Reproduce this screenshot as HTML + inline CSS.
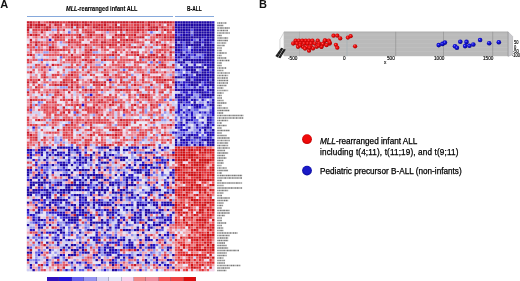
<!DOCTYPE html>
<html><head><meta charset="utf-8"><style>
*{margin:0;padding:0;box-sizing:border-box}
html,body{width:520px;height:281px;background:#fff;overflow:hidden}
body{position:relative;font-family:"Liberation Sans",sans-serif;color:#111;-webkit-font-smoothing:antialiased}
.a{position:absolute;white-space:nowrap;line-height:1;filter:grayscale(1)}
.lg{color:#000;-webkit-text-stroke:0.25px #000}
.gl{position:absolute;filter:grayscale(1);left:217px;font-size:8px;line-height:1;color:#5a5a5a;white-space:nowrap;transform:scale(0.31);transform-origin:0 0}
.ax{position:absolute;filter:grayscale(1);font-size:5.6px;line-height:1;color:#000;-webkit-text-stroke:0.15px #000;white-space:nowrap;transform:scaleX(0.84);transform-origin:0 0}
</style></head><body>
<div class="a" style="left:0.3px;top:-1.1px;font-size:11px;font-weight:bold">A</div>
<div class="a" style="left:65.8px;top:6.1px;font-size:6.5px;font-weight:bold;-webkit-text-stroke:0.12px #000;color:#000;transform:scaleX(0.86);transform-origin:0 0"><i>MLL</i>-rearranged infant ALL</div>
<div class="a" style="left:187.1px;top:6.1px;font-size:6.5px;font-weight:bold;-webkit-text-stroke:0.12px #000;color:#000;transform:scaleX(0.75);transform-origin:0 0">B-ALL</div>
<div style="position:absolute;left:27px;top:15.8px;width:145.7px;height:0.75px;background:#86a9dc"></div>
<div style="position:absolute;left:175px;top:15.8px;width:39.4px;height:0.75px;background:#86a9dc"></div>
<svg style="position:absolute;left:0;top:0;filter:blur(0.6px)" width="520" height="281" viewBox="0 0 520 281"><rect x="26.60" y="21.00" width="187.90" height="250.30" fill="#ebe8f3"/><path fill="#c81a28" d="M26.90 21.30h2.48v2.26h-2.48zM29.64 21.30h2.48v2.26h-2.48zM37.86 21.30h2.48v2.26h-2.48zM48.83 21.30h2.48v2.26h-2.48zM51.57 21.30h2.48v2.26h-2.48zM54.31 21.30h2.48v2.26h-2.48zM57.05 21.30h2.48v2.26h-2.48zM68.01 21.30h2.48v2.26h-2.48zM70.75 21.30h2.48v2.26h-2.48zM73.49 21.30h2.48v2.26h-2.48zM76.23 21.30h2.48v2.26h-2.48zM81.71 21.30h2.48v2.26h-2.48zM84.46 21.30h2.48v2.26h-2.48zM89.94 21.30h2.48v2.26h-2.48zM100.90 21.30h2.48v2.26h-2.48zM103.64 21.30h2.48v2.26h-2.48zM106.38 21.30h2.48v2.26h-2.48zM109.12 21.30h2.48v2.26h-2.48zM111.86 21.30h2.48v2.26h-2.48zM114.60 21.30h2.48v2.26h-2.48zM117.34 21.30h2.48v2.26h-2.48zM120.09 21.30h2.48v2.26h-2.48zM122.83 21.30h2.48v2.26h-2.48zM125.57 21.30h2.48v2.26h-2.48zM131.05 21.30h2.48v2.26h-2.48zM133.79 21.30h2.48v2.26h-2.48zM136.53 21.30h2.48v2.26h-2.48zM139.27 21.30h2.48v2.26h-2.48zM142.01 21.30h2.48v2.26h-2.48zM147.49 21.30h2.48v2.26h-2.48zM150.23 21.30h2.48v2.26h-2.48zM152.97 21.30h2.48v2.26h-2.48zM158.46 21.30h2.48v2.26h-2.48zM161.20 21.30h2.48v2.26h-2.48zM163.94 21.30h2.48v2.26h-2.48zM166.68 21.30h2.48v2.26h-2.48zM169.42 21.30h2.48v2.26h-2.48zM29.64 23.80h2.48v2.26h-2.48zM35.12 23.80h2.48v2.26h-2.48zM37.86 23.80h2.48v2.26h-2.48zM40.60 23.80h2.48v2.26h-2.48zM43.34 23.80h2.48v2.26h-2.48zM54.31 23.80h2.48v2.26h-2.48zM70.75 23.80h2.48v2.26h-2.48zM76.23 23.80h2.48v2.26h-2.48zM84.46 23.80h2.48v2.26h-2.48zM87.20 23.80h2.48v2.26h-2.48zM98.16 23.80h2.48v2.26h-2.48zM103.64 23.80h2.48v2.26h-2.48zM114.60 23.80h2.48v2.26h-2.48zM147.49 23.80h2.48v2.26h-2.48zM26.90 26.30h2.48v2.26h-2.48zM29.64 26.30h2.48v2.26h-2.48zM35.12 26.30h2.48v2.26h-2.48zM37.86 26.30h2.48v2.26h-2.48zM46.09 26.30h2.48v2.26h-2.48zM48.83 26.30h2.48v2.26h-2.48zM70.75 26.30h2.48v2.26h-2.48zM76.23 26.30h2.48v2.26h-2.48zM81.71 26.30h2.48v2.26h-2.48zM92.68 26.30h2.48v2.26h-2.48zM95.42 26.30h2.48v2.26h-2.48zM100.90 26.30h2.48v2.26h-2.48zM109.12 26.30h2.48v2.26h-2.48zM114.60 26.30h2.48v2.26h-2.48zM117.34 26.30h2.48v2.26h-2.48zM120.09 26.30h2.48v2.26h-2.48zM136.53 26.30h2.48v2.26h-2.48zM142.01 26.30h2.48v2.26h-2.48zM150.23 26.30h2.48v2.26h-2.48zM152.97 26.30h2.48v2.26h-2.48zM155.71 26.30h2.48v2.26h-2.48zM161.20 26.30h2.48v2.26h-2.48zM26.90 28.81h2.48v2.26h-2.48zM46.09 28.81h2.48v2.26h-2.48zM106.38 28.81h2.48v2.26h-2.48zM120.09 28.81h2.48v2.26h-2.48zM125.57 28.81h2.48v2.26h-2.48zM136.53 28.81h2.48v2.26h-2.48zM147.49 28.81h2.48v2.26h-2.48zM150.23 28.81h2.48v2.26h-2.48zM155.71 28.81h2.48v2.26h-2.48zM163.94 28.81h2.48v2.26h-2.48zM40.60 31.31h2.48v2.26h-2.48zM87.20 31.31h2.48v2.26h-2.48zM29.64 33.81h2.48v2.26h-2.48zM35.12 33.81h2.48v2.26h-2.48zM54.31 33.81h2.48v2.26h-2.48zM59.79 33.81h2.48v2.26h-2.48zM78.97 33.81h2.48v2.26h-2.48zM89.94 33.81h2.48v2.26h-2.48zM100.90 33.81h2.48v2.26h-2.48zM114.60 33.81h2.48v2.26h-2.48zM120.09 33.81h2.48v2.26h-2.48zM122.83 33.81h2.48v2.26h-2.48zM133.79 33.81h2.48v2.26h-2.48zM155.71 33.81h2.48v2.26h-2.48zM158.46 33.81h2.48v2.26h-2.48zM57.05 36.31h2.48v2.26h-2.48zM78.97 36.31h2.48v2.26h-2.48zM111.86 36.31h2.48v2.26h-2.48zM139.27 36.31h2.48v2.26h-2.48zM142.01 36.31h2.48v2.26h-2.48zM163.94 36.31h2.48v2.26h-2.48zM169.42 36.31h2.48v2.26h-2.48zM172.16 36.31h2.48v2.26h-2.48zM29.64 38.81h2.48v2.26h-2.48zM125.57 38.81h2.48v2.26h-2.48zM131.05 38.81h2.48v2.26h-2.48zM35.12 41.32h2.48v2.26h-2.48zM68.01 41.32h2.48v2.26h-2.48zM100.90 41.32h2.48v2.26h-2.48zM103.64 41.32h2.48v2.26h-2.48zM117.34 41.32h2.48v2.26h-2.48zM150.23 41.32h2.48v2.26h-2.48zM155.71 41.32h2.48v2.26h-2.48zM35.12 43.82h2.48v2.26h-2.48zM84.46 43.82h2.48v2.26h-2.48zM109.12 43.82h2.48v2.26h-2.48zM122.83 43.82h2.48v2.26h-2.48zM163.94 43.82h2.48v2.26h-2.48zM48.83 46.32h2.48v2.26h-2.48zM51.57 46.32h2.48v2.26h-2.48zM100.90 46.32h2.48v2.26h-2.48zM133.79 46.32h2.48v2.26h-2.48zM139.27 46.32h2.48v2.26h-2.48zM169.42 46.32h2.48v2.26h-2.48zM48.83 48.82h2.48v2.26h-2.48zM89.94 48.82h2.48v2.26h-2.48zM87.20 51.32h2.48v2.26h-2.48zM114.60 51.32h2.48v2.26h-2.48zM131.05 51.32h2.48v2.26h-2.48zM169.42 51.32h2.48v2.26h-2.48zM29.64 53.83h2.48v2.26h-2.48zM70.75 53.83h2.48v2.26h-2.48zM81.71 53.83h2.48v2.26h-2.48zM111.86 53.83h2.48v2.26h-2.48zM136.53 53.83h2.48v2.26h-2.48zM150.23 53.83h2.48v2.26h-2.48zM152.97 53.83h2.48v2.26h-2.48zM161.20 53.83h2.48v2.26h-2.48zM139.27 56.33h2.48v2.26h-2.48zM142.01 56.33h2.48v2.26h-2.48zM147.49 56.33h2.48v2.26h-2.48zM155.71 56.33h2.48v2.26h-2.48zM161.20 56.33h2.48v2.26h-2.48zM163.94 56.33h2.48v2.26h-2.48zM84.46 58.83h2.48v2.26h-2.48zM103.64 58.83h2.48v2.26h-2.48zM152.97 58.83h2.48v2.26h-2.48zM89.94 61.33h2.48v2.26h-2.48zM51.57 63.83h2.48v2.26h-2.48zM161.20 63.83h2.48v2.26h-2.48zM172.16 63.83h2.48v2.26h-2.48zM43.34 66.34h2.48v2.26h-2.48zM155.71 66.34h2.48v2.26h-2.48zM163.94 66.34h2.48v2.26h-2.48zM29.64 71.34h2.48v2.26h-2.48zM87.20 71.34h2.48v2.26h-2.48zM70.75 73.84h2.48v2.26h-2.48zM103.64 73.84h2.48v2.26h-2.48zM142.01 73.84h2.48v2.26h-2.48zM43.34 76.34h2.48v2.26h-2.48zM158.46 76.34h2.48v2.26h-2.48zM172.16 76.34h2.48v2.26h-2.48zM37.86 78.85h2.48v2.26h-2.48zM76.23 78.85h2.48v2.26h-2.48zM163.94 78.85h2.48v2.26h-2.48zM26.90 81.35h2.48v2.26h-2.48zM32.38 81.35h2.48v2.26h-2.48zM62.53 81.35h2.48v2.26h-2.48zM70.75 81.35h2.48v2.26h-2.48zM92.68 81.35h2.48v2.26h-2.48zM95.42 81.35h2.48v2.26h-2.48zM103.64 81.35h2.48v2.26h-2.48zM109.12 81.35h2.48v2.26h-2.48zM120.09 81.35h2.48v2.26h-2.48zM161.20 81.35h2.48v2.26h-2.48zM172.16 81.35h2.48v2.26h-2.48zM54.31 83.85h2.48v2.26h-2.48zM59.79 83.85h2.48v2.26h-2.48zM65.27 83.85h2.48v2.26h-2.48zM100.90 83.85h2.48v2.26h-2.48zM133.79 83.85h2.48v2.26h-2.48zM150.23 83.85h2.48v2.26h-2.48zM35.12 86.35h2.48v2.26h-2.48zM70.75 86.35h2.48v2.26h-2.48zM76.23 86.35h2.48v2.26h-2.48zM109.12 86.35h2.48v2.26h-2.48zM166.68 86.35h2.48v2.26h-2.48zM169.42 86.35h2.48v2.26h-2.48zM84.46 88.85h2.48v2.26h-2.48zM89.94 88.85h2.48v2.26h-2.48zM120.09 88.85h2.48v2.26h-2.48zM136.53 88.85h2.48v2.26h-2.48zM26.90 91.36h2.48v2.26h-2.48zM57.05 91.36h2.48v2.26h-2.48zM68.01 91.36h2.48v2.26h-2.48zM161.20 91.36h2.48v2.26h-2.48zM142.01 93.86h2.48v2.26h-2.48zM51.57 96.36h2.48v2.26h-2.48zM144.75 96.36h2.48v2.26h-2.48zM29.64 98.86h2.48v2.26h-2.48zM70.75 98.86h2.48v2.26h-2.48zM98.16 101.36h2.48v2.26h-2.48zM111.86 101.36h2.48v2.26h-2.48zM76.23 103.87h2.48v2.26h-2.48zM109.12 103.87h2.48v2.26h-2.48zM133.79 103.87h2.48v2.26h-2.48zM150.23 103.87h2.48v2.26h-2.48zM29.64 106.37h2.48v2.26h-2.48zM62.53 106.37h2.48v2.26h-2.48zM92.68 106.37h2.48v2.26h-2.48zM122.83 108.87h2.48v2.26h-2.48zM169.42 108.87h2.48v2.26h-2.48zM62.53 111.37h2.48v2.26h-2.48zM68.01 111.37h2.48v2.26h-2.48zM76.23 111.37h2.48v2.26h-2.48zM95.42 111.37h2.48v2.26h-2.48zM37.86 118.88h2.48v2.26h-2.48zM62.53 118.88h2.48v2.26h-2.48zM120.09 118.88h2.48v2.26h-2.48zM152.97 118.88h2.48v2.26h-2.48zM70.75 121.38h2.48v2.26h-2.48zM84.46 121.38h2.48v2.26h-2.48zM65.27 123.88h2.48v2.26h-2.48zM125.57 123.88h2.48v2.26h-2.48zM169.42 123.88h2.48v2.26h-2.48zM51.57 126.38h2.48v2.26h-2.48zM89.94 126.38h2.48v2.26h-2.48zM57.05 128.89h2.48v2.26h-2.48zM111.86 128.89h2.48v2.26h-2.48zM114.60 128.89h2.48v2.26h-2.48zM117.34 128.89h2.48v2.26h-2.48zM26.90 131.39h2.48v2.26h-2.48zM29.64 133.89h2.48v2.26h-2.48zM89.94 133.89h2.48v2.26h-2.48zM106.38 133.89h2.48v2.26h-2.48zM114.60 133.89h2.48v2.26h-2.48zM161.20 133.89h2.48v2.26h-2.48zM35.12 136.39h2.48v2.26h-2.48zM43.34 136.39h2.48v2.26h-2.48zM133.79 138.89h2.48v2.26h-2.48zM117.34 141.40h2.48v2.26h-2.48zM84.46 143.90h2.48v2.26h-2.48zM103.64 143.90h2.48v2.26h-2.48zM109.12 143.90h2.48v2.26h-2.48zM147.49 143.90h2.48v2.26h-2.48z"/><path fill="#de3a44" d="M32.38 21.30h2.48v2.26h-2.48zM46.09 21.30h2.48v2.26h-2.48zM59.79 21.30h2.48v2.26h-2.48zM62.53 21.30h2.48v2.26h-2.48zM65.27 21.30h2.48v2.26h-2.48zM78.97 21.30h2.48v2.26h-2.48zM87.20 21.30h2.48v2.26h-2.48zM92.68 21.30h2.48v2.26h-2.48zM95.42 21.30h2.48v2.26h-2.48zM98.16 21.30h2.48v2.26h-2.48zM128.31 21.30h2.48v2.26h-2.48zM155.71 21.30h2.48v2.26h-2.48zM172.16 21.30h2.48v2.26h-2.48zM26.90 23.80h2.48v2.26h-2.48zM32.38 23.80h2.48v2.26h-2.48zM48.83 23.80h2.48v2.26h-2.48zM57.05 23.80h2.48v2.26h-2.48zM59.79 23.80h2.48v2.26h-2.48zM65.27 23.80h2.48v2.26h-2.48zM73.49 23.80h2.48v2.26h-2.48zM81.71 23.80h2.48v2.26h-2.48zM92.68 23.80h2.48v2.26h-2.48zM95.42 23.80h2.48v2.26h-2.48zM100.90 23.80h2.48v2.26h-2.48zM120.09 23.80h2.48v2.26h-2.48zM122.83 23.80h2.48v2.26h-2.48zM125.57 23.80h2.48v2.26h-2.48zM133.79 23.80h2.48v2.26h-2.48zM136.53 23.80h2.48v2.26h-2.48zM142.01 23.80h2.48v2.26h-2.48zM158.46 23.80h2.48v2.26h-2.48zM166.68 23.80h2.48v2.26h-2.48zM43.34 26.30h2.48v2.26h-2.48zM57.05 26.30h2.48v2.26h-2.48zM98.16 26.30h2.48v2.26h-2.48zM103.64 26.30h2.48v2.26h-2.48zM106.38 26.30h2.48v2.26h-2.48zM111.86 26.30h2.48v2.26h-2.48zM122.83 26.30h2.48v2.26h-2.48zM125.57 26.30h2.48v2.26h-2.48zM128.31 26.30h2.48v2.26h-2.48zM131.05 26.30h2.48v2.26h-2.48zM133.79 26.30h2.48v2.26h-2.48zM139.27 26.30h2.48v2.26h-2.48zM147.49 26.30h2.48v2.26h-2.48zM172.16 26.30h2.48v2.26h-2.48zM32.38 28.81h2.48v2.26h-2.48zM35.12 28.81h2.48v2.26h-2.48zM40.60 28.81h2.48v2.26h-2.48zM43.34 28.81h2.48v2.26h-2.48zM57.05 28.81h2.48v2.26h-2.48zM62.53 28.81h2.48v2.26h-2.48zM76.23 28.81h2.48v2.26h-2.48zM84.46 28.81h2.48v2.26h-2.48zM95.42 28.81h2.48v2.26h-2.48zM98.16 28.81h2.48v2.26h-2.48zM100.90 28.81h2.48v2.26h-2.48zM103.64 28.81h2.48v2.26h-2.48zM109.12 28.81h2.48v2.26h-2.48zM111.86 28.81h2.48v2.26h-2.48zM114.60 28.81h2.48v2.26h-2.48zM117.34 28.81h2.48v2.26h-2.48zM128.31 28.81h2.48v2.26h-2.48zM131.05 28.81h2.48v2.26h-2.48zM133.79 28.81h2.48v2.26h-2.48zM139.27 28.81h2.48v2.26h-2.48zM142.01 28.81h2.48v2.26h-2.48zM152.97 28.81h2.48v2.26h-2.48zM166.68 28.81h2.48v2.26h-2.48zM172.16 28.81h2.48v2.26h-2.48zM26.90 31.31h2.48v2.26h-2.48zM84.46 31.31h2.48v2.26h-2.48zM89.94 31.31h2.48v2.26h-2.48zM92.68 31.31h2.48v2.26h-2.48zM120.09 31.31h2.48v2.26h-2.48zM133.79 31.31h2.48v2.26h-2.48zM136.53 31.31h2.48v2.26h-2.48zM142.01 31.31h2.48v2.26h-2.48zM166.68 31.31h2.48v2.26h-2.48zM169.42 31.31h2.48v2.26h-2.48zM32.38 33.81h2.48v2.26h-2.48zM65.27 33.81h2.48v2.26h-2.48zM68.01 33.81h2.48v2.26h-2.48zM76.23 33.81h2.48v2.26h-2.48zM87.20 33.81h2.48v2.26h-2.48zM117.34 33.81h2.48v2.26h-2.48zM128.31 33.81h2.48v2.26h-2.48zM131.05 33.81h2.48v2.26h-2.48zM163.94 33.81h2.48v2.26h-2.48zM172.16 33.81h2.48v2.26h-2.48zM40.60 36.31h2.48v2.26h-2.48zM51.57 36.31h2.48v2.26h-2.48zM54.31 36.31h2.48v2.26h-2.48zM76.23 36.31h2.48v2.26h-2.48zM81.71 36.31h2.48v2.26h-2.48zM87.20 36.31h2.48v2.26h-2.48zM89.94 36.31h2.48v2.26h-2.48zM100.90 36.31h2.48v2.26h-2.48zM117.34 36.31h2.48v2.26h-2.48zM120.09 36.31h2.48v2.26h-2.48zM128.31 36.31h2.48v2.26h-2.48zM133.79 36.31h2.48v2.26h-2.48zM136.53 36.31h2.48v2.26h-2.48zM155.71 36.31h2.48v2.26h-2.48zM166.68 36.31h2.48v2.26h-2.48zM54.31 38.81h2.48v2.26h-2.48zM70.75 38.81h2.48v2.26h-2.48zM95.42 38.81h2.48v2.26h-2.48zM111.86 38.81h2.48v2.26h-2.48zM114.60 38.81h2.48v2.26h-2.48zM120.09 38.81h2.48v2.26h-2.48zM122.83 38.81h2.48v2.26h-2.48zM128.31 38.81h2.48v2.26h-2.48zM169.42 38.81h2.48v2.26h-2.48zM29.64 41.32h2.48v2.26h-2.48zM37.86 41.32h2.48v2.26h-2.48zM51.57 41.32h2.48v2.26h-2.48zM70.75 41.32h2.48v2.26h-2.48zM73.49 41.32h2.48v2.26h-2.48zM76.23 41.32h2.48v2.26h-2.48zM78.97 41.32h2.48v2.26h-2.48zM89.94 41.32h2.48v2.26h-2.48zM92.68 41.32h2.48v2.26h-2.48zM95.42 41.32h2.48v2.26h-2.48zM111.86 41.32h2.48v2.26h-2.48zM114.60 41.32h2.48v2.26h-2.48zM122.83 41.32h2.48v2.26h-2.48zM133.79 41.32h2.48v2.26h-2.48zM136.53 41.32h2.48v2.26h-2.48zM158.46 41.32h2.48v2.26h-2.48zM26.90 43.82h2.48v2.26h-2.48zM40.60 43.82h2.48v2.26h-2.48zM76.23 43.82h2.48v2.26h-2.48zM100.90 43.82h2.48v2.26h-2.48zM111.86 43.82h2.48v2.26h-2.48zM114.60 43.82h2.48v2.26h-2.48zM120.09 43.82h2.48v2.26h-2.48zM128.31 43.82h2.48v2.26h-2.48zM142.01 43.82h2.48v2.26h-2.48zM155.71 43.82h2.48v2.26h-2.48zM161.20 43.82h2.48v2.26h-2.48zM32.38 46.32h2.48v2.26h-2.48zM62.53 46.32h2.48v2.26h-2.48zM70.75 46.32h2.48v2.26h-2.48zM78.97 46.32h2.48v2.26h-2.48zM109.12 46.32h2.48v2.26h-2.48zM128.31 46.32h2.48v2.26h-2.48zM131.05 46.32h2.48v2.26h-2.48zM150.23 46.32h2.48v2.26h-2.48zM163.94 46.32h2.48v2.26h-2.48zM35.12 48.82h2.48v2.26h-2.48zM51.57 48.82h2.48v2.26h-2.48zM54.31 48.82h2.48v2.26h-2.48zM57.05 48.82h2.48v2.26h-2.48zM59.79 48.82h2.48v2.26h-2.48zM62.53 48.82h2.48v2.26h-2.48zM84.46 48.82h2.48v2.26h-2.48zM158.46 48.82h2.48v2.26h-2.48zM161.20 48.82h2.48v2.26h-2.48zM68.01 51.32h2.48v2.26h-2.48zM84.46 51.32h2.48v2.26h-2.48zM111.86 51.32h2.48v2.26h-2.48zM133.79 51.32h2.48v2.26h-2.48zM136.53 51.32h2.48v2.26h-2.48zM155.71 51.32h2.48v2.26h-2.48zM158.46 51.32h2.48v2.26h-2.48zM163.94 51.32h2.48v2.26h-2.48zM26.90 53.83h2.48v2.26h-2.48zM59.79 53.83h2.48v2.26h-2.48zM84.46 53.83h2.48v2.26h-2.48zM87.20 53.83h2.48v2.26h-2.48zM92.68 53.83h2.48v2.26h-2.48zM106.38 53.83h2.48v2.26h-2.48zM109.12 53.83h2.48v2.26h-2.48zM117.34 53.83h2.48v2.26h-2.48zM125.57 53.83h2.48v2.26h-2.48zM133.79 53.83h2.48v2.26h-2.48zM169.42 53.83h2.48v2.26h-2.48zM70.75 56.33h2.48v2.26h-2.48zM73.49 56.33h2.48v2.26h-2.48zM76.23 56.33h2.48v2.26h-2.48zM78.97 56.33h2.48v2.26h-2.48zM87.20 56.33h2.48v2.26h-2.48zM103.64 56.33h2.48v2.26h-2.48zM144.75 56.33h2.48v2.26h-2.48zM150.23 56.33h2.48v2.26h-2.48zM158.46 56.33h2.48v2.26h-2.48zM26.90 58.83h2.48v2.26h-2.48zM51.57 58.83h2.48v2.26h-2.48zM54.31 58.83h2.48v2.26h-2.48zM68.01 58.83h2.48v2.26h-2.48zM73.49 58.83h2.48v2.26h-2.48zM81.71 58.83h2.48v2.26h-2.48zM89.94 58.83h2.48v2.26h-2.48zM92.68 58.83h2.48v2.26h-2.48zM100.90 58.83h2.48v2.26h-2.48zM128.31 58.83h2.48v2.26h-2.48zM139.27 58.83h2.48v2.26h-2.48zM163.94 58.83h2.48v2.26h-2.48zM26.90 61.33h2.48v2.26h-2.48zM87.20 61.33h2.48v2.26h-2.48zM111.86 61.33h2.48v2.26h-2.48zM117.34 61.33h2.48v2.26h-2.48zM133.79 61.33h2.48v2.26h-2.48zM136.53 61.33h2.48v2.26h-2.48zM139.27 61.33h2.48v2.26h-2.48zM155.71 61.33h2.48v2.26h-2.48zM161.20 61.33h2.48v2.26h-2.48zM35.12 63.83h2.48v2.26h-2.48zM57.05 63.83h2.48v2.26h-2.48zM76.23 63.83h2.48v2.26h-2.48zM84.46 63.83h2.48v2.26h-2.48zM103.64 63.83h2.48v2.26h-2.48zM122.83 63.83h2.48v2.26h-2.48zM147.49 63.83h2.48v2.26h-2.48zM163.94 63.83h2.48v2.26h-2.48zM68.01 66.34h2.48v2.26h-2.48zM70.75 66.34h2.48v2.26h-2.48zM81.71 66.34h2.48v2.26h-2.48zM84.46 66.34h2.48v2.26h-2.48zM89.94 66.34h2.48v2.26h-2.48zM120.09 66.34h2.48v2.26h-2.48zM122.83 66.34h2.48v2.26h-2.48zM125.57 66.34h2.48v2.26h-2.48zM128.31 66.34h2.48v2.26h-2.48zM131.05 66.34h2.48v2.26h-2.48zM139.27 66.34h2.48v2.26h-2.48zM161.20 66.34h2.48v2.26h-2.48zM172.16 66.34h2.48v2.26h-2.48zM103.64 68.84h2.48v2.26h-2.48zM128.31 68.84h2.48v2.26h-2.48zM152.97 68.84h2.48v2.26h-2.48zM43.34 71.34h2.48v2.26h-2.48zM70.75 71.34h2.48v2.26h-2.48zM73.49 71.34h2.48v2.26h-2.48zM122.83 71.34h2.48v2.26h-2.48zM150.23 71.34h2.48v2.26h-2.48zM152.97 71.34h2.48v2.26h-2.48zM155.71 71.34h2.48v2.26h-2.48zM163.94 71.34h2.48v2.26h-2.48zM43.34 73.84h2.48v2.26h-2.48zM51.57 73.84h2.48v2.26h-2.48zM54.31 73.84h2.48v2.26h-2.48zM57.05 73.84h2.48v2.26h-2.48zM68.01 73.84h2.48v2.26h-2.48zM89.94 73.84h2.48v2.26h-2.48zM106.38 73.84h2.48v2.26h-2.48zM114.60 73.84h2.48v2.26h-2.48zM65.27 76.34h2.48v2.26h-2.48zM76.23 76.34h2.48v2.26h-2.48zM95.42 76.34h2.48v2.26h-2.48zM109.12 76.34h2.48v2.26h-2.48zM117.34 76.34h2.48v2.26h-2.48zM120.09 76.34h2.48v2.26h-2.48zM122.83 76.34h2.48v2.26h-2.48zM133.79 76.34h2.48v2.26h-2.48zM142.01 76.34h2.48v2.26h-2.48zM152.97 76.34h2.48v2.26h-2.48zM155.71 76.34h2.48v2.26h-2.48zM29.64 78.85h2.48v2.26h-2.48zM62.53 78.85h2.48v2.26h-2.48zM65.27 78.85h2.48v2.26h-2.48zM70.75 78.85h2.48v2.26h-2.48zM89.94 78.85h2.48v2.26h-2.48zM106.38 78.85h2.48v2.26h-2.48zM120.09 78.85h2.48v2.26h-2.48zM133.79 78.85h2.48v2.26h-2.48zM142.01 78.85h2.48v2.26h-2.48zM155.71 78.85h2.48v2.26h-2.48zM158.46 78.85h2.48v2.26h-2.48zM161.20 78.85h2.48v2.26h-2.48zM166.68 78.85h2.48v2.26h-2.48zM169.42 78.85h2.48v2.26h-2.48zM35.12 81.35h2.48v2.26h-2.48zM59.79 81.35h2.48v2.26h-2.48zM65.27 81.35h2.48v2.26h-2.48zM73.49 81.35h2.48v2.26h-2.48zM89.94 81.35h2.48v2.26h-2.48zM98.16 81.35h2.48v2.26h-2.48zM122.83 81.35h2.48v2.26h-2.48zM128.31 81.35h2.48v2.26h-2.48zM142.01 81.35h2.48v2.26h-2.48zM155.71 81.35h2.48v2.26h-2.48zM158.46 81.35h2.48v2.26h-2.48zM37.86 83.85h2.48v2.26h-2.48zM57.05 83.85h2.48v2.26h-2.48zM62.53 83.85h2.48v2.26h-2.48zM70.75 83.85h2.48v2.26h-2.48zM76.23 83.85h2.48v2.26h-2.48zM92.68 83.85h2.48v2.26h-2.48zM95.42 83.85h2.48v2.26h-2.48zM98.16 83.85h2.48v2.26h-2.48zM103.64 83.85h2.48v2.26h-2.48zM163.94 83.85h2.48v2.26h-2.48zM166.68 83.85h2.48v2.26h-2.48zM68.01 86.35h2.48v2.26h-2.48zM147.49 86.35h2.48v2.26h-2.48zM163.94 86.35h2.48v2.26h-2.48zM32.38 88.85h2.48v2.26h-2.48zM62.53 88.85h2.48v2.26h-2.48zM70.75 88.85h2.48v2.26h-2.48zM92.68 88.85h2.48v2.26h-2.48zM100.90 88.85h2.48v2.26h-2.48zM114.60 88.85h2.48v2.26h-2.48zM117.34 88.85h2.48v2.26h-2.48zM122.83 88.85h2.48v2.26h-2.48zM125.57 88.85h2.48v2.26h-2.48zM128.31 88.85h2.48v2.26h-2.48zM133.79 88.85h2.48v2.26h-2.48zM152.97 88.85h2.48v2.26h-2.48zM46.09 91.36h2.48v2.26h-2.48zM54.31 91.36h2.48v2.26h-2.48zM152.97 91.36h2.48v2.26h-2.48zM158.46 91.36h2.48v2.26h-2.48zM40.60 93.86h2.48v2.26h-2.48zM54.31 93.86h2.48v2.26h-2.48zM59.79 93.86h2.48v2.26h-2.48zM98.16 93.86h2.48v2.26h-2.48zM109.12 93.86h2.48v2.26h-2.48zM128.31 93.86h2.48v2.26h-2.48zM139.27 93.86h2.48v2.26h-2.48zM144.75 93.86h2.48v2.26h-2.48zM147.49 93.86h2.48v2.26h-2.48zM62.53 96.36h2.48v2.26h-2.48zM84.46 96.36h2.48v2.26h-2.48zM87.20 96.36h2.48v2.26h-2.48zM92.68 96.36h2.48v2.26h-2.48zM103.64 96.36h2.48v2.26h-2.48zM106.38 96.36h2.48v2.26h-2.48zM114.60 96.36h2.48v2.26h-2.48zM128.31 96.36h2.48v2.26h-2.48zM139.27 96.36h2.48v2.26h-2.48zM142.01 96.36h2.48v2.26h-2.48zM147.49 96.36h2.48v2.26h-2.48zM32.38 98.86h2.48v2.26h-2.48zM35.12 98.86h2.48v2.26h-2.48zM40.60 98.86h2.48v2.26h-2.48zM62.53 98.86h2.48v2.26h-2.48zM68.01 98.86h2.48v2.26h-2.48zM84.46 98.86h2.48v2.26h-2.48zM89.94 98.86h2.48v2.26h-2.48zM100.90 98.86h2.48v2.26h-2.48zM109.12 98.86h2.48v2.26h-2.48zM136.53 98.86h2.48v2.26h-2.48zM147.49 98.86h2.48v2.26h-2.48zM46.09 101.36h2.48v2.26h-2.48zM51.57 101.36h2.48v2.26h-2.48zM54.31 101.36h2.48v2.26h-2.48zM100.90 101.36h2.48v2.26h-2.48zM103.64 101.36h2.48v2.26h-2.48zM114.60 101.36h2.48v2.26h-2.48zM117.34 101.36h2.48v2.26h-2.48zM139.27 101.36h2.48v2.26h-2.48zM155.71 101.36h2.48v2.26h-2.48zM29.64 103.87h2.48v2.26h-2.48zM35.12 103.87h2.48v2.26h-2.48zM43.34 103.87h2.48v2.26h-2.48zM70.75 103.87h2.48v2.26h-2.48zM95.42 103.87h2.48v2.26h-2.48zM111.86 103.87h2.48v2.26h-2.48zM120.09 103.87h2.48v2.26h-2.48zM131.05 103.87h2.48v2.26h-2.48zM166.68 103.87h2.48v2.26h-2.48zM46.09 106.37h2.48v2.26h-2.48zM51.57 106.37h2.48v2.26h-2.48zM54.31 106.37h2.48v2.26h-2.48zM78.97 106.37h2.48v2.26h-2.48zM87.20 106.37h2.48v2.26h-2.48zM98.16 106.37h2.48v2.26h-2.48zM120.09 106.37h2.48v2.26h-2.48zM139.27 106.37h2.48v2.26h-2.48zM142.01 106.37h2.48v2.26h-2.48zM152.97 106.37h2.48v2.26h-2.48zM172.16 106.37h2.48v2.26h-2.48zM26.90 108.87h2.48v2.26h-2.48zM43.34 108.87h2.48v2.26h-2.48zM54.31 108.87h2.48v2.26h-2.48zM57.05 108.87h2.48v2.26h-2.48zM65.27 108.87h2.48v2.26h-2.48zM68.01 108.87h2.48v2.26h-2.48zM73.49 108.87h2.48v2.26h-2.48zM84.46 108.87h2.48v2.26h-2.48zM87.20 108.87h2.48v2.26h-2.48zM95.42 108.87h2.48v2.26h-2.48zM114.60 108.87h2.48v2.26h-2.48zM117.34 108.87h2.48v2.26h-2.48zM131.05 108.87h2.48v2.26h-2.48zM133.79 108.87h2.48v2.26h-2.48zM87.20 111.37h2.48v2.26h-2.48zM158.46 111.37h2.48v2.26h-2.48zM54.31 113.87h2.48v2.26h-2.48zM100.90 113.87h2.48v2.26h-2.48zM106.38 113.87h2.48v2.26h-2.48zM150.23 113.87h2.48v2.26h-2.48zM26.90 116.38h2.48v2.26h-2.48zM92.68 116.38h2.48v2.26h-2.48zM98.16 116.38h2.48v2.26h-2.48zM26.90 118.88h2.48v2.26h-2.48zM35.12 118.88h2.48v2.26h-2.48zM54.31 118.88h2.48v2.26h-2.48zM57.05 118.88h2.48v2.26h-2.48zM59.79 118.88h2.48v2.26h-2.48zM68.01 118.88h2.48v2.26h-2.48zM70.75 118.88h2.48v2.26h-2.48zM76.23 118.88h2.48v2.26h-2.48zM87.20 118.88h2.48v2.26h-2.48zM98.16 118.88h2.48v2.26h-2.48zM106.38 118.88h2.48v2.26h-2.48zM122.83 118.88h2.48v2.26h-2.48zM125.57 118.88h2.48v2.26h-2.48zM128.31 118.88h2.48v2.26h-2.48zM133.79 118.88h2.48v2.26h-2.48zM136.53 118.88h2.48v2.26h-2.48zM169.42 118.88h2.48v2.26h-2.48zM51.57 121.38h2.48v2.26h-2.48zM76.23 121.38h2.48v2.26h-2.48zM89.94 121.38h2.48v2.26h-2.48zM95.42 121.38h2.48v2.26h-2.48zM98.16 121.38h2.48v2.26h-2.48zM100.90 121.38h2.48v2.26h-2.48zM103.64 121.38h2.48v2.26h-2.48zM109.12 121.38h2.48v2.26h-2.48zM125.57 121.38h2.48v2.26h-2.48zM133.79 121.38h2.48v2.26h-2.48zM150.23 121.38h2.48v2.26h-2.48zM29.64 123.88h2.48v2.26h-2.48zM35.12 123.88h2.48v2.26h-2.48zM43.34 123.88h2.48v2.26h-2.48zM70.75 123.88h2.48v2.26h-2.48zM89.94 123.88h2.48v2.26h-2.48zM122.83 123.88h2.48v2.26h-2.48zM62.53 126.38h2.48v2.26h-2.48zM68.01 126.38h2.48v2.26h-2.48zM136.53 126.38h2.48v2.26h-2.48zM150.23 126.38h2.48v2.26h-2.48zM155.71 126.38h2.48v2.26h-2.48zM163.94 126.38h2.48v2.26h-2.48zM62.53 128.89h2.48v2.26h-2.48zM70.75 128.89h2.48v2.26h-2.48zM76.23 128.89h2.48v2.26h-2.48zM87.20 128.89h2.48v2.26h-2.48zM89.94 128.89h2.48v2.26h-2.48zM109.12 128.89h2.48v2.26h-2.48zM150.23 128.89h2.48v2.26h-2.48zM48.83 131.39h2.48v2.26h-2.48zM54.31 131.39h2.48v2.26h-2.48zM65.27 131.39h2.48v2.26h-2.48zM70.75 131.39h2.48v2.26h-2.48zM92.68 131.39h2.48v2.26h-2.48zM98.16 131.39h2.48v2.26h-2.48zM120.09 131.39h2.48v2.26h-2.48zM139.27 131.39h2.48v2.26h-2.48zM142.01 131.39h2.48v2.26h-2.48zM26.90 133.89h2.48v2.26h-2.48zM62.53 133.89h2.48v2.26h-2.48zM65.27 133.89h2.48v2.26h-2.48zM78.97 133.89h2.48v2.26h-2.48zM98.16 133.89h2.48v2.26h-2.48zM100.90 133.89h2.48v2.26h-2.48zM109.12 133.89h2.48v2.26h-2.48zM111.86 133.89h2.48v2.26h-2.48zM117.34 133.89h2.48v2.26h-2.48zM120.09 133.89h2.48v2.26h-2.48zM139.27 133.89h2.48v2.26h-2.48zM142.01 133.89h2.48v2.26h-2.48zM163.94 133.89h2.48v2.26h-2.48zM169.42 133.89h2.48v2.26h-2.48zM29.64 136.39h2.48v2.26h-2.48zM32.38 136.39h2.48v2.26h-2.48zM70.75 136.39h2.48v2.26h-2.48zM81.71 136.39h2.48v2.26h-2.48zM114.60 136.39h2.48v2.26h-2.48zM122.83 136.39h2.48v2.26h-2.48zM150.23 136.39h2.48v2.26h-2.48zM35.12 138.89h2.48v2.26h-2.48zM84.46 138.89h2.48v2.26h-2.48zM87.20 138.89h2.48v2.26h-2.48zM89.94 138.89h2.48v2.26h-2.48zM95.42 138.89h2.48v2.26h-2.48zM166.68 138.89h2.48v2.26h-2.48zM37.86 141.40h2.48v2.26h-2.48zM43.34 141.40h2.48v2.26h-2.48zM70.75 141.40h2.48v2.26h-2.48zM73.49 141.40h2.48v2.26h-2.48zM84.46 141.40h2.48v2.26h-2.48zM87.20 141.40h2.48v2.26h-2.48zM98.16 141.40h2.48v2.26h-2.48zM114.60 141.40h2.48v2.26h-2.48zM120.09 141.40h2.48v2.26h-2.48zM161.20 141.40h2.48v2.26h-2.48zM59.79 143.90h2.48v2.26h-2.48zM87.20 143.90h2.48v2.26h-2.48zM120.09 143.90h2.48v2.26h-2.48zM125.57 143.90h2.48v2.26h-2.48zM150.23 143.90h2.48v2.26h-2.48zM152.97 143.90h2.48v2.26h-2.48z"/><path fill="#e6565f" d="M35.12 21.30h2.48v2.26h-2.48zM43.34 21.30h2.48v2.26h-2.48zM144.75 21.30h2.48v2.26h-2.48zM68.01 23.80h2.48v2.26h-2.48zM78.97 23.80h2.48v2.26h-2.48zM89.94 23.80h2.48v2.26h-2.48zM106.38 23.80h2.48v2.26h-2.48zM111.86 23.80h2.48v2.26h-2.48zM128.31 23.80h2.48v2.26h-2.48zM131.05 23.80h2.48v2.26h-2.48zM139.27 23.80h2.48v2.26h-2.48zM144.75 23.80h2.48v2.26h-2.48zM150.23 23.80h2.48v2.26h-2.48zM152.97 23.80h2.48v2.26h-2.48zM169.42 23.80h2.48v2.26h-2.48zM32.38 26.30h2.48v2.26h-2.48zM40.60 26.30h2.48v2.26h-2.48zM59.79 26.30h2.48v2.26h-2.48zM65.27 26.30h2.48v2.26h-2.48zM68.01 26.30h2.48v2.26h-2.48zM78.97 26.30h2.48v2.26h-2.48zM87.20 26.30h2.48v2.26h-2.48zM89.94 26.30h2.48v2.26h-2.48zM158.46 26.30h2.48v2.26h-2.48zM163.94 26.30h2.48v2.26h-2.48zM166.68 26.30h2.48v2.26h-2.48zM37.86 28.81h2.48v2.26h-2.48zM48.83 28.81h2.48v2.26h-2.48zM73.49 28.81h2.48v2.26h-2.48zM81.71 28.81h2.48v2.26h-2.48zM87.20 28.81h2.48v2.26h-2.48zM89.94 28.81h2.48v2.26h-2.48zM122.83 28.81h2.48v2.26h-2.48zM144.75 28.81h2.48v2.26h-2.48zM161.20 28.81h2.48v2.26h-2.48zM169.42 28.81h2.48v2.26h-2.48zM32.38 31.31h2.48v2.26h-2.48zM35.12 31.31h2.48v2.26h-2.48zM57.05 31.31h2.48v2.26h-2.48zM76.23 31.31h2.48v2.26h-2.48zM81.71 31.31h2.48v2.26h-2.48zM114.60 31.31h2.48v2.26h-2.48zM125.57 31.31h2.48v2.26h-2.48zM128.31 31.31h2.48v2.26h-2.48zM131.05 31.31h2.48v2.26h-2.48zM161.20 31.31h2.48v2.26h-2.48zM26.90 33.81h2.48v2.26h-2.48zM37.86 33.81h2.48v2.26h-2.48zM57.05 33.81h2.48v2.26h-2.48zM62.53 33.81h2.48v2.26h-2.48zM70.75 33.81h2.48v2.26h-2.48zM73.49 33.81h2.48v2.26h-2.48zM92.68 33.81h2.48v2.26h-2.48zM95.42 33.81h2.48v2.26h-2.48zM98.16 33.81h2.48v2.26h-2.48zM125.57 33.81h2.48v2.26h-2.48zM142.01 33.81h2.48v2.26h-2.48zM144.75 33.81h2.48v2.26h-2.48zM147.49 33.81h2.48v2.26h-2.48zM161.20 33.81h2.48v2.26h-2.48zM166.68 33.81h2.48v2.26h-2.48zM169.42 33.81h2.48v2.26h-2.48zM35.12 36.31h2.48v2.26h-2.48zM46.09 36.31h2.48v2.26h-2.48zM59.79 36.31h2.48v2.26h-2.48zM62.53 36.31h2.48v2.26h-2.48zM70.75 36.31h2.48v2.26h-2.48zM84.46 36.31h2.48v2.26h-2.48zM95.42 36.31h2.48v2.26h-2.48zM98.16 36.31h2.48v2.26h-2.48zM103.64 36.31h2.48v2.26h-2.48zM114.60 36.31h2.48v2.26h-2.48zM122.83 36.31h2.48v2.26h-2.48zM131.05 36.31h2.48v2.26h-2.48zM150.23 36.31h2.48v2.26h-2.48zM152.97 36.31h2.48v2.26h-2.48zM158.46 36.31h2.48v2.26h-2.48zM161.20 36.31h2.48v2.26h-2.48zM57.05 38.81h2.48v2.26h-2.48zM59.79 38.81h2.48v2.26h-2.48zM62.53 38.81h2.48v2.26h-2.48zM68.01 38.81h2.48v2.26h-2.48zM73.49 38.81h2.48v2.26h-2.48zM78.97 38.81h2.48v2.26h-2.48zM81.71 38.81h2.48v2.26h-2.48zM92.68 38.81h2.48v2.26h-2.48zM103.64 38.81h2.48v2.26h-2.48zM109.12 38.81h2.48v2.26h-2.48zM133.79 38.81h2.48v2.26h-2.48zM144.75 38.81h2.48v2.26h-2.48zM150.23 38.81h2.48v2.26h-2.48zM152.97 38.81h2.48v2.26h-2.48zM161.20 38.81h2.48v2.26h-2.48zM163.94 38.81h2.48v2.26h-2.48zM166.68 38.81h2.48v2.26h-2.48zM32.38 41.32h2.48v2.26h-2.48zM40.60 41.32h2.48v2.26h-2.48zM46.09 41.32h2.48v2.26h-2.48zM48.83 41.32h2.48v2.26h-2.48zM54.31 41.32h2.48v2.26h-2.48zM65.27 41.32h2.48v2.26h-2.48zM106.38 41.32h2.48v2.26h-2.48zM109.12 41.32h2.48v2.26h-2.48zM120.09 41.32h2.48v2.26h-2.48zM125.57 41.32h2.48v2.26h-2.48zM128.31 41.32h2.48v2.26h-2.48zM131.05 41.32h2.48v2.26h-2.48zM139.27 41.32h2.48v2.26h-2.48zM142.01 41.32h2.48v2.26h-2.48zM29.64 43.82h2.48v2.26h-2.48zM43.34 43.82h2.48v2.26h-2.48zM46.09 43.82h2.48v2.26h-2.48zM51.57 43.82h2.48v2.26h-2.48zM68.01 43.82h2.48v2.26h-2.48zM78.97 43.82h2.48v2.26h-2.48zM81.71 43.82h2.48v2.26h-2.48zM87.20 43.82h2.48v2.26h-2.48zM92.68 43.82h2.48v2.26h-2.48zM95.42 43.82h2.48v2.26h-2.48zM98.16 43.82h2.48v2.26h-2.48zM103.64 43.82h2.48v2.26h-2.48zM106.38 43.82h2.48v2.26h-2.48zM26.90 46.32h2.48v2.26h-2.48zM29.64 46.32h2.48v2.26h-2.48zM37.86 46.32h2.48v2.26h-2.48zM54.31 46.32h2.48v2.26h-2.48zM65.27 46.32h2.48v2.26h-2.48zM84.46 46.32h2.48v2.26h-2.48zM87.20 46.32h2.48v2.26h-2.48zM89.94 46.32h2.48v2.26h-2.48zM103.64 46.32h2.48v2.26h-2.48zM111.86 46.32h2.48v2.26h-2.48zM114.60 46.32h2.48v2.26h-2.48zM117.34 46.32h2.48v2.26h-2.48zM120.09 46.32h2.48v2.26h-2.48zM125.57 46.32h2.48v2.26h-2.48zM136.53 46.32h2.48v2.26h-2.48zM144.75 46.32h2.48v2.26h-2.48zM161.20 46.32h2.48v2.26h-2.48zM172.16 46.32h2.48v2.26h-2.48zM29.64 48.82h2.48v2.26h-2.48zM37.86 48.82h2.48v2.26h-2.48zM40.60 48.82h2.48v2.26h-2.48zM46.09 48.82h2.48v2.26h-2.48zM65.27 48.82h2.48v2.26h-2.48zM68.01 48.82h2.48v2.26h-2.48zM73.49 48.82h2.48v2.26h-2.48zM87.20 48.82h2.48v2.26h-2.48zM92.68 48.82h2.48v2.26h-2.48zM95.42 48.82h2.48v2.26h-2.48zM103.64 48.82h2.48v2.26h-2.48zM106.38 48.82h2.48v2.26h-2.48zM114.60 48.82h2.48v2.26h-2.48zM117.34 48.82h2.48v2.26h-2.48zM122.83 48.82h2.48v2.26h-2.48zM155.71 48.82h2.48v2.26h-2.48zM163.94 48.82h2.48v2.26h-2.48zM166.68 48.82h2.48v2.26h-2.48zM29.64 51.32h2.48v2.26h-2.48zM54.31 51.32h2.48v2.26h-2.48zM73.49 51.32h2.48v2.26h-2.48zM89.94 51.32h2.48v2.26h-2.48zM120.09 51.32h2.48v2.26h-2.48zM125.57 51.32h2.48v2.26h-2.48zM144.75 51.32h2.48v2.26h-2.48zM172.16 51.32h2.48v2.26h-2.48zM32.38 53.83h2.48v2.26h-2.48zM43.34 53.83h2.48v2.26h-2.48zM46.09 53.83h2.48v2.26h-2.48zM48.83 53.83h2.48v2.26h-2.48zM51.57 53.83h2.48v2.26h-2.48zM54.31 53.83h2.48v2.26h-2.48zM57.05 53.83h2.48v2.26h-2.48zM62.53 53.83h2.48v2.26h-2.48zM65.27 53.83h2.48v2.26h-2.48zM89.94 53.83h2.48v2.26h-2.48zM95.42 53.83h2.48v2.26h-2.48zM98.16 53.83h2.48v2.26h-2.48zM100.90 53.83h2.48v2.26h-2.48zM103.64 53.83h2.48v2.26h-2.48zM114.60 53.83h2.48v2.26h-2.48zM128.31 53.83h2.48v2.26h-2.48zM131.05 53.83h2.48v2.26h-2.48zM142.01 53.83h2.48v2.26h-2.48zM147.49 53.83h2.48v2.26h-2.48zM155.71 53.83h2.48v2.26h-2.48zM32.38 56.33h2.48v2.26h-2.48zM62.53 56.33h2.48v2.26h-2.48zM68.01 56.33h2.48v2.26h-2.48zM84.46 56.33h2.48v2.26h-2.48zM95.42 56.33h2.48v2.26h-2.48zM114.60 56.33h2.48v2.26h-2.48zM120.09 56.33h2.48v2.26h-2.48zM152.97 56.33h2.48v2.26h-2.48zM169.42 56.33h2.48v2.26h-2.48zM32.38 58.83h2.48v2.26h-2.48zM35.12 58.83h2.48v2.26h-2.48zM43.34 58.83h2.48v2.26h-2.48zM46.09 58.83h2.48v2.26h-2.48zM65.27 58.83h2.48v2.26h-2.48zM70.75 58.83h2.48v2.26h-2.48zM87.20 58.83h2.48v2.26h-2.48zM106.38 58.83h2.48v2.26h-2.48zM109.12 58.83h2.48v2.26h-2.48zM111.86 58.83h2.48v2.26h-2.48zM114.60 58.83h2.48v2.26h-2.48zM120.09 58.83h2.48v2.26h-2.48zM122.83 58.83h2.48v2.26h-2.48zM125.57 58.83h2.48v2.26h-2.48zM131.05 58.83h2.48v2.26h-2.48zM133.79 58.83h2.48v2.26h-2.48zM147.49 58.83h2.48v2.26h-2.48zM158.46 58.83h2.48v2.26h-2.48zM161.20 58.83h2.48v2.26h-2.48zM166.68 58.83h2.48v2.26h-2.48zM169.42 58.83h2.48v2.26h-2.48zM172.16 58.83h2.48v2.26h-2.48zM29.64 61.33h2.48v2.26h-2.48zM40.60 61.33h2.48v2.26h-2.48zM62.53 61.33h2.48v2.26h-2.48zM70.75 61.33h2.48v2.26h-2.48zM73.49 61.33h2.48v2.26h-2.48zM78.97 61.33h2.48v2.26h-2.48zM120.09 61.33h2.48v2.26h-2.48zM122.83 61.33h2.48v2.26h-2.48zM142.01 61.33h2.48v2.26h-2.48zM144.75 61.33h2.48v2.26h-2.48zM37.86 63.83h2.48v2.26h-2.48zM54.31 63.83h2.48v2.26h-2.48zM59.79 63.83h2.48v2.26h-2.48zM70.75 63.83h2.48v2.26h-2.48zM111.86 63.83h2.48v2.26h-2.48zM114.60 63.83h2.48v2.26h-2.48zM117.34 63.83h2.48v2.26h-2.48zM133.79 63.83h2.48v2.26h-2.48zM152.97 63.83h2.48v2.26h-2.48zM158.46 63.83h2.48v2.26h-2.48zM29.64 66.34h2.48v2.26h-2.48zM35.12 66.34h2.48v2.26h-2.48zM40.60 66.34h2.48v2.26h-2.48zM48.83 66.34h2.48v2.26h-2.48zM65.27 66.34h2.48v2.26h-2.48zM92.68 66.34h2.48v2.26h-2.48zM95.42 66.34h2.48v2.26h-2.48zM98.16 66.34h2.48v2.26h-2.48zM100.90 66.34h2.48v2.26h-2.48zM109.12 66.34h2.48v2.26h-2.48zM117.34 66.34h2.48v2.26h-2.48zM133.79 66.34h2.48v2.26h-2.48zM136.53 66.34h2.48v2.26h-2.48zM158.46 66.34h2.48v2.26h-2.48zM166.68 66.34h2.48v2.26h-2.48zM169.42 66.34h2.48v2.26h-2.48zM32.38 68.84h2.48v2.26h-2.48zM40.60 68.84h2.48v2.26h-2.48zM62.53 68.84h2.48v2.26h-2.48zM76.23 68.84h2.48v2.26h-2.48zM81.71 68.84h2.48v2.26h-2.48zM89.94 68.84h2.48v2.26h-2.48zM95.42 68.84h2.48v2.26h-2.48zM111.86 68.84h2.48v2.26h-2.48zM114.60 68.84h2.48v2.26h-2.48zM131.05 68.84h2.48v2.26h-2.48zM136.53 68.84h2.48v2.26h-2.48zM139.27 68.84h2.48v2.26h-2.48zM150.23 68.84h2.48v2.26h-2.48zM26.90 71.34h2.48v2.26h-2.48zM57.05 71.34h2.48v2.26h-2.48zM76.23 71.34h2.48v2.26h-2.48zM100.90 71.34h2.48v2.26h-2.48zM103.64 71.34h2.48v2.26h-2.48zM106.38 71.34h2.48v2.26h-2.48zM117.34 71.34h2.48v2.26h-2.48zM120.09 71.34h2.48v2.26h-2.48zM125.57 71.34h2.48v2.26h-2.48zM139.27 71.34h2.48v2.26h-2.48zM142.01 71.34h2.48v2.26h-2.48zM172.16 71.34h2.48v2.26h-2.48zM40.60 73.84h2.48v2.26h-2.48zM73.49 73.84h2.48v2.26h-2.48zM76.23 73.84h2.48v2.26h-2.48zM81.71 73.84h2.48v2.26h-2.48zM84.46 73.84h2.48v2.26h-2.48zM92.68 73.84h2.48v2.26h-2.48zM117.34 73.84h2.48v2.26h-2.48zM125.57 73.84h2.48v2.26h-2.48zM128.31 73.84h2.48v2.26h-2.48zM144.75 73.84h2.48v2.26h-2.48zM147.49 73.84h2.48v2.26h-2.48zM161.20 73.84h2.48v2.26h-2.48zM29.64 76.34h2.48v2.26h-2.48zM40.60 76.34h2.48v2.26h-2.48zM46.09 76.34h2.48v2.26h-2.48zM51.57 76.34h2.48v2.26h-2.48zM54.31 76.34h2.48v2.26h-2.48zM68.01 76.34h2.48v2.26h-2.48zM70.75 76.34h2.48v2.26h-2.48zM73.49 76.34h2.48v2.26h-2.48zM114.60 76.34h2.48v2.26h-2.48zM125.57 76.34h2.48v2.26h-2.48zM131.05 76.34h2.48v2.26h-2.48zM147.49 76.34h2.48v2.26h-2.48zM150.23 76.34h2.48v2.26h-2.48zM161.20 76.34h2.48v2.26h-2.48zM26.90 78.85h2.48v2.26h-2.48zM32.38 78.85h2.48v2.26h-2.48zM35.12 78.85h2.48v2.26h-2.48zM43.34 78.85h2.48v2.26h-2.48zM68.01 78.85h2.48v2.26h-2.48zM95.42 78.85h2.48v2.26h-2.48zM131.05 78.85h2.48v2.26h-2.48zM152.97 78.85h2.48v2.26h-2.48zM172.16 78.85h2.48v2.26h-2.48zM43.34 81.35h2.48v2.26h-2.48zM46.09 81.35h2.48v2.26h-2.48zM51.57 81.35h2.48v2.26h-2.48zM54.31 81.35h2.48v2.26h-2.48zM68.01 81.35h2.48v2.26h-2.48zM76.23 81.35h2.48v2.26h-2.48zM84.46 81.35h2.48v2.26h-2.48zM100.90 81.35h2.48v2.26h-2.48zM111.86 81.35h2.48v2.26h-2.48zM114.60 81.35h2.48v2.26h-2.48zM125.57 81.35h2.48v2.26h-2.48zM133.79 81.35h2.48v2.26h-2.48zM144.75 81.35h2.48v2.26h-2.48zM147.49 81.35h2.48v2.26h-2.48zM163.94 81.35h2.48v2.26h-2.48zM26.90 83.85h2.48v2.26h-2.48zM32.38 83.85h2.48v2.26h-2.48zM48.83 83.85h2.48v2.26h-2.48zM51.57 83.85h2.48v2.26h-2.48zM117.34 83.85h2.48v2.26h-2.48zM122.83 83.85h2.48v2.26h-2.48zM125.57 83.85h2.48v2.26h-2.48zM131.05 83.85h2.48v2.26h-2.48zM136.53 83.85h2.48v2.26h-2.48zM139.27 83.85h2.48v2.26h-2.48zM26.90 86.35h2.48v2.26h-2.48zM37.86 86.35h2.48v2.26h-2.48zM40.60 86.35h2.48v2.26h-2.48zM78.97 86.35h2.48v2.26h-2.48zM95.42 86.35h2.48v2.26h-2.48zM98.16 86.35h2.48v2.26h-2.48zM125.57 86.35h2.48v2.26h-2.48zM144.75 86.35h2.48v2.26h-2.48zM35.12 88.85h2.48v2.26h-2.48zM37.86 88.85h2.48v2.26h-2.48zM48.83 88.85h2.48v2.26h-2.48zM54.31 88.85h2.48v2.26h-2.48zM57.05 88.85h2.48v2.26h-2.48zM65.27 88.85h2.48v2.26h-2.48zM76.23 88.85h2.48v2.26h-2.48zM81.71 88.85h2.48v2.26h-2.48zM87.20 88.85h2.48v2.26h-2.48zM95.42 88.85h2.48v2.26h-2.48zM98.16 88.85h2.48v2.26h-2.48zM106.38 88.85h2.48v2.26h-2.48zM144.75 88.85h2.48v2.26h-2.48zM147.49 88.85h2.48v2.26h-2.48zM150.23 88.85h2.48v2.26h-2.48zM161.20 88.85h2.48v2.26h-2.48zM163.94 88.85h2.48v2.26h-2.48zM169.42 88.85h2.48v2.26h-2.48zM32.38 91.36h2.48v2.26h-2.48zM37.86 91.36h2.48v2.26h-2.48zM78.97 91.36h2.48v2.26h-2.48zM84.46 91.36h2.48v2.26h-2.48zM89.94 91.36h2.48v2.26h-2.48zM92.68 91.36h2.48v2.26h-2.48zM95.42 91.36h2.48v2.26h-2.48zM117.34 91.36h2.48v2.26h-2.48zM125.57 91.36h2.48v2.26h-2.48zM128.31 91.36h2.48v2.26h-2.48zM136.53 91.36h2.48v2.26h-2.48zM139.27 91.36h2.48v2.26h-2.48zM147.49 91.36h2.48v2.26h-2.48zM169.42 91.36h2.48v2.26h-2.48zM26.90 93.86h2.48v2.26h-2.48zM46.09 93.86h2.48v2.26h-2.48zM57.05 93.86h2.48v2.26h-2.48zM81.71 93.86h2.48v2.26h-2.48zM95.42 93.86h2.48v2.26h-2.48zM114.60 93.86h2.48v2.26h-2.48zM133.79 93.86h2.48v2.26h-2.48zM163.94 93.86h2.48v2.26h-2.48zM166.68 93.86h2.48v2.26h-2.48zM35.12 96.36h2.48v2.26h-2.48zM54.31 96.36h2.48v2.26h-2.48zM89.94 96.36h2.48v2.26h-2.48zM95.42 96.36h2.48v2.26h-2.48zM109.12 96.36h2.48v2.26h-2.48zM111.86 96.36h2.48v2.26h-2.48zM150.23 96.36h2.48v2.26h-2.48zM161.20 96.36h2.48v2.26h-2.48zM163.94 96.36h2.48v2.26h-2.48zM166.68 96.36h2.48v2.26h-2.48zM37.86 98.86h2.48v2.26h-2.48zM43.34 98.86h2.48v2.26h-2.48zM51.57 98.86h2.48v2.26h-2.48zM59.79 98.86h2.48v2.26h-2.48zM65.27 98.86h2.48v2.26h-2.48zM76.23 98.86h2.48v2.26h-2.48zM92.68 98.86h2.48v2.26h-2.48zM98.16 98.86h2.48v2.26h-2.48zM106.38 98.86h2.48v2.26h-2.48zM111.86 98.86h2.48v2.26h-2.48zM120.09 98.86h2.48v2.26h-2.48zM128.31 98.86h2.48v2.26h-2.48zM133.79 98.86h2.48v2.26h-2.48zM150.23 98.86h2.48v2.26h-2.48zM158.46 98.86h2.48v2.26h-2.48zM161.20 98.86h2.48v2.26h-2.48zM172.16 98.86h2.48v2.26h-2.48zM29.64 101.36h2.48v2.26h-2.48zM48.83 101.36h2.48v2.26h-2.48zM65.27 101.36h2.48v2.26h-2.48zM70.75 101.36h2.48v2.26h-2.48zM76.23 101.36h2.48v2.26h-2.48zM84.46 101.36h2.48v2.26h-2.48zM87.20 101.36h2.48v2.26h-2.48zM92.68 101.36h2.48v2.26h-2.48zM95.42 101.36h2.48v2.26h-2.48zM106.38 101.36h2.48v2.26h-2.48zM120.09 101.36h2.48v2.26h-2.48zM122.83 101.36h2.48v2.26h-2.48zM150.23 101.36h2.48v2.26h-2.48zM158.46 101.36h2.48v2.26h-2.48zM161.20 101.36h2.48v2.26h-2.48zM46.09 103.87h2.48v2.26h-2.48zM54.31 103.87h2.48v2.26h-2.48zM57.05 103.87h2.48v2.26h-2.48zM65.27 103.87h2.48v2.26h-2.48zM68.01 103.87h2.48v2.26h-2.48zM73.49 103.87h2.48v2.26h-2.48zM78.97 103.87h2.48v2.26h-2.48zM84.46 103.87h2.48v2.26h-2.48zM92.68 103.87h2.48v2.26h-2.48zM103.64 103.87h2.48v2.26h-2.48zM142.01 103.87h2.48v2.26h-2.48zM144.75 103.87h2.48v2.26h-2.48zM152.97 103.87h2.48v2.26h-2.48zM155.71 103.87h2.48v2.26h-2.48zM26.90 106.37h2.48v2.26h-2.48zM40.60 106.37h2.48v2.26h-2.48zM43.34 106.37h2.48v2.26h-2.48zM48.83 106.37h2.48v2.26h-2.48zM73.49 106.37h2.48v2.26h-2.48zM84.46 106.37h2.48v2.26h-2.48zM89.94 106.37h2.48v2.26h-2.48zM103.64 106.37h2.48v2.26h-2.48zM117.34 106.37h2.48v2.26h-2.48zM131.05 106.37h2.48v2.26h-2.48zM150.23 106.37h2.48v2.26h-2.48zM155.71 106.37h2.48v2.26h-2.48zM37.86 108.87h2.48v2.26h-2.48zM46.09 108.87h2.48v2.26h-2.48zM51.57 108.87h2.48v2.26h-2.48zM62.53 108.87h2.48v2.26h-2.48zM76.23 108.87h2.48v2.26h-2.48zM81.71 108.87h2.48v2.26h-2.48zM89.94 108.87h2.48v2.26h-2.48zM92.68 108.87h2.48v2.26h-2.48zM98.16 108.87h2.48v2.26h-2.48zM100.90 108.87h2.48v2.26h-2.48zM125.57 108.87h2.48v2.26h-2.48zM142.01 108.87h2.48v2.26h-2.48zM150.23 108.87h2.48v2.26h-2.48zM158.46 108.87h2.48v2.26h-2.48zM163.94 108.87h2.48v2.26h-2.48zM172.16 108.87h2.48v2.26h-2.48zM29.64 111.37h2.48v2.26h-2.48zM43.34 111.37h2.48v2.26h-2.48zM46.09 111.37h2.48v2.26h-2.48zM48.83 111.37h2.48v2.26h-2.48zM51.57 111.37h2.48v2.26h-2.48zM54.31 111.37h2.48v2.26h-2.48zM59.79 111.37h2.48v2.26h-2.48zM89.94 111.37h2.48v2.26h-2.48zM92.68 111.37h2.48v2.26h-2.48zM109.12 111.37h2.48v2.26h-2.48zM122.83 111.37h2.48v2.26h-2.48zM125.57 111.37h2.48v2.26h-2.48zM128.31 111.37h2.48v2.26h-2.48zM139.27 111.37h2.48v2.26h-2.48zM142.01 111.37h2.48v2.26h-2.48zM152.97 111.37h2.48v2.26h-2.48zM155.71 111.37h2.48v2.26h-2.48zM169.42 111.37h2.48v2.26h-2.48zM46.09 113.87h2.48v2.26h-2.48zM48.83 113.87h2.48v2.26h-2.48zM57.05 113.87h2.48v2.26h-2.48zM59.79 113.87h2.48v2.26h-2.48zM65.27 113.87h2.48v2.26h-2.48zM73.49 113.87h2.48v2.26h-2.48zM81.71 113.87h2.48v2.26h-2.48zM84.46 113.87h2.48v2.26h-2.48zM98.16 113.87h2.48v2.26h-2.48zM131.05 113.87h2.48v2.26h-2.48zM147.49 113.87h2.48v2.26h-2.48zM43.34 116.38h2.48v2.26h-2.48zM46.09 116.38h2.48v2.26h-2.48zM48.83 116.38h2.48v2.26h-2.48zM54.31 116.38h2.48v2.26h-2.48zM62.53 116.38h2.48v2.26h-2.48zM65.27 116.38h2.48v2.26h-2.48zM68.01 116.38h2.48v2.26h-2.48zM76.23 116.38h2.48v2.26h-2.48zM78.97 116.38h2.48v2.26h-2.48zM103.64 116.38h2.48v2.26h-2.48zM111.86 116.38h2.48v2.26h-2.48zM117.34 116.38h2.48v2.26h-2.48zM150.23 116.38h2.48v2.26h-2.48zM158.46 116.38h2.48v2.26h-2.48zM161.20 116.38h2.48v2.26h-2.48zM40.60 118.88h2.48v2.26h-2.48zM43.34 118.88h2.48v2.26h-2.48zM51.57 118.88h2.48v2.26h-2.48zM65.27 118.88h2.48v2.26h-2.48zM78.97 118.88h2.48v2.26h-2.48zM81.71 118.88h2.48v2.26h-2.48zM89.94 118.88h2.48v2.26h-2.48zM92.68 118.88h2.48v2.26h-2.48zM95.42 118.88h2.48v2.26h-2.48zM100.90 118.88h2.48v2.26h-2.48zM103.64 118.88h2.48v2.26h-2.48zM117.34 118.88h2.48v2.26h-2.48zM131.05 118.88h2.48v2.26h-2.48zM144.75 118.88h2.48v2.26h-2.48zM147.49 118.88h2.48v2.26h-2.48zM155.71 118.88h2.48v2.26h-2.48zM158.46 118.88h2.48v2.26h-2.48zM26.90 121.38h2.48v2.26h-2.48zM46.09 121.38h2.48v2.26h-2.48zM54.31 121.38h2.48v2.26h-2.48zM87.20 121.38h2.48v2.26h-2.48zM92.68 121.38h2.48v2.26h-2.48zM106.38 121.38h2.48v2.26h-2.48zM117.34 121.38h2.48v2.26h-2.48zM120.09 121.38h2.48v2.26h-2.48zM122.83 121.38h2.48v2.26h-2.48zM128.31 121.38h2.48v2.26h-2.48zM152.97 121.38h2.48v2.26h-2.48zM26.90 123.88h2.48v2.26h-2.48zM32.38 123.88h2.48v2.26h-2.48zM40.60 123.88h2.48v2.26h-2.48zM54.31 123.88h2.48v2.26h-2.48zM68.01 123.88h2.48v2.26h-2.48zM73.49 123.88h2.48v2.26h-2.48zM109.12 123.88h2.48v2.26h-2.48zM117.34 123.88h2.48v2.26h-2.48zM120.09 123.88h2.48v2.26h-2.48zM139.27 123.88h2.48v2.26h-2.48zM144.75 123.88h2.48v2.26h-2.48zM161.20 123.88h2.48v2.26h-2.48zM166.68 123.88h2.48v2.26h-2.48zM35.12 126.38h2.48v2.26h-2.48zM65.27 126.38h2.48v2.26h-2.48zM70.75 126.38h2.48v2.26h-2.48zM73.49 126.38h2.48v2.26h-2.48zM76.23 126.38h2.48v2.26h-2.48zM78.97 126.38h2.48v2.26h-2.48zM92.68 126.38h2.48v2.26h-2.48zM103.64 126.38h2.48v2.26h-2.48zM106.38 126.38h2.48v2.26h-2.48zM109.12 126.38h2.48v2.26h-2.48zM111.86 126.38h2.48v2.26h-2.48zM114.60 126.38h2.48v2.26h-2.48zM122.83 126.38h2.48v2.26h-2.48zM131.05 126.38h2.48v2.26h-2.48zM133.79 126.38h2.48v2.26h-2.48zM152.97 126.38h2.48v2.26h-2.48zM161.20 126.38h2.48v2.26h-2.48zM40.60 128.89h2.48v2.26h-2.48zM65.27 128.89h2.48v2.26h-2.48zM68.01 128.89h2.48v2.26h-2.48zM84.46 128.89h2.48v2.26h-2.48zM98.16 128.89h2.48v2.26h-2.48zM120.09 128.89h2.48v2.26h-2.48zM128.31 128.89h2.48v2.26h-2.48zM131.05 128.89h2.48v2.26h-2.48zM133.79 128.89h2.48v2.26h-2.48zM139.27 128.89h2.48v2.26h-2.48zM144.75 128.89h2.48v2.26h-2.48zM147.49 128.89h2.48v2.26h-2.48zM35.12 131.39h2.48v2.26h-2.48zM46.09 131.39h2.48v2.26h-2.48zM51.57 131.39h2.48v2.26h-2.48zM57.05 131.39h2.48v2.26h-2.48zM62.53 131.39h2.48v2.26h-2.48zM95.42 131.39h2.48v2.26h-2.48zM114.60 131.39h2.48v2.26h-2.48zM117.34 131.39h2.48v2.26h-2.48zM144.75 131.39h2.48v2.26h-2.48zM150.23 131.39h2.48v2.26h-2.48zM158.46 131.39h2.48v2.26h-2.48zM163.94 131.39h2.48v2.26h-2.48zM32.38 133.89h2.48v2.26h-2.48zM35.12 133.89h2.48v2.26h-2.48zM68.01 133.89h2.48v2.26h-2.48zM70.75 133.89h2.48v2.26h-2.48zM87.20 133.89h2.48v2.26h-2.48zM92.68 133.89h2.48v2.26h-2.48zM103.64 133.89h2.48v2.26h-2.48zM136.53 133.89h2.48v2.26h-2.48zM144.75 133.89h2.48v2.26h-2.48zM152.97 133.89h2.48v2.26h-2.48zM166.68 133.89h2.48v2.26h-2.48zM26.90 136.39h2.48v2.26h-2.48zM51.57 136.39h2.48v2.26h-2.48zM62.53 136.39h2.48v2.26h-2.48zM65.27 136.39h2.48v2.26h-2.48zM68.01 136.39h2.48v2.26h-2.48zM89.94 136.39h2.48v2.26h-2.48zM100.90 136.39h2.48v2.26h-2.48zM111.86 136.39h2.48v2.26h-2.48zM117.34 136.39h2.48v2.26h-2.48zM131.05 136.39h2.48v2.26h-2.48zM136.53 136.39h2.48v2.26h-2.48zM142.01 136.39h2.48v2.26h-2.48zM155.71 136.39h2.48v2.26h-2.48zM172.16 136.39h2.48v2.26h-2.48zM29.64 138.89h2.48v2.26h-2.48zM32.38 138.89h2.48v2.26h-2.48zM40.60 138.89h2.48v2.26h-2.48zM43.34 138.89h2.48v2.26h-2.48zM51.57 138.89h2.48v2.26h-2.48zM68.01 138.89h2.48v2.26h-2.48zM73.49 138.89h2.48v2.26h-2.48zM76.23 138.89h2.48v2.26h-2.48zM78.97 138.89h2.48v2.26h-2.48zM100.90 138.89h2.48v2.26h-2.48zM122.83 138.89h2.48v2.26h-2.48zM125.57 138.89h2.48v2.26h-2.48zM136.53 138.89h2.48v2.26h-2.48zM155.71 138.89h2.48v2.26h-2.48zM161.20 138.89h2.48v2.26h-2.48zM169.42 138.89h2.48v2.26h-2.48zM26.90 141.40h2.48v2.26h-2.48zM29.64 141.40h2.48v2.26h-2.48zM95.42 141.40h2.48v2.26h-2.48zM100.90 141.40h2.48v2.26h-2.48zM103.64 141.40h2.48v2.26h-2.48zM133.79 141.40h2.48v2.26h-2.48zM163.94 141.40h2.48v2.26h-2.48zM169.42 141.40h2.48v2.26h-2.48zM26.90 143.90h2.48v2.26h-2.48zM32.38 143.90h2.48v2.26h-2.48zM37.86 143.90h2.48v2.26h-2.48zM51.57 143.90h2.48v2.26h-2.48zM76.23 143.90h2.48v2.26h-2.48zM78.97 143.90h2.48v2.26h-2.48zM95.42 143.90h2.48v2.26h-2.48zM100.90 143.90h2.48v2.26h-2.48zM106.38 143.90h2.48v2.26h-2.48zM111.86 143.90h2.48v2.26h-2.48zM117.34 143.90h2.48v2.26h-2.48zM131.05 143.90h2.48v2.26h-2.48zM133.79 143.90h2.48v2.26h-2.48zM142.01 143.90h2.48v2.26h-2.48zM144.75 143.90h2.48v2.26h-2.48z"/><path fill="#ec8090" d="M40.60 21.30h2.48v2.26h-2.48zM109.12 23.80h2.48v2.26h-2.48zM155.71 23.80h2.48v2.26h-2.48zM161.20 23.80h2.48v2.26h-2.48zM172.16 23.80h2.48v2.26h-2.48zM51.57 26.30h2.48v2.26h-2.48zM54.31 26.30h2.48v2.26h-2.48zM62.53 26.30h2.48v2.26h-2.48zM144.75 26.30h2.48v2.26h-2.48zM169.42 26.30h2.48v2.26h-2.48zM59.79 28.81h2.48v2.26h-2.48zM70.75 28.81h2.48v2.26h-2.48zM92.68 28.81h2.48v2.26h-2.48zM43.34 31.31h2.48v2.26h-2.48zM103.64 31.31h2.48v2.26h-2.48zM109.12 31.31h2.48v2.26h-2.48zM111.86 31.31h2.48v2.26h-2.48zM139.27 31.31h2.48v2.26h-2.48zM144.75 31.31h2.48v2.26h-2.48zM43.34 33.81h2.48v2.26h-2.48zM48.83 33.81h2.48v2.26h-2.48zM51.57 33.81h2.48v2.26h-2.48zM84.46 33.81h2.48v2.26h-2.48zM103.64 33.81h2.48v2.26h-2.48zM139.27 33.81h2.48v2.26h-2.48zM152.97 33.81h2.48v2.26h-2.48zM26.90 36.31h2.48v2.26h-2.48zM32.38 36.31h2.48v2.26h-2.48zM43.34 36.31h2.48v2.26h-2.48zM35.12 38.81h2.48v2.26h-2.48zM46.09 38.81h2.48v2.26h-2.48zM87.20 38.81h2.48v2.26h-2.48zM98.16 38.81h2.48v2.26h-2.48zM100.90 38.81h2.48v2.26h-2.48zM106.38 38.81h2.48v2.26h-2.48zM136.53 38.81h2.48v2.26h-2.48zM147.49 38.81h2.48v2.26h-2.48zM158.46 38.81h2.48v2.26h-2.48zM172.16 38.81h2.48v2.26h-2.48zM43.34 41.32h2.48v2.26h-2.48zM62.53 41.32h2.48v2.26h-2.48zM98.16 41.32h2.48v2.26h-2.48zM152.97 41.32h2.48v2.26h-2.48zM163.94 41.32h2.48v2.26h-2.48zM169.42 41.32h2.48v2.26h-2.48zM37.86 43.82h2.48v2.26h-2.48zM54.31 43.82h2.48v2.26h-2.48zM70.75 43.82h2.48v2.26h-2.48zM73.49 43.82h2.48v2.26h-2.48zM89.94 43.82h2.48v2.26h-2.48zM125.57 43.82h2.48v2.26h-2.48zM139.27 43.82h2.48v2.26h-2.48zM152.97 43.82h2.48v2.26h-2.48zM158.46 43.82h2.48v2.26h-2.48zM166.68 43.82h2.48v2.26h-2.48zM40.60 46.32h2.48v2.26h-2.48zM46.09 46.32h2.48v2.26h-2.48zM68.01 46.32h2.48v2.26h-2.48zM73.49 46.32h2.48v2.26h-2.48zM76.23 46.32h2.48v2.26h-2.48zM95.42 46.32h2.48v2.26h-2.48zM98.16 46.32h2.48v2.26h-2.48zM147.49 46.32h2.48v2.26h-2.48zM166.68 46.32h2.48v2.26h-2.48zM32.38 48.82h2.48v2.26h-2.48zM43.34 48.82h2.48v2.26h-2.48zM100.90 48.82h2.48v2.26h-2.48zM120.09 48.82h2.48v2.26h-2.48zM128.31 48.82h2.48v2.26h-2.48zM147.49 48.82h2.48v2.26h-2.48zM152.97 48.82h2.48v2.26h-2.48zM169.42 48.82h2.48v2.26h-2.48zM26.90 51.32h2.48v2.26h-2.48zM35.12 51.32h2.48v2.26h-2.48zM37.86 51.32h2.48v2.26h-2.48zM48.83 51.32h2.48v2.26h-2.48zM51.57 51.32h2.48v2.26h-2.48zM57.05 51.32h2.48v2.26h-2.48zM103.64 51.32h2.48v2.26h-2.48zM128.31 51.32h2.48v2.26h-2.48zM142.01 51.32h2.48v2.26h-2.48zM76.23 53.83h2.48v2.26h-2.48zM78.97 53.83h2.48v2.26h-2.48zM139.27 53.83h2.48v2.26h-2.48zM163.94 53.83h2.48v2.26h-2.48zM65.27 56.33h2.48v2.26h-2.48zM100.90 56.33h2.48v2.26h-2.48zM106.38 56.33h2.48v2.26h-2.48zM122.83 56.33h2.48v2.26h-2.48zM125.57 56.33h2.48v2.26h-2.48zM133.79 56.33h2.48v2.26h-2.48zM166.68 56.33h2.48v2.26h-2.48zM29.64 58.83h2.48v2.26h-2.48zM48.83 58.83h2.48v2.26h-2.48zM59.79 58.83h2.48v2.26h-2.48zM78.97 58.83h2.48v2.26h-2.48zM117.34 58.83h2.48v2.26h-2.48zM150.23 58.83h2.48v2.26h-2.48zM59.79 61.33h2.48v2.26h-2.48zM65.27 61.33h2.48v2.26h-2.48zM68.01 61.33h2.48v2.26h-2.48zM76.23 61.33h2.48v2.26h-2.48zM84.46 61.33h2.48v2.26h-2.48zM92.68 61.33h2.48v2.26h-2.48zM125.57 61.33h2.48v2.26h-2.48zM128.31 61.33h2.48v2.26h-2.48zM152.97 61.33h2.48v2.26h-2.48zM163.94 61.33h2.48v2.26h-2.48zM78.97 63.83h2.48v2.26h-2.48zM89.94 63.83h2.48v2.26h-2.48zM120.09 63.83h2.48v2.26h-2.48zM136.53 63.83h2.48v2.26h-2.48zM150.23 63.83h2.48v2.26h-2.48zM26.90 66.34h2.48v2.26h-2.48zM37.86 66.34h2.48v2.26h-2.48zM46.09 66.34h2.48v2.26h-2.48zM73.49 66.34h2.48v2.26h-2.48zM106.38 66.34h2.48v2.26h-2.48zM114.60 66.34h2.48v2.26h-2.48zM144.75 66.34h2.48v2.26h-2.48zM147.49 66.34h2.48v2.26h-2.48zM150.23 66.34h2.48v2.26h-2.48zM37.86 68.84h2.48v2.26h-2.48zM43.34 68.84h2.48v2.26h-2.48zM87.20 68.84h2.48v2.26h-2.48zM92.68 68.84h2.48v2.26h-2.48zM106.38 68.84h2.48v2.26h-2.48zM117.34 68.84h2.48v2.26h-2.48zM142.01 68.84h2.48v2.26h-2.48zM144.75 68.84h2.48v2.26h-2.48zM32.38 71.34h2.48v2.26h-2.48zM62.53 71.34h2.48v2.26h-2.48zM68.01 71.34h2.48v2.26h-2.48zM78.97 71.34h2.48v2.26h-2.48zM84.46 71.34h2.48v2.26h-2.48zM89.94 71.34h2.48v2.26h-2.48zM95.42 71.34h2.48v2.26h-2.48zM133.79 71.34h2.48v2.26h-2.48zM136.53 71.34h2.48v2.26h-2.48zM158.46 71.34h2.48v2.26h-2.48zM161.20 71.34h2.48v2.26h-2.48zM35.12 73.84h2.48v2.26h-2.48zM59.79 73.84h2.48v2.26h-2.48zM65.27 73.84h2.48v2.26h-2.48zM111.86 73.84h2.48v2.26h-2.48zM172.16 73.84h2.48v2.26h-2.48zM32.38 76.34h2.48v2.26h-2.48zM35.12 76.34h2.48v2.26h-2.48zM59.79 76.34h2.48v2.26h-2.48zM62.53 76.34h2.48v2.26h-2.48zM100.90 76.34h2.48v2.26h-2.48zM103.64 76.34h2.48v2.26h-2.48zM106.38 76.34h2.48v2.26h-2.48zM111.86 76.34h2.48v2.26h-2.48zM169.42 76.34h2.48v2.26h-2.48zM81.71 78.85h2.48v2.26h-2.48zM87.20 78.85h2.48v2.26h-2.48zM114.60 78.85h2.48v2.26h-2.48zM128.31 78.85h2.48v2.26h-2.48zM139.27 78.85h2.48v2.26h-2.48zM29.64 81.35h2.48v2.26h-2.48zM81.71 81.35h2.48v2.26h-2.48zM87.20 81.35h2.48v2.26h-2.48zM136.53 81.35h2.48v2.26h-2.48zM150.23 81.35h2.48v2.26h-2.48zM166.68 81.35h2.48v2.26h-2.48zM40.60 83.85h2.48v2.26h-2.48zM73.49 83.85h2.48v2.26h-2.48zM81.71 83.85h2.48v2.26h-2.48zM84.46 83.85h2.48v2.26h-2.48zM87.20 83.85h2.48v2.26h-2.48zM109.12 83.85h2.48v2.26h-2.48zM120.09 83.85h2.48v2.26h-2.48zM158.46 83.85h2.48v2.26h-2.48zM172.16 83.85h2.48v2.26h-2.48zM29.64 86.35h2.48v2.26h-2.48zM84.46 86.35h2.48v2.26h-2.48zM103.64 86.35h2.48v2.26h-2.48zM106.38 86.35h2.48v2.26h-2.48zM111.86 86.35h2.48v2.26h-2.48zM114.60 86.35h2.48v2.26h-2.48zM142.01 86.35h2.48v2.26h-2.48zM152.97 86.35h2.48v2.26h-2.48zM155.71 86.35h2.48v2.26h-2.48zM158.46 86.35h2.48v2.26h-2.48zM29.64 88.85h2.48v2.26h-2.48zM43.34 88.85h2.48v2.26h-2.48zM46.09 88.85h2.48v2.26h-2.48zM51.57 88.85h2.48v2.26h-2.48zM59.79 88.85h2.48v2.26h-2.48zM73.49 88.85h2.48v2.26h-2.48zM103.64 88.85h2.48v2.26h-2.48zM131.05 88.85h2.48v2.26h-2.48zM158.46 88.85h2.48v2.26h-2.48zM172.16 88.85h2.48v2.26h-2.48zM40.60 91.36h2.48v2.26h-2.48zM43.34 91.36h2.48v2.26h-2.48zM48.83 91.36h2.48v2.26h-2.48zM51.57 91.36h2.48v2.26h-2.48zM59.79 91.36h2.48v2.26h-2.48zM62.53 91.36h2.48v2.26h-2.48zM76.23 91.36h2.48v2.26h-2.48zM81.71 91.36h2.48v2.26h-2.48zM87.20 91.36h2.48v2.26h-2.48zM114.60 91.36h2.48v2.26h-2.48zM62.53 93.86h2.48v2.26h-2.48zM70.75 93.86h2.48v2.26h-2.48zM100.90 93.86h2.48v2.26h-2.48zM150.23 93.86h2.48v2.26h-2.48zM152.97 93.86h2.48v2.26h-2.48zM158.46 93.86h2.48v2.26h-2.48zM29.64 96.36h2.48v2.26h-2.48zM70.75 96.36h2.48v2.26h-2.48zM76.23 96.36h2.48v2.26h-2.48zM81.71 96.36h2.48v2.26h-2.48zM98.16 96.36h2.48v2.26h-2.48zM100.90 96.36h2.48v2.26h-2.48zM131.05 96.36h2.48v2.26h-2.48zM133.79 96.36h2.48v2.26h-2.48zM26.90 98.86h2.48v2.26h-2.48zM95.42 98.86h2.48v2.26h-2.48zM117.34 98.86h2.48v2.26h-2.48zM125.57 98.86h2.48v2.26h-2.48zM142.01 98.86h2.48v2.26h-2.48zM144.75 98.86h2.48v2.26h-2.48zM152.97 98.86h2.48v2.26h-2.48zM26.90 101.36h2.48v2.26h-2.48zM73.49 101.36h2.48v2.26h-2.48zM81.71 101.36h2.48v2.26h-2.48zM89.94 101.36h2.48v2.26h-2.48zM128.31 101.36h2.48v2.26h-2.48zM147.49 101.36h2.48v2.26h-2.48zM152.97 101.36h2.48v2.26h-2.48zM163.94 101.36h2.48v2.26h-2.48zM166.68 101.36h2.48v2.26h-2.48zM40.60 103.87h2.48v2.26h-2.48zM48.83 103.87h2.48v2.26h-2.48zM51.57 103.87h2.48v2.26h-2.48zM59.79 103.87h2.48v2.26h-2.48zM100.90 103.87h2.48v2.26h-2.48zM114.60 103.87h2.48v2.26h-2.48zM136.53 103.87h2.48v2.26h-2.48zM32.38 106.37h2.48v2.26h-2.48zM109.12 106.37h2.48v2.26h-2.48zM122.83 106.37h2.48v2.26h-2.48zM128.31 106.37h2.48v2.26h-2.48zM136.53 106.37h2.48v2.26h-2.48zM144.75 106.37h2.48v2.26h-2.48zM169.42 106.37h2.48v2.26h-2.48zM40.60 108.87h2.48v2.26h-2.48zM48.83 108.87h2.48v2.26h-2.48zM70.75 108.87h2.48v2.26h-2.48zM111.86 108.87h2.48v2.26h-2.48zM120.09 108.87h2.48v2.26h-2.48zM26.90 111.37h2.48v2.26h-2.48zM78.97 111.37h2.48v2.26h-2.48zM98.16 111.37h2.48v2.26h-2.48zM100.90 111.37h2.48v2.26h-2.48zM111.86 111.37h2.48v2.26h-2.48zM117.34 111.37h2.48v2.26h-2.48zM133.79 111.37h2.48v2.26h-2.48zM147.49 111.37h2.48v2.26h-2.48zM150.23 111.37h2.48v2.26h-2.48zM62.53 113.87h2.48v2.26h-2.48zM87.20 113.87h2.48v2.26h-2.48zM95.42 113.87h2.48v2.26h-2.48zM109.12 113.87h2.48v2.26h-2.48zM111.86 113.87h2.48v2.26h-2.48zM117.34 113.87h2.48v2.26h-2.48zM128.31 113.87h2.48v2.26h-2.48zM133.79 113.87h2.48v2.26h-2.48zM136.53 113.87h2.48v2.26h-2.48zM142.01 113.87h2.48v2.26h-2.48zM155.71 113.87h2.48v2.26h-2.48zM172.16 113.87h2.48v2.26h-2.48zM32.38 116.38h2.48v2.26h-2.48zM35.12 116.38h2.48v2.26h-2.48zM57.05 116.38h2.48v2.26h-2.48zM70.75 116.38h2.48v2.26h-2.48zM84.46 116.38h2.48v2.26h-2.48zM87.20 116.38h2.48v2.26h-2.48zM95.42 116.38h2.48v2.26h-2.48zM120.09 116.38h2.48v2.26h-2.48zM166.68 116.38h2.48v2.26h-2.48zM73.49 118.88h2.48v2.26h-2.48zM84.46 118.88h2.48v2.26h-2.48zM114.60 118.88h2.48v2.26h-2.48zM139.27 118.88h2.48v2.26h-2.48zM142.01 118.88h2.48v2.26h-2.48zM57.05 121.38h2.48v2.26h-2.48zM73.49 121.38h2.48v2.26h-2.48zM78.97 121.38h2.48v2.26h-2.48zM81.71 121.38h2.48v2.26h-2.48zM111.86 121.38h2.48v2.26h-2.48zM172.16 121.38h2.48v2.26h-2.48zM48.83 123.88h2.48v2.26h-2.48zM51.57 123.88h2.48v2.26h-2.48zM76.23 123.88h2.48v2.26h-2.48zM84.46 123.88h2.48v2.26h-2.48zM87.20 123.88h2.48v2.26h-2.48zM106.38 123.88h2.48v2.26h-2.48zM128.31 123.88h2.48v2.26h-2.48zM163.94 123.88h2.48v2.26h-2.48zM172.16 123.88h2.48v2.26h-2.48zM95.42 126.38h2.48v2.26h-2.48zM139.27 126.38h2.48v2.26h-2.48zM169.42 126.38h2.48v2.26h-2.48zM26.90 128.89h2.48v2.26h-2.48zM35.12 128.89h2.48v2.26h-2.48zM95.42 128.89h2.48v2.26h-2.48zM100.90 128.89h2.48v2.26h-2.48zM142.01 128.89h2.48v2.26h-2.48zM155.71 128.89h2.48v2.26h-2.48zM158.46 128.89h2.48v2.26h-2.48zM29.64 131.39h2.48v2.26h-2.48zM43.34 131.39h2.48v2.26h-2.48zM68.01 131.39h2.48v2.26h-2.48zM81.71 131.39h2.48v2.26h-2.48zM103.64 131.39h2.48v2.26h-2.48zM125.57 131.39h2.48v2.26h-2.48zM131.05 131.39h2.48v2.26h-2.48zM133.79 131.39h2.48v2.26h-2.48zM76.23 133.89h2.48v2.26h-2.48zM128.31 133.89h2.48v2.26h-2.48zM131.05 133.89h2.48v2.26h-2.48zM48.83 136.39h2.48v2.26h-2.48zM95.42 136.39h2.48v2.26h-2.48zM139.27 136.39h2.48v2.26h-2.48zM152.97 136.39h2.48v2.26h-2.48zM161.20 136.39h2.48v2.26h-2.48zM46.09 138.89h2.48v2.26h-2.48zM70.75 138.89h2.48v2.26h-2.48zM103.64 138.89h2.48v2.26h-2.48zM120.09 138.89h2.48v2.26h-2.48zM128.31 138.89h2.48v2.26h-2.48zM131.05 138.89h2.48v2.26h-2.48zM139.27 138.89h2.48v2.26h-2.48zM147.49 138.89h2.48v2.26h-2.48zM152.97 138.89h2.48v2.26h-2.48zM163.94 138.89h2.48v2.26h-2.48zM32.38 141.40h2.48v2.26h-2.48zM35.12 141.40h2.48v2.26h-2.48zM48.83 141.40h2.48v2.26h-2.48zM59.79 141.40h2.48v2.26h-2.48zM76.23 141.40h2.48v2.26h-2.48zM81.71 141.40h2.48v2.26h-2.48zM92.68 141.40h2.48v2.26h-2.48zM111.86 141.40h2.48v2.26h-2.48zM122.83 141.40h2.48v2.26h-2.48zM136.53 141.40h2.48v2.26h-2.48zM150.23 141.40h2.48v2.26h-2.48zM152.97 141.40h2.48v2.26h-2.48zM29.64 143.90h2.48v2.26h-2.48zM43.34 143.90h2.48v2.26h-2.48zM46.09 143.90h2.48v2.26h-2.48zM57.05 143.90h2.48v2.26h-2.48zM62.53 143.90h2.48v2.26h-2.48zM81.71 143.90h2.48v2.26h-2.48z"/><path fill="#1e08a4" d="M174.90 21.30h2.39v2.26h-2.39zM177.55 21.30h2.39v2.26h-2.39zM180.21 21.30h2.39v2.26h-2.39zM182.86 21.30h2.39v2.26h-2.39zM185.51 21.30h2.39v2.26h-2.39zM188.17 21.30h2.39v2.26h-2.39zM190.82 21.30h2.39v2.26h-2.39zM193.47 21.30h2.39v2.26h-2.39zM196.13 21.30h2.39v2.26h-2.39zM198.78 21.30h2.39v2.26h-2.39zM201.43 21.30h2.39v2.26h-2.39zM204.09 21.30h2.39v2.26h-2.39zM206.74 21.30h2.39v2.26h-2.39zM209.39 21.30h2.39v2.26h-2.39zM174.90 23.80h2.39v2.26h-2.39zM180.21 23.80h2.39v2.26h-2.39zM182.86 23.80h2.39v2.26h-2.39zM185.51 23.80h2.39v2.26h-2.39zM188.17 23.80h2.39v2.26h-2.39zM190.82 23.80h2.39v2.26h-2.39zM193.47 23.80h2.39v2.26h-2.39zM196.13 23.80h2.39v2.26h-2.39zM198.78 23.80h2.39v2.26h-2.39zM201.43 23.80h2.39v2.26h-2.39zM204.09 23.80h2.39v2.26h-2.39zM206.74 23.80h2.39v2.26h-2.39zM209.39 23.80h2.39v2.26h-2.39zM212.05 23.80h2.39v2.26h-2.39zM174.90 26.30h2.39v2.26h-2.39zM177.55 26.30h2.39v2.26h-2.39zM180.21 26.30h2.39v2.26h-2.39zM182.86 26.30h2.39v2.26h-2.39zM185.51 26.30h2.39v2.26h-2.39zM188.17 26.30h2.39v2.26h-2.39zM190.82 26.30h2.39v2.26h-2.39zM193.47 26.30h2.39v2.26h-2.39zM196.13 26.30h2.39v2.26h-2.39zM198.78 26.30h2.39v2.26h-2.39zM201.43 26.30h2.39v2.26h-2.39zM204.09 26.30h2.39v2.26h-2.39zM206.74 26.30h2.39v2.26h-2.39zM212.05 26.30h2.39v2.26h-2.39zM177.55 28.81h2.39v2.26h-2.39zM180.21 28.81h2.39v2.26h-2.39zM182.86 28.81h2.39v2.26h-2.39zM185.51 28.81h2.39v2.26h-2.39zM188.17 28.81h2.39v2.26h-2.39zM193.47 28.81h2.39v2.26h-2.39zM196.13 28.81h2.39v2.26h-2.39zM198.78 28.81h2.39v2.26h-2.39zM201.43 28.81h2.39v2.26h-2.39zM204.09 28.81h2.39v2.26h-2.39zM206.74 28.81h2.39v2.26h-2.39zM212.05 28.81h2.39v2.26h-2.39zM174.90 31.31h2.39v2.26h-2.39zM180.21 31.31h2.39v2.26h-2.39zM182.86 31.31h2.39v2.26h-2.39zM188.17 31.31h2.39v2.26h-2.39zM193.47 31.31h2.39v2.26h-2.39zM196.13 31.31h2.39v2.26h-2.39zM198.78 31.31h2.39v2.26h-2.39zM201.43 31.31h2.39v2.26h-2.39zM204.09 31.31h2.39v2.26h-2.39zM206.74 31.31h2.39v2.26h-2.39zM209.39 31.31h2.39v2.26h-2.39zM212.05 31.31h2.39v2.26h-2.39zM182.86 33.81h2.39v2.26h-2.39zM185.51 33.81h2.39v2.26h-2.39zM188.17 33.81h2.39v2.26h-2.39zM193.47 33.81h2.39v2.26h-2.39zM196.13 33.81h2.39v2.26h-2.39zM198.78 33.81h2.39v2.26h-2.39zM201.43 33.81h2.39v2.26h-2.39zM204.09 33.81h2.39v2.26h-2.39zM206.74 33.81h2.39v2.26h-2.39zM209.39 33.81h2.39v2.26h-2.39zM212.05 33.81h2.39v2.26h-2.39zM174.90 36.31h2.39v2.26h-2.39zM177.55 36.31h2.39v2.26h-2.39zM180.21 36.31h2.39v2.26h-2.39zM182.86 36.31h2.39v2.26h-2.39zM185.51 36.31h2.39v2.26h-2.39zM188.17 36.31h2.39v2.26h-2.39zM190.82 36.31h2.39v2.26h-2.39zM193.47 36.31h2.39v2.26h-2.39zM196.13 36.31h2.39v2.26h-2.39zM198.78 36.31h2.39v2.26h-2.39zM201.43 36.31h2.39v2.26h-2.39zM206.74 36.31h2.39v2.26h-2.39zM209.39 36.31h2.39v2.26h-2.39zM212.05 36.31h2.39v2.26h-2.39zM174.90 38.81h2.39v2.26h-2.39zM177.55 38.81h2.39v2.26h-2.39zM180.21 38.81h2.39v2.26h-2.39zM182.86 38.81h2.39v2.26h-2.39zM185.51 38.81h2.39v2.26h-2.39zM188.17 38.81h2.39v2.26h-2.39zM198.78 38.81h2.39v2.26h-2.39zM204.09 38.81h2.39v2.26h-2.39zM206.74 38.81h2.39v2.26h-2.39zM212.05 38.81h2.39v2.26h-2.39zM174.90 41.32h2.39v2.26h-2.39zM185.51 41.32h2.39v2.26h-2.39zM188.17 41.32h2.39v2.26h-2.39zM193.47 41.32h2.39v2.26h-2.39zM196.13 41.32h2.39v2.26h-2.39zM198.78 41.32h2.39v2.26h-2.39zM204.09 41.32h2.39v2.26h-2.39zM206.74 41.32h2.39v2.26h-2.39zM174.90 43.82h2.39v2.26h-2.39zM177.55 43.82h2.39v2.26h-2.39zM180.21 43.82h2.39v2.26h-2.39zM185.51 43.82h2.39v2.26h-2.39zM188.17 43.82h2.39v2.26h-2.39zM190.82 43.82h2.39v2.26h-2.39zM193.47 43.82h2.39v2.26h-2.39zM196.13 43.82h2.39v2.26h-2.39zM198.78 43.82h2.39v2.26h-2.39zM204.09 43.82h2.39v2.26h-2.39zM206.74 43.82h2.39v2.26h-2.39zM209.39 43.82h2.39v2.26h-2.39zM212.05 43.82h2.39v2.26h-2.39zM174.90 46.32h2.39v2.26h-2.39zM180.21 46.32h2.39v2.26h-2.39zM193.47 46.32h2.39v2.26h-2.39zM196.13 46.32h2.39v2.26h-2.39zM201.43 46.32h2.39v2.26h-2.39zM204.09 46.32h2.39v2.26h-2.39zM206.74 46.32h2.39v2.26h-2.39zM209.39 46.32h2.39v2.26h-2.39zM174.90 48.82h2.39v2.26h-2.39zM177.55 48.82h2.39v2.26h-2.39zM193.47 48.82h2.39v2.26h-2.39zM198.78 48.82h2.39v2.26h-2.39zM201.43 48.82h2.39v2.26h-2.39zM206.74 48.82h2.39v2.26h-2.39zM209.39 48.82h2.39v2.26h-2.39zM212.05 48.82h2.39v2.26h-2.39zM180.21 51.32h2.39v2.26h-2.39zM193.47 51.32h2.39v2.26h-2.39zM196.13 51.32h2.39v2.26h-2.39zM198.78 51.32h2.39v2.26h-2.39zM201.43 51.32h2.39v2.26h-2.39zM204.09 51.32h2.39v2.26h-2.39zM206.74 51.32h2.39v2.26h-2.39zM209.39 51.32h2.39v2.26h-2.39zM174.90 53.83h2.39v2.26h-2.39zM180.21 53.83h2.39v2.26h-2.39zM182.86 53.83h2.39v2.26h-2.39zM206.74 53.83h2.39v2.26h-2.39zM209.39 53.83h2.39v2.26h-2.39zM212.05 53.83h2.39v2.26h-2.39zM177.55 56.33h2.39v2.26h-2.39zM185.51 56.33h2.39v2.26h-2.39zM204.09 56.33h2.39v2.26h-2.39zM206.74 56.33h2.39v2.26h-2.39zM209.39 56.33h2.39v2.26h-2.39zM212.05 56.33h2.39v2.26h-2.39zM174.90 58.83h2.39v2.26h-2.39zM182.86 58.83h2.39v2.26h-2.39zM185.51 58.83h2.39v2.26h-2.39zM188.17 58.83h2.39v2.26h-2.39zM190.82 58.83h2.39v2.26h-2.39zM193.47 58.83h2.39v2.26h-2.39zM196.13 58.83h2.39v2.26h-2.39zM198.78 58.83h2.39v2.26h-2.39zM201.43 58.83h2.39v2.26h-2.39zM204.09 58.83h2.39v2.26h-2.39zM206.74 58.83h2.39v2.26h-2.39zM209.39 58.83h2.39v2.26h-2.39zM177.55 61.33h2.39v2.26h-2.39zM180.21 61.33h2.39v2.26h-2.39zM182.86 61.33h2.39v2.26h-2.39zM190.82 61.33h2.39v2.26h-2.39zM196.13 61.33h2.39v2.26h-2.39zM198.78 61.33h2.39v2.26h-2.39zM201.43 61.33h2.39v2.26h-2.39zM206.74 61.33h2.39v2.26h-2.39zM212.05 61.33h2.39v2.26h-2.39zM204.09 63.83h2.39v2.26h-2.39zM212.05 63.83h2.39v2.26h-2.39zM185.51 66.34h2.39v2.26h-2.39zM188.17 66.34h2.39v2.26h-2.39zM190.82 66.34h2.39v2.26h-2.39zM196.13 66.34h2.39v2.26h-2.39zM198.78 66.34h2.39v2.26h-2.39zM201.43 66.34h2.39v2.26h-2.39zM206.74 66.34h2.39v2.26h-2.39zM209.39 66.34h2.39v2.26h-2.39zM212.05 66.34h2.39v2.26h-2.39zM185.51 68.84h2.39v2.26h-2.39zM190.82 68.84h2.39v2.26h-2.39zM193.47 68.84h2.39v2.26h-2.39zM204.09 68.84h2.39v2.26h-2.39zM206.74 68.84h2.39v2.26h-2.39zM190.82 71.34h2.39v2.26h-2.39zM193.47 71.34h2.39v2.26h-2.39zM196.13 71.34h2.39v2.26h-2.39zM201.43 71.34h2.39v2.26h-2.39zM204.09 71.34h2.39v2.26h-2.39zM209.39 71.34h2.39v2.26h-2.39zM212.05 71.34h2.39v2.26h-2.39zM185.51 73.84h2.39v2.26h-2.39zM196.13 73.84h2.39v2.26h-2.39zM198.78 73.84h2.39v2.26h-2.39zM201.43 73.84h2.39v2.26h-2.39zM204.09 73.84h2.39v2.26h-2.39zM206.74 73.84h2.39v2.26h-2.39zM212.05 73.84h2.39v2.26h-2.39zM174.90 76.34h2.39v2.26h-2.39zM177.55 76.34h2.39v2.26h-2.39zM180.21 76.34h2.39v2.26h-2.39zM185.51 76.34h2.39v2.26h-2.39zM188.17 76.34h2.39v2.26h-2.39zM196.13 76.34h2.39v2.26h-2.39zM201.43 76.34h2.39v2.26h-2.39zM206.74 76.34h2.39v2.26h-2.39zM209.39 76.34h2.39v2.26h-2.39zM212.05 76.34h2.39v2.26h-2.39zM185.51 78.85h2.39v2.26h-2.39zM188.17 78.85h2.39v2.26h-2.39zM196.13 78.85h2.39v2.26h-2.39zM198.78 78.85h2.39v2.26h-2.39zM201.43 78.85h2.39v2.26h-2.39zM206.74 78.85h2.39v2.26h-2.39zM212.05 78.85h2.39v2.26h-2.39zM174.90 81.35h2.39v2.26h-2.39zM188.17 81.35h2.39v2.26h-2.39zM190.82 81.35h2.39v2.26h-2.39zM193.47 81.35h2.39v2.26h-2.39zM196.13 81.35h2.39v2.26h-2.39zM198.78 81.35h2.39v2.26h-2.39zM206.74 81.35h2.39v2.26h-2.39zM209.39 81.35h2.39v2.26h-2.39zM212.05 81.35h2.39v2.26h-2.39zM174.90 83.85h2.39v2.26h-2.39zM180.21 83.85h2.39v2.26h-2.39zM190.82 83.85h2.39v2.26h-2.39zM193.47 83.85h2.39v2.26h-2.39zM196.13 83.85h2.39v2.26h-2.39zM209.39 83.85h2.39v2.26h-2.39zM212.05 83.85h2.39v2.26h-2.39zM206.74 86.35h2.39v2.26h-2.39zM174.90 88.85h2.39v2.26h-2.39zM177.55 88.85h2.39v2.26h-2.39zM180.21 88.85h2.39v2.26h-2.39zM182.86 88.85h2.39v2.26h-2.39zM185.51 88.85h2.39v2.26h-2.39zM188.17 88.85h2.39v2.26h-2.39zM190.82 88.85h2.39v2.26h-2.39zM193.47 88.85h2.39v2.26h-2.39zM196.13 88.85h2.39v2.26h-2.39zM198.78 88.85h2.39v2.26h-2.39zM201.43 88.85h2.39v2.26h-2.39zM209.39 88.85h2.39v2.26h-2.39zM212.05 88.85h2.39v2.26h-2.39zM198.78 91.36h2.39v2.26h-2.39zM201.43 91.36h2.39v2.26h-2.39zM212.05 91.36h2.39v2.26h-2.39zM177.55 93.86h2.39v2.26h-2.39zM180.21 93.86h2.39v2.26h-2.39zM201.43 93.86h2.39v2.26h-2.39zM204.09 93.86h2.39v2.26h-2.39zM206.74 93.86h2.39v2.26h-2.39zM209.39 93.86h2.39v2.26h-2.39zM212.05 93.86h2.39v2.26h-2.39zM174.90 96.36h2.39v2.26h-2.39zM177.55 96.36h2.39v2.26h-2.39zM185.51 96.36h2.39v2.26h-2.39zM188.17 96.36h2.39v2.26h-2.39zM201.43 96.36h2.39v2.26h-2.39zM209.39 96.36h2.39v2.26h-2.39zM180.21 98.86h2.39v2.26h-2.39zM185.51 98.86h2.39v2.26h-2.39zM193.47 98.86h2.39v2.26h-2.39zM180.21 101.36h2.39v2.26h-2.39zM193.47 101.36h2.39v2.26h-2.39zM212.05 101.36h2.39v2.26h-2.39zM193.47 103.87h2.39v2.26h-2.39zM196.13 103.87h2.39v2.26h-2.39zM209.39 103.87h2.39v2.26h-2.39zM212.05 103.87h2.39v2.26h-2.39zM196.13 106.37h2.39v2.26h-2.39zM188.17 108.87h2.39v2.26h-2.39zM193.47 116.38h2.39v2.26h-2.39zM206.74 116.38h2.39v2.26h-2.39zM209.39 116.38h2.39v2.26h-2.39zM185.51 118.88h2.39v2.26h-2.39zM188.17 118.88h2.39v2.26h-2.39zM180.21 121.38h2.39v2.26h-2.39zM206.74 121.38h2.39v2.26h-2.39zM209.39 121.38h2.39v2.26h-2.39zM196.13 123.88h2.39v2.26h-2.39zM206.74 123.88h2.39v2.26h-2.39zM174.90 126.38h2.39v2.26h-2.39zM188.17 126.38h2.39v2.26h-2.39zM204.09 126.38h2.39v2.26h-2.39zM206.74 126.38h2.39v2.26h-2.39zM204.09 128.89h2.39v2.26h-2.39zM212.05 128.89h2.39v2.26h-2.39zM209.39 131.39h2.39v2.26h-2.39zM182.86 133.89h2.39v2.26h-2.39zM188.17 133.89h2.39v2.26h-2.39zM190.82 133.89h2.39v2.26h-2.39zM209.39 133.89h2.39v2.26h-2.39zM180.21 136.39h2.39v2.26h-2.39zM188.17 136.39h2.39v2.26h-2.39zM193.47 136.39h2.39v2.26h-2.39zM196.13 136.39h2.39v2.26h-2.39zM206.74 136.39h2.39v2.26h-2.39zM174.90 138.89h2.39v2.26h-2.39zM180.21 138.89h2.39v2.26h-2.39zM182.86 138.89h2.39v2.26h-2.39zM201.43 138.89h2.39v2.26h-2.39zM204.09 138.89h2.39v2.26h-2.39zM206.74 138.89h2.39v2.26h-2.39zM212.05 138.89h2.39v2.26h-2.39zM174.90 141.40h2.39v2.26h-2.39zM185.51 141.40h2.39v2.26h-2.39zM198.78 141.40h2.39v2.26h-2.39zM206.74 141.40h2.39v2.26h-2.39zM209.39 141.40h2.39v2.26h-2.39zM212.05 141.40h2.39v2.26h-2.39zM174.90 143.90h2.39v2.26h-2.39zM180.21 143.90h2.39v2.26h-2.39zM185.51 143.90h2.39v2.26h-2.39zM193.47 143.90h2.39v2.26h-2.39zM198.78 143.90h2.39v2.26h-2.39zM209.39 143.90h2.39v2.26h-2.39zM212.05 143.90h2.39v2.26h-2.39zM40.60 146.40h2.48v2.26h-2.48zM43.34 146.40h2.48v2.26h-2.48zM46.09 146.40h2.48v2.26h-2.48zM57.05 146.40h2.48v2.26h-2.48zM59.79 146.40h2.48v2.26h-2.48zM62.53 146.40h2.48v2.26h-2.48zM70.75 146.40h2.48v2.26h-2.48zM76.23 146.40h2.48v2.26h-2.48zM84.46 146.40h2.48v2.26h-2.48zM98.16 146.40h2.48v2.26h-2.48zM100.90 146.40h2.48v2.26h-2.48zM103.64 146.40h2.48v2.26h-2.48zM106.38 146.40h2.48v2.26h-2.48zM114.60 146.40h2.48v2.26h-2.48zM117.34 146.40h2.48v2.26h-2.48zM128.31 146.40h2.48v2.26h-2.48zM131.05 146.40h2.48v2.26h-2.48zM136.53 146.40h2.48v2.26h-2.48zM144.75 146.40h2.48v2.26h-2.48zM158.46 146.40h2.48v2.26h-2.48zM166.68 146.40h2.48v2.26h-2.48zM26.90 148.90h2.48v2.26h-2.48zM29.64 148.90h2.48v2.26h-2.48zM37.86 148.90h2.48v2.26h-2.48zM51.57 148.90h2.48v2.26h-2.48zM54.31 148.90h2.48v2.26h-2.48zM68.01 148.90h2.48v2.26h-2.48zM73.49 148.90h2.48v2.26h-2.48zM109.12 148.90h2.48v2.26h-2.48zM114.60 148.90h2.48v2.26h-2.48zM117.34 148.90h2.48v2.26h-2.48zM122.83 148.90h2.48v2.26h-2.48zM125.57 148.90h2.48v2.26h-2.48zM40.60 151.40h2.48v2.26h-2.48zM46.09 151.40h2.48v2.26h-2.48zM57.05 151.40h2.48v2.26h-2.48zM68.01 151.40h2.48v2.26h-2.48zM76.23 151.40h2.48v2.26h-2.48zM92.68 151.40h2.48v2.26h-2.48zM98.16 151.40h2.48v2.26h-2.48zM103.64 151.40h2.48v2.26h-2.48zM133.79 151.40h2.48v2.26h-2.48zM144.75 151.40h2.48v2.26h-2.48zM147.49 151.40h2.48v2.26h-2.48zM150.23 151.40h2.48v2.26h-2.48zM172.16 151.40h2.48v2.26h-2.48zM29.64 153.91h2.48v2.26h-2.48zM48.83 153.91h2.48v2.26h-2.48zM54.31 153.91h2.48v2.26h-2.48zM57.05 153.91h2.48v2.26h-2.48zM68.01 153.91h2.48v2.26h-2.48zM89.94 153.91h2.48v2.26h-2.48zM103.64 153.91h2.48v2.26h-2.48zM109.12 153.91h2.48v2.26h-2.48zM26.90 156.41h2.48v2.26h-2.48zM46.09 156.41h2.48v2.26h-2.48zM62.53 156.41h2.48v2.26h-2.48zM73.49 156.41h2.48v2.26h-2.48zM81.71 156.41h2.48v2.26h-2.48zM89.94 156.41h2.48v2.26h-2.48zM103.64 156.41h2.48v2.26h-2.48zM106.38 156.41h2.48v2.26h-2.48zM117.34 156.41h2.48v2.26h-2.48zM120.09 156.41h2.48v2.26h-2.48zM122.83 156.41h2.48v2.26h-2.48zM125.57 156.41h2.48v2.26h-2.48zM139.27 156.41h2.48v2.26h-2.48zM155.71 156.41h2.48v2.26h-2.48zM43.34 158.91h2.48v2.26h-2.48zM54.31 158.91h2.48v2.26h-2.48zM76.23 158.91h2.48v2.26h-2.48zM84.46 158.91h2.48v2.26h-2.48zM89.94 158.91h2.48v2.26h-2.48zM98.16 158.91h2.48v2.26h-2.48zM120.09 158.91h2.48v2.26h-2.48zM122.83 158.91h2.48v2.26h-2.48zM136.53 158.91h2.48v2.26h-2.48zM139.27 158.91h2.48v2.26h-2.48zM172.16 158.91h2.48v2.26h-2.48zM62.53 161.41h2.48v2.26h-2.48zM78.97 161.41h2.48v2.26h-2.48zM84.46 161.41h2.48v2.26h-2.48zM100.90 161.41h2.48v2.26h-2.48zM103.64 161.41h2.48v2.26h-2.48zM106.38 161.41h2.48v2.26h-2.48zM163.94 161.41h2.48v2.26h-2.48zM46.09 163.91h2.48v2.26h-2.48zM51.57 163.91h2.48v2.26h-2.48zM59.79 163.91h2.48v2.26h-2.48zM62.53 163.91h2.48v2.26h-2.48zM65.27 163.91h2.48v2.26h-2.48zM70.75 163.91h2.48v2.26h-2.48zM95.42 163.91h2.48v2.26h-2.48zM128.31 163.91h2.48v2.26h-2.48zM133.79 163.91h2.48v2.26h-2.48zM142.01 163.91h2.48v2.26h-2.48zM144.75 163.91h2.48v2.26h-2.48zM150.23 163.91h2.48v2.26h-2.48zM76.23 166.42h2.48v2.26h-2.48zM106.38 166.42h2.48v2.26h-2.48zM144.75 166.42h2.48v2.26h-2.48zM152.97 166.42h2.48v2.26h-2.48zM158.46 166.42h2.48v2.26h-2.48zM163.94 166.42h2.48v2.26h-2.48zM26.90 168.92h2.48v2.26h-2.48zM57.05 168.92h2.48v2.26h-2.48zM65.27 168.92h2.48v2.26h-2.48zM68.01 168.92h2.48v2.26h-2.48zM73.49 168.92h2.48v2.26h-2.48zM78.97 168.92h2.48v2.26h-2.48zM81.71 168.92h2.48v2.26h-2.48zM84.46 168.92h2.48v2.26h-2.48zM87.20 168.92h2.48v2.26h-2.48zM92.68 168.92h2.48v2.26h-2.48zM98.16 168.92h2.48v2.26h-2.48zM117.34 168.92h2.48v2.26h-2.48zM131.05 168.92h2.48v2.26h-2.48zM133.79 168.92h2.48v2.26h-2.48zM136.53 168.92h2.48v2.26h-2.48zM139.27 168.92h2.48v2.26h-2.48zM26.90 171.42h2.48v2.26h-2.48zM70.75 171.42h2.48v2.26h-2.48zM136.53 171.42h2.48v2.26h-2.48zM139.27 171.42h2.48v2.26h-2.48zM144.75 171.42h2.48v2.26h-2.48zM147.49 171.42h2.48v2.26h-2.48zM172.16 171.42h2.48v2.26h-2.48zM26.90 173.92h2.48v2.26h-2.48zM35.12 173.92h2.48v2.26h-2.48zM37.86 173.92h2.48v2.26h-2.48zM46.09 173.92h2.48v2.26h-2.48zM62.53 173.92h2.48v2.26h-2.48zM65.27 173.92h2.48v2.26h-2.48zM68.01 173.92h2.48v2.26h-2.48zM78.97 173.92h2.48v2.26h-2.48zM81.71 173.92h2.48v2.26h-2.48zM87.20 173.92h2.48v2.26h-2.48zM89.94 173.92h2.48v2.26h-2.48zM92.68 173.92h2.48v2.26h-2.48zM95.42 173.92h2.48v2.26h-2.48zM98.16 173.92h2.48v2.26h-2.48zM100.90 173.92h2.48v2.26h-2.48zM114.60 173.92h2.48v2.26h-2.48zM122.83 173.92h2.48v2.26h-2.48zM144.75 173.92h2.48v2.26h-2.48zM147.49 173.92h2.48v2.26h-2.48zM35.12 176.42h2.48v2.26h-2.48zM40.60 176.42h2.48v2.26h-2.48zM46.09 176.42h2.48v2.26h-2.48zM68.01 176.42h2.48v2.26h-2.48zM87.20 176.42h2.48v2.26h-2.48zM95.42 176.42h2.48v2.26h-2.48zM98.16 176.42h2.48v2.26h-2.48zM100.90 176.42h2.48v2.26h-2.48zM125.57 176.42h2.48v2.26h-2.48zM128.31 176.42h2.48v2.26h-2.48zM166.68 176.42h2.48v2.26h-2.48zM172.16 176.42h2.48v2.26h-2.48zM29.64 178.93h2.48v2.26h-2.48zM43.34 178.93h2.48v2.26h-2.48zM73.49 178.93h2.48v2.26h-2.48zM78.97 178.93h2.48v2.26h-2.48zM84.46 178.93h2.48v2.26h-2.48zM89.94 178.93h2.48v2.26h-2.48zM92.68 178.93h2.48v2.26h-2.48zM103.64 178.93h2.48v2.26h-2.48zM125.57 178.93h2.48v2.26h-2.48zM133.79 178.93h2.48v2.26h-2.48zM32.38 181.43h2.48v2.26h-2.48zM35.12 181.43h2.48v2.26h-2.48zM37.86 181.43h2.48v2.26h-2.48zM40.60 181.43h2.48v2.26h-2.48zM43.34 181.43h2.48v2.26h-2.48zM48.83 181.43h2.48v2.26h-2.48zM57.05 181.43h2.48v2.26h-2.48zM59.79 181.43h2.48v2.26h-2.48zM73.49 181.43h2.48v2.26h-2.48zM81.71 181.43h2.48v2.26h-2.48zM98.16 181.43h2.48v2.26h-2.48zM100.90 181.43h2.48v2.26h-2.48zM109.12 181.43h2.48v2.26h-2.48zM114.60 181.43h2.48v2.26h-2.48zM117.34 181.43h2.48v2.26h-2.48zM125.57 181.43h2.48v2.26h-2.48zM131.05 181.43h2.48v2.26h-2.48zM144.75 181.43h2.48v2.26h-2.48zM163.94 181.43h2.48v2.26h-2.48zM172.16 181.43h2.48v2.26h-2.48zM29.64 183.93h2.48v2.26h-2.48zM32.38 183.93h2.48v2.26h-2.48zM37.86 183.93h2.48v2.26h-2.48zM40.60 183.93h2.48v2.26h-2.48zM57.05 183.93h2.48v2.26h-2.48zM65.27 183.93h2.48v2.26h-2.48zM68.01 183.93h2.48v2.26h-2.48zM70.75 183.93h2.48v2.26h-2.48zM73.49 183.93h2.48v2.26h-2.48zM76.23 183.93h2.48v2.26h-2.48zM78.97 183.93h2.48v2.26h-2.48zM81.71 183.93h2.48v2.26h-2.48zM84.46 183.93h2.48v2.26h-2.48zM87.20 183.93h2.48v2.26h-2.48zM100.90 183.93h2.48v2.26h-2.48zM109.12 183.93h2.48v2.26h-2.48zM111.86 183.93h2.48v2.26h-2.48zM125.57 183.93h2.48v2.26h-2.48zM128.31 183.93h2.48v2.26h-2.48zM131.05 183.93h2.48v2.26h-2.48zM133.79 183.93h2.48v2.26h-2.48zM29.64 186.43h2.48v2.26h-2.48zM48.83 186.43h2.48v2.26h-2.48zM65.27 186.43h2.48v2.26h-2.48zM68.01 186.43h2.48v2.26h-2.48zM78.97 186.43h2.48v2.26h-2.48zM100.90 186.43h2.48v2.26h-2.48zM117.34 186.43h2.48v2.26h-2.48zM125.57 186.43h2.48v2.26h-2.48zM152.97 186.43h2.48v2.26h-2.48zM26.90 188.93h2.48v2.26h-2.48zM32.38 188.93h2.48v2.26h-2.48zM35.12 188.93h2.48v2.26h-2.48zM43.34 188.93h2.48v2.26h-2.48zM46.09 188.93h2.48v2.26h-2.48zM54.31 188.93h2.48v2.26h-2.48zM59.79 188.93h2.48v2.26h-2.48zM62.53 188.93h2.48v2.26h-2.48zM65.27 188.93h2.48v2.26h-2.48zM68.01 188.93h2.48v2.26h-2.48zM70.75 188.93h2.48v2.26h-2.48zM76.23 188.93h2.48v2.26h-2.48zM78.97 188.93h2.48v2.26h-2.48zM84.46 188.93h2.48v2.26h-2.48zM92.68 188.93h2.48v2.26h-2.48zM95.42 188.93h2.48v2.26h-2.48zM98.16 188.93h2.48v2.26h-2.48zM100.90 188.93h2.48v2.26h-2.48zM103.64 188.93h2.48v2.26h-2.48zM106.38 188.93h2.48v2.26h-2.48zM111.86 188.93h2.48v2.26h-2.48zM120.09 188.93h2.48v2.26h-2.48zM122.83 188.93h2.48v2.26h-2.48zM150.23 188.93h2.48v2.26h-2.48zM152.97 188.93h2.48v2.26h-2.48zM155.71 188.93h2.48v2.26h-2.48zM158.46 188.93h2.48v2.26h-2.48zM172.16 188.93h2.48v2.26h-2.48zM26.90 191.44h2.48v2.26h-2.48zM29.64 191.44h2.48v2.26h-2.48zM32.38 191.44h2.48v2.26h-2.48zM46.09 191.44h2.48v2.26h-2.48zM48.83 191.44h2.48v2.26h-2.48zM57.05 191.44h2.48v2.26h-2.48zM62.53 191.44h2.48v2.26h-2.48zM68.01 191.44h2.48v2.26h-2.48zM89.94 191.44h2.48v2.26h-2.48zM98.16 191.44h2.48v2.26h-2.48zM103.64 191.44h2.48v2.26h-2.48zM111.86 191.44h2.48v2.26h-2.48zM114.60 191.44h2.48v2.26h-2.48zM117.34 191.44h2.48v2.26h-2.48zM125.57 191.44h2.48v2.26h-2.48zM128.31 191.44h2.48v2.26h-2.48zM131.05 191.44h2.48v2.26h-2.48zM147.49 191.44h2.48v2.26h-2.48zM150.23 191.44h2.48v2.26h-2.48zM163.94 191.44h2.48v2.26h-2.48zM166.68 191.44h2.48v2.26h-2.48zM172.16 191.44h2.48v2.26h-2.48zM26.90 193.94h2.48v2.26h-2.48zM29.64 193.94h2.48v2.26h-2.48zM40.60 193.94h2.48v2.26h-2.48zM43.34 193.94h2.48v2.26h-2.48zM46.09 193.94h2.48v2.26h-2.48zM59.79 193.94h2.48v2.26h-2.48zM73.49 193.94h2.48v2.26h-2.48zM76.23 193.94h2.48v2.26h-2.48zM78.97 193.94h2.48v2.26h-2.48zM98.16 193.94h2.48v2.26h-2.48zM120.09 193.94h2.48v2.26h-2.48zM131.05 193.94h2.48v2.26h-2.48zM136.53 193.94h2.48v2.26h-2.48zM161.20 193.94h2.48v2.26h-2.48zM40.60 196.44h2.48v2.26h-2.48zM46.09 196.44h2.48v2.26h-2.48zM57.05 196.44h2.48v2.26h-2.48zM78.97 196.44h2.48v2.26h-2.48zM84.46 196.44h2.48v2.26h-2.48zM128.31 196.44h2.48v2.26h-2.48zM163.94 196.44h2.48v2.26h-2.48zM32.38 198.94h2.48v2.26h-2.48zM51.57 198.94h2.48v2.26h-2.48zM54.31 198.94h2.48v2.26h-2.48zM57.05 198.94h2.48v2.26h-2.48zM59.79 198.94h2.48v2.26h-2.48zM62.53 198.94h2.48v2.26h-2.48zM84.46 198.94h2.48v2.26h-2.48zM92.68 198.94h2.48v2.26h-2.48zM109.12 198.94h2.48v2.26h-2.48zM120.09 198.94h2.48v2.26h-2.48zM144.75 198.94h2.48v2.26h-2.48zM150.23 198.94h2.48v2.26h-2.48zM26.90 201.44h2.48v2.26h-2.48zM48.83 201.44h2.48v2.26h-2.48zM65.27 201.44h2.48v2.26h-2.48zM68.01 201.44h2.48v2.26h-2.48zM87.20 201.44h2.48v2.26h-2.48zM95.42 201.44h2.48v2.26h-2.48zM98.16 201.44h2.48v2.26h-2.48zM100.90 201.44h2.48v2.26h-2.48zM106.38 201.44h2.48v2.26h-2.48zM136.53 201.44h2.48v2.26h-2.48zM147.49 201.44h2.48v2.26h-2.48zM152.97 201.44h2.48v2.26h-2.48zM163.94 201.44h2.48v2.26h-2.48zM166.68 201.44h2.48v2.26h-2.48zM169.42 201.44h2.48v2.26h-2.48zM35.12 203.95h2.48v2.26h-2.48zM46.09 203.95h2.48v2.26h-2.48zM48.83 203.95h2.48v2.26h-2.48zM54.31 203.95h2.48v2.26h-2.48zM70.75 203.95h2.48v2.26h-2.48zM73.49 203.95h2.48v2.26h-2.48zM78.97 203.95h2.48v2.26h-2.48zM81.71 203.95h2.48v2.26h-2.48zM87.20 203.95h2.48v2.26h-2.48zM92.68 203.95h2.48v2.26h-2.48zM100.90 203.95h2.48v2.26h-2.48zM103.64 203.95h2.48v2.26h-2.48zM106.38 203.95h2.48v2.26h-2.48zM109.12 203.95h2.48v2.26h-2.48zM114.60 203.95h2.48v2.26h-2.48zM125.57 203.95h2.48v2.26h-2.48zM128.31 203.95h2.48v2.26h-2.48zM136.53 203.95h2.48v2.26h-2.48zM139.27 203.95h2.48v2.26h-2.48zM142.01 203.95h2.48v2.26h-2.48zM144.75 203.95h2.48v2.26h-2.48zM152.97 203.95h2.48v2.26h-2.48zM155.71 203.95h2.48v2.26h-2.48zM163.94 203.95h2.48v2.26h-2.48zM166.68 203.95h2.48v2.26h-2.48zM172.16 203.95h2.48v2.26h-2.48zM40.60 206.45h2.48v2.26h-2.48zM57.05 206.45h2.48v2.26h-2.48zM59.79 206.45h2.48v2.26h-2.48zM62.53 206.45h2.48v2.26h-2.48zM78.97 206.45h2.48v2.26h-2.48zM84.46 206.45h2.48v2.26h-2.48zM92.68 206.45h2.48v2.26h-2.48zM111.86 206.45h2.48v2.26h-2.48zM136.53 206.45h2.48v2.26h-2.48zM37.86 208.95h2.48v2.26h-2.48zM51.57 208.95h2.48v2.26h-2.48zM65.27 208.95h2.48v2.26h-2.48zM68.01 208.95h2.48v2.26h-2.48zM73.49 208.95h2.48v2.26h-2.48zM81.71 208.95h2.48v2.26h-2.48zM98.16 208.95h2.48v2.26h-2.48zM103.64 208.95h2.48v2.26h-2.48zM111.86 208.95h2.48v2.26h-2.48zM117.34 208.95h2.48v2.26h-2.48zM125.57 208.95h2.48v2.26h-2.48zM131.05 208.95h2.48v2.26h-2.48zM139.27 208.95h2.48v2.26h-2.48zM144.75 208.95h2.48v2.26h-2.48zM147.49 208.95h2.48v2.26h-2.48zM161.20 208.95h2.48v2.26h-2.48zM35.12 211.45h2.48v2.26h-2.48zM37.86 211.45h2.48v2.26h-2.48zM59.79 211.45h2.48v2.26h-2.48zM70.75 211.45h2.48v2.26h-2.48zM73.49 211.45h2.48v2.26h-2.48zM81.71 211.45h2.48v2.26h-2.48zM84.46 211.45h2.48v2.26h-2.48zM87.20 211.45h2.48v2.26h-2.48zM106.38 211.45h2.48v2.26h-2.48zM109.12 211.45h2.48v2.26h-2.48zM111.86 211.45h2.48v2.26h-2.48zM133.79 211.45h2.48v2.26h-2.48zM144.75 211.45h2.48v2.26h-2.48zM147.49 211.45h2.48v2.26h-2.48zM150.23 211.45h2.48v2.26h-2.48zM158.46 211.45h2.48v2.26h-2.48zM172.16 211.45h2.48v2.26h-2.48zM62.53 213.95h2.48v2.26h-2.48zM65.27 213.95h2.48v2.26h-2.48zM76.23 213.95h2.48v2.26h-2.48zM98.16 213.95h2.48v2.26h-2.48zM106.38 213.95h2.48v2.26h-2.48zM117.34 213.95h2.48v2.26h-2.48zM133.79 213.95h2.48v2.26h-2.48zM139.27 213.95h2.48v2.26h-2.48zM144.75 213.95h2.48v2.26h-2.48zM161.20 213.95h2.48v2.26h-2.48zM37.86 216.46h2.48v2.26h-2.48zM70.75 216.46h2.48v2.26h-2.48zM73.49 216.46h2.48v2.26h-2.48zM76.23 216.46h2.48v2.26h-2.48zM84.46 216.46h2.48v2.26h-2.48zM89.94 216.46h2.48v2.26h-2.48zM92.68 216.46h2.48v2.26h-2.48zM109.12 216.46h2.48v2.26h-2.48zM136.53 216.46h2.48v2.26h-2.48zM139.27 216.46h2.48v2.26h-2.48zM147.49 216.46h2.48v2.26h-2.48zM161.20 216.46h2.48v2.26h-2.48zM32.38 218.96h2.48v2.26h-2.48zM37.86 218.96h2.48v2.26h-2.48zM40.60 218.96h2.48v2.26h-2.48zM62.53 218.96h2.48v2.26h-2.48zM68.01 218.96h2.48v2.26h-2.48zM70.75 218.96h2.48v2.26h-2.48zM73.49 218.96h2.48v2.26h-2.48zM76.23 218.96h2.48v2.26h-2.48zM100.90 218.96h2.48v2.26h-2.48zM117.34 218.96h2.48v2.26h-2.48zM131.05 218.96h2.48v2.26h-2.48zM133.79 218.96h2.48v2.26h-2.48zM147.49 218.96h2.48v2.26h-2.48zM150.23 218.96h2.48v2.26h-2.48zM163.94 218.96h2.48v2.26h-2.48zM169.42 218.96h2.48v2.26h-2.48zM65.27 221.46h2.48v2.26h-2.48zM73.49 221.46h2.48v2.26h-2.48zM89.94 221.46h2.48v2.26h-2.48zM92.68 221.46h2.48v2.26h-2.48zM95.42 221.46h2.48v2.26h-2.48zM98.16 221.46h2.48v2.26h-2.48zM100.90 221.46h2.48v2.26h-2.48zM103.64 221.46h2.48v2.26h-2.48zM117.34 221.46h2.48v2.26h-2.48zM125.57 221.46h2.48v2.26h-2.48zM133.79 221.46h2.48v2.26h-2.48zM144.75 221.46h2.48v2.26h-2.48zM158.46 221.46h2.48v2.26h-2.48zM161.20 221.46h2.48v2.26h-2.48zM26.90 223.96h2.48v2.26h-2.48zM43.34 223.96h2.48v2.26h-2.48zM48.83 223.96h2.48v2.26h-2.48zM89.94 223.96h2.48v2.26h-2.48zM106.38 223.96h2.48v2.26h-2.48zM117.34 223.96h2.48v2.26h-2.48zM142.01 223.96h2.48v2.26h-2.48zM152.97 223.96h2.48v2.26h-2.48zM155.71 223.96h2.48v2.26h-2.48zM158.46 223.96h2.48v2.26h-2.48zM37.86 226.46h2.48v2.26h-2.48zM40.60 226.46h2.48v2.26h-2.48zM62.53 226.46h2.48v2.26h-2.48zM73.49 226.46h2.48v2.26h-2.48zM76.23 226.46h2.48v2.26h-2.48zM100.90 226.46h2.48v2.26h-2.48zM109.12 226.46h2.48v2.26h-2.48zM117.34 226.46h2.48v2.26h-2.48zM136.53 226.46h2.48v2.26h-2.48zM150.23 226.46h2.48v2.26h-2.48zM161.20 226.46h2.48v2.26h-2.48zM57.05 228.97h2.48v2.26h-2.48zM59.79 228.97h2.48v2.26h-2.48zM87.20 228.97h2.48v2.26h-2.48zM89.94 228.97h2.48v2.26h-2.48zM92.68 228.97h2.48v2.26h-2.48zM106.38 228.97h2.48v2.26h-2.48zM122.83 228.97h2.48v2.26h-2.48zM125.57 228.97h2.48v2.26h-2.48zM128.31 228.97h2.48v2.26h-2.48zM133.79 228.97h2.48v2.26h-2.48zM136.53 228.97h2.48v2.26h-2.48zM147.49 228.97h2.48v2.26h-2.48zM155.71 228.97h2.48v2.26h-2.48zM40.60 231.47h2.48v2.26h-2.48zM51.57 231.47h2.48v2.26h-2.48zM59.79 231.47h2.48v2.26h-2.48zM62.53 231.47h2.48v2.26h-2.48zM70.75 231.47h2.48v2.26h-2.48zM78.97 231.47h2.48v2.26h-2.48zM103.64 231.47h2.48v2.26h-2.48zM142.01 231.47h2.48v2.26h-2.48zM84.46 233.97h2.48v2.26h-2.48zM136.53 233.97h2.48v2.26h-2.48zM158.46 233.97h2.48v2.26h-2.48zM166.68 233.97h2.48v2.26h-2.48zM172.16 233.97h2.48v2.26h-2.48zM26.90 236.47h2.48v2.26h-2.48zM62.53 236.47h2.48v2.26h-2.48zM92.68 236.47h2.48v2.26h-2.48zM109.12 236.47h2.48v2.26h-2.48zM111.86 236.47h2.48v2.26h-2.48zM144.75 236.47h2.48v2.26h-2.48zM147.49 236.47h2.48v2.26h-2.48zM54.31 238.97h2.48v2.26h-2.48zM59.79 238.97h2.48v2.26h-2.48zM68.01 238.97h2.48v2.26h-2.48zM120.09 238.97h2.48v2.26h-2.48zM122.83 238.97h2.48v2.26h-2.48zM128.31 238.97h2.48v2.26h-2.48zM147.49 238.97h2.48v2.26h-2.48zM37.86 241.48h2.48v2.26h-2.48zM46.09 241.48h2.48v2.26h-2.48zM57.05 241.48h2.48v2.26h-2.48zM78.97 241.48h2.48v2.26h-2.48zM95.42 241.48h2.48v2.26h-2.48zM98.16 241.48h2.48v2.26h-2.48zM106.38 241.48h2.48v2.26h-2.48zM128.31 241.48h2.48v2.26h-2.48zM163.94 241.48h2.48v2.26h-2.48zM65.27 243.98h2.48v2.26h-2.48zM70.75 243.98h2.48v2.26h-2.48zM73.49 243.98h2.48v2.26h-2.48zM106.38 243.98h2.48v2.26h-2.48zM128.31 243.98h2.48v2.26h-2.48zM131.05 243.98h2.48v2.26h-2.48zM142.01 243.98h2.48v2.26h-2.48zM150.23 243.98h2.48v2.26h-2.48zM26.90 246.48h2.48v2.26h-2.48zM46.09 246.48h2.48v2.26h-2.48zM62.53 246.48h2.48v2.26h-2.48zM68.01 246.48h2.48v2.26h-2.48zM78.97 246.48h2.48v2.26h-2.48zM103.64 246.48h2.48v2.26h-2.48zM109.12 246.48h2.48v2.26h-2.48zM111.86 246.48h2.48v2.26h-2.48zM122.83 246.48h2.48v2.26h-2.48zM128.31 246.48h2.48v2.26h-2.48zM131.05 246.48h2.48v2.26h-2.48zM139.27 246.48h2.48v2.26h-2.48zM147.49 246.48h2.48v2.26h-2.48zM150.23 246.48h2.48v2.26h-2.48zM166.68 246.48h2.48v2.26h-2.48zM169.42 246.48h2.48v2.26h-2.48zM48.83 248.98h2.48v2.26h-2.48zM59.79 248.98h2.48v2.26h-2.48zM70.75 248.98h2.48v2.26h-2.48zM73.49 248.98h2.48v2.26h-2.48zM76.23 248.98h2.48v2.26h-2.48zM81.71 248.98h2.48v2.26h-2.48zM109.12 248.98h2.48v2.26h-2.48zM114.60 248.98h2.48v2.26h-2.48zM166.68 248.98h2.48v2.26h-2.48zM26.90 251.48h2.48v2.26h-2.48zM29.64 251.48h2.48v2.26h-2.48zM73.49 251.48h2.48v2.26h-2.48zM84.46 251.48h2.48v2.26h-2.48zM87.20 251.48h2.48v2.26h-2.48zM98.16 251.48h2.48v2.26h-2.48zM103.64 251.48h2.48v2.26h-2.48zM106.38 251.48h2.48v2.26h-2.48zM109.12 251.48h2.48v2.26h-2.48zM59.79 253.99h2.48v2.26h-2.48zM68.01 253.99h2.48v2.26h-2.48zM70.75 253.99h2.48v2.26h-2.48zM73.49 253.99h2.48v2.26h-2.48zM95.42 253.99h2.48v2.26h-2.48zM117.34 253.99h2.48v2.26h-2.48zM136.53 253.99h2.48v2.26h-2.48zM147.49 253.99h2.48v2.26h-2.48zM172.16 253.99h2.48v2.26h-2.48zM54.31 256.49h2.48v2.26h-2.48zM114.60 256.49h2.48v2.26h-2.48zM117.34 256.49h2.48v2.26h-2.48zM122.83 256.49h2.48v2.26h-2.48zM131.05 256.49h2.48v2.26h-2.48zM152.97 256.49h2.48v2.26h-2.48zM26.90 258.99h2.48v2.26h-2.48zM46.09 258.99h2.48v2.26h-2.48zM65.27 258.99h2.48v2.26h-2.48zM95.42 258.99h2.48v2.26h-2.48zM100.90 258.99h2.48v2.26h-2.48zM144.75 258.99h2.48v2.26h-2.48zM155.71 258.99h2.48v2.26h-2.48zM166.68 258.99h2.48v2.26h-2.48zM169.42 258.99h2.48v2.26h-2.48zM54.31 261.49h2.48v2.26h-2.48zM70.75 261.49h2.48v2.26h-2.48zM100.90 261.49h2.48v2.26h-2.48zM109.12 261.49h2.48v2.26h-2.48zM111.86 261.49h2.48v2.26h-2.48zM136.53 261.49h2.48v2.26h-2.48zM144.75 261.49h2.48v2.26h-2.48zM147.49 261.49h2.48v2.26h-2.48zM161.20 261.49h2.48v2.26h-2.48zM29.64 263.99h2.48v2.26h-2.48zM111.86 263.99h2.48v2.26h-2.48zM166.68 263.99h2.48v2.26h-2.48zM73.49 266.50h2.48v2.26h-2.48zM84.46 266.50h2.48v2.26h-2.48zM122.83 266.50h2.48v2.26h-2.48zM172.16 266.50h2.48v2.26h-2.48zM32.38 269.00h2.48v2.26h-2.48zM57.05 269.00h2.48v2.26h-2.48zM92.68 269.00h2.48v2.26h-2.48zM111.86 269.00h2.48v2.26h-2.48zM114.60 269.00h2.48v2.26h-2.48zM128.31 269.00h2.48v2.26h-2.48z"/><path fill="#2410c6" d="M212.05 21.30h2.39v2.26h-2.39zM177.55 23.80h2.39v2.26h-2.39zM209.39 26.30h2.39v2.26h-2.39zM174.90 28.81h2.39v2.26h-2.39zM209.39 28.81h2.39v2.26h-2.39zM177.55 31.31h2.39v2.26h-2.39zM185.51 31.31h2.39v2.26h-2.39zM174.90 33.81h2.39v2.26h-2.39zM180.21 33.81h2.39v2.26h-2.39zM204.09 36.31h2.39v2.26h-2.39zM190.82 38.81h2.39v2.26h-2.39zM209.39 38.81h2.39v2.26h-2.39zM180.21 41.32h2.39v2.26h-2.39zM201.43 41.32h2.39v2.26h-2.39zM209.39 41.32h2.39v2.26h-2.39zM177.55 46.32h2.39v2.26h-2.39zM185.51 46.32h2.39v2.26h-2.39zM198.78 46.32h2.39v2.26h-2.39zM212.05 46.32h2.39v2.26h-2.39zM180.21 48.82h2.39v2.26h-2.39zM190.82 48.82h2.39v2.26h-2.39zM196.13 48.82h2.39v2.26h-2.39zM204.09 48.82h2.39v2.26h-2.39zM174.90 51.32h2.39v2.26h-2.39zM177.55 51.32h2.39v2.26h-2.39zM185.51 51.32h2.39v2.26h-2.39zM190.82 51.32h2.39v2.26h-2.39zM212.05 51.32h2.39v2.26h-2.39zM188.17 53.83h2.39v2.26h-2.39zM193.47 53.83h2.39v2.26h-2.39zM204.09 53.83h2.39v2.26h-2.39zM174.90 56.33h2.39v2.26h-2.39zM180.21 56.33h2.39v2.26h-2.39zM188.17 56.33h2.39v2.26h-2.39zM198.78 56.33h2.39v2.26h-2.39zM212.05 58.83h2.39v2.26h-2.39zM193.47 61.33h2.39v2.26h-2.39zM204.09 61.33h2.39v2.26h-2.39zM209.39 61.33h2.39v2.26h-2.39zM180.21 63.83h2.39v2.26h-2.39zM185.51 63.83h2.39v2.26h-2.39zM193.47 63.83h2.39v2.26h-2.39zM206.74 63.83h2.39v2.26h-2.39zM209.39 63.83h2.39v2.26h-2.39zM182.86 66.34h2.39v2.26h-2.39zM193.47 66.34h2.39v2.26h-2.39zM174.90 68.84h2.39v2.26h-2.39zM177.55 68.84h2.39v2.26h-2.39zM188.17 68.84h2.39v2.26h-2.39zM201.43 68.84h2.39v2.26h-2.39zM212.05 68.84h2.39v2.26h-2.39zM206.74 71.34h2.39v2.26h-2.39zM182.86 73.84h2.39v2.26h-2.39zM209.39 73.84h2.39v2.26h-2.39zM190.82 76.34h2.39v2.26h-2.39zM193.47 76.34h2.39v2.26h-2.39zM198.78 76.34h2.39v2.26h-2.39zM204.09 76.34h2.39v2.26h-2.39zM193.47 78.85h2.39v2.26h-2.39zM204.09 78.85h2.39v2.26h-2.39zM177.55 81.35h2.39v2.26h-2.39zM182.86 81.35h2.39v2.26h-2.39zM185.51 81.35h2.39v2.26h-2.39zM204.09 81.35h2.39v2.26h-2.39zM182.86 83.85h2.39v2.26h-2.39zM188.17 83.85h2.39v2.26h-2.39zM204.09 83.85h2.39v2.26h-2.39zM206.74 83.85h2.39v2.26h-2.39zM174.90 86.35h2.39v2.26h-2.39zM182.86 86.35h2.39v2.26h-2.39zM193.47 86.35h2.39v2.26h-2.39zM198.78 86.35h2.39v2.26h-2.39zM201.43 86.35h2.39v2.26h-2.39zM212.05 86.35h2.39v2.26h-2.39zM206.74 88.85h2.39v2.26h-2.39zM182.86 91.36h2.39v2.26h-2.39zM185.51 91.36h2.39v2.26h-2.39zM190.82 91.36h2.39v2.26h-2.39zM196.13 91.36h2.39v2.26h-2.39zM204.09 91.36h2.39v2.26h-2.39zM206.74 91.36h2.39v2.26h-2.39zM174.90 93.86h2.39v2.26h-2.39zM185.51 93.86h2.39v2.26h-2.39zM188.17 93.86h2.39v2.26h-2.39zM190.82 93.86h2.39v2.26h-2.39zM180.21 96.36h2.39v2.26h-2.39zM182.86 96.36h2.39v2.26h-2.39zM198.78 96.36h2.39v2.26h-2.39zM204.09 96.36h2.39v2.26h-2.39zM206.74 96.36h2.39v2.26h-2.39zM177.55 98.86h2.39v2.26h-2.39zM182.86 98.86h2.39v2.26h-2.39zM190.82 98.86h2.39v2.26h-2.39zM201.43 98.86h2.39v2.26h-2.39zM212.05 98.86h2.39v2.26h-2.39zM177.55 101.36h2.39v2.26h-2.39zM185.51 101.36h2.39v2.26h-2.39zM188.17 101.36h2.39v2.26h-2.39zM206.74 101.36h2.39v2.26h-2.39zM177.55 103.87h2.39v2.26h-2.39zM182.86 103.87h2.39v2.26h-2.39zM190.82 103.87h2.39v2.26h-2.39zM198.78 103.87h2.39v2.26h-2.39zM201.43 103.87h2.39v2.26h-2.39zM177.55 106.37h2.39v2.26h-2.39zM193.47 106.37h2.39v2.26h-2.39zM198.78 106.37h2.39v2.26h-2.39zM212.05 106.37h2.39v2.26h-2.39zM177.55 108.87h2.39v2.26h-2.39zM180.21 108.87h2.39v2.26h-2.39zM212.05 108.87h2.39v2.26h-2.39zM174.90 111.37h2.39v2.26h-2.39zM177.55 111.37h2.39v2.26h-2.39zM182.86 111.37h2.39v2.26h-2.39zM190.82 111.37h2.39v2.26h-2.39zM198.78 111.37h2.39v2.26h-2.39zM204.09 111.37h2.39v2.26h-2.39zM209.39 111.37h2.39v2.26h-2.39zM212.05 111.37h2.39v2.26h-2.39zM185.51 113.87h2.39v2.26h-2.39zM190.82 113.87h2.39v2.26h-2.39zM212.05 113.87h2.39v2.26h-2.39zM180.21 116.38h2.39v2.26h-2.39zM190.82 116.38h2.39v2.26h-2.39zM201.43 116.38h2.39v2.26h-2.39zM190.82 118.88h2.39v2.26h-2.39zM206.74 118.88h2.39v2.26h-2.39zM209.39 118.88h2.39v2.26h-2.39zM185.51 121.38h2.39v2.26h-2.39zM193.47 121.38h2.39v2.26h-2.39zM201.43 121.38h2.39v2.26h-2.39zM174.90 123.88h2.39v2.26h-2.39zM180.21 123.88h2.39v2.26h-2.39zM182.86 123.88h2.39v2.26h-2.39zM212.05 123.88h2.39v2.26h-2.39zM177.55 126.38h2.39v2.26h-2.39zM180.21 126.38h2.39v2.26h-2.39zM196.13 126.38h2.39v2.26h-2.39zM201.43 126.38h2.39v2.26h-2.39zM209.39 126.38h2.39v2.26h-2.39zM180.21 128.89h2.39v2.26h-2.39zM182.86 128.89h2.39v2.26h-2.39zM185.51 128.89h2.39v2.26h-2.39zM198.78 128.89h2.39v2.26h-2.39zM174.90 131.39h2.39v2.26h-2.39zM196.13 131.39h2.39v2.26h-2.39zM204.09 131.39h2.39v2.26h-2.39zM206.74 131.39h2.39v2.26h-2.39zM212.05 131.39h2.39v2.26h-2.39zM193.47 133.89h2.39v2.26h-2.39zM196.13 133.89h2.39v2.26h-2.39zM206.74 133.89h2.39v2.26h-2.39zM212.05 133.89h2.39v2.26h-2.39zM177.55 136.39h2.39v2.26h-2.39zM185.51 136.39h2.39v2.26h-2.39zM198.78 136.39h2.39v2.26h-2.39zM209.39 136.39h2.39v2.26h-2.39zM185.51 138.89h2.39v2.26h-2.39zM188.17 138.89h2.39v2.26h-2.39zM209.39 138.89h2.39v2.26h-2.39zM180.21 141.40h2.39v2.26h-2.39zM182.86 141.40h2.39v2.26h-2.39zM190.82 141.40h2.39v2.26h-2.39zM201.43 143.90h2.39v2.26h-2.39zM206.74 143.90h2.39v2.26h-2.39zM48.83 146.40h2.48v2.26h-2.48zM65.27 146.40h2.48v2.26h-2.48zM68.01 146.40h2.48v2.26h-2.48zM133.79 146.40h2.48v2.26h-2.48zM142.01 146.40h2.48v2.26h-2.48zM163.94 146.40h2.48v2.26h-2.48zM40.60 148.90h2.48v2.26h-2.48zM43.34 148.90h2.48v2.26h-2.48zM76.23 148.90h2.48v2.26h-2.48zM152.97 148.90h2.48v2.26h-2.48zM161.20 148.90h2.48v2.26h-2.48zM26.90 151.40h2.48v2.26h-2.48zM29.64 151.40h2.48v2.26h-2.48zM35.12 151.40h2.48v2.26h-2.48zM37.86 151.40h2.48v2.26h-2.48zM51.57 151.40h2.48v2.26h-2.48zM59.79 151.40h2.48v2.26h-2.48zM62.53 151.40h2.48v2.26h-2.48zM78.97 151.40h2.48v2.26h-2.48zM84.46 151.40h2.48v2.26h-2.48zM40.60 153.91h2.48v2.26h-2.48zM59.79 153.91h2.48v2.26h-2.48zM65.27 153.91h2.48v2.26h-2.48zM78.97 153.91h2.48v2.26h-2.48zM111.86 153.91h2.48v2.26h-2.48zM29.64 156.41h2.48v2.26h-2.48zM78.97 156.41h2.48v2.26h-2.48zM84.46 156.41h2.48v2.26h-2.48zM98.16 156.41h2.48v2.26h-2.48zM100.90 156.41h2.48v2.26h-2.48zM114.60 156.41h2.48v2.26h-2.48zM144.75 156.41h2.48v2.26h-2.48zM152.97 156.41h2.48v2.26h-2.48zM158.46 156.41h2.48v2.26h-2.48zM32.38 158.91h2.48v2.26h-2.48zM68.01 158.91h2.48v2.26h-2.48zM78.97 158.91h2.48v2.26h-2.48zM109.12 158.91h2.48v2.26h-2.48zM133.79 158.91h2.48v2.26h-2.48zM147.49 158.91h2.48v2.26h-2.48zM161.20 158.91h2.48v2.26h-2.48zM166.68 158.91h2.48v2.26h-2.48zM35.12 161.41h2.48v2.26h-2.48zM46.09 161.41h2.48v2.26h-2.48zM57.05 161.41h2.48v2.26h-2.48zM59.79 161.41h2.48v2.26h-2.48zM68.01 161.41h2.48v2.26h-2.48zM73.49 161.41h2.48v2.26h-2.48zM81.71 161.41h2.48v2.26h-2.48zM142.01 161.41h2.48v2.26h-2.48zM155.71 161.41h2.48v2.26h-2.48zM158.46 161.41h2.48v2.26h-2.48zM161.20 161.41h2.48v2.26h-2.48zM35.12 163.91h2.48v2.26h-2.48zM43.34 163.91h2.48v2.26h-2.48zM78.97 163.91h2.48v2.26h-2.48zM139.27 163.91h2.48v2.26h-2.48zM147.49 163.91h2.48v2.26h-2.48zM40.60 166.42h2.48v2.26h-2.48zM62.53 166.42h2.48v2.26h-2.48zM98.16 166.42h2.48v2.26h-2.48zM125.57 166.42h2.48v2.26h-2.48zM128.31 166.42h2.48v2.26h-2.48zM150.23 166.42h2.48v2.26h-2.48zM155.71 166.42h2.48v2.26h-2.48zM29.64 168.92h2.48v2.26h-2.48zM35.12 168.92h2.48v2.26h-2.48zM103.64 168.92h2.48v2.26h-2.48zM147.49 168.92h2.48v2.26h-2.48zM172.16 168.92h2.48v2.26h-2.48zM37.86 171.42h2.48v2.26h-2.48zM43.34 171.42h2.48v2.26h-2.48zM51.57 171.42h2.48v2.26h-2.48zM92.68 171.42h2.48v2.26h-2.48zM122.83 171.42h2.48v2.26h-2.48zM161.20 171.42h2.48v2.26h-2.48zM169.42 171.42h2.48v2.26h-2.48zM59.79 173.92h2.48v2.26h-2.48zM120.09 173.92h2.48v2.26h-2.48zM128.31 173.92h2.48v2.26h-2.48zM131.05 173.92h2.48v2.26h-2.48zM169.42 173.92h2.48v2.26h-2.48zM32.38 176.42h2.48v2.26h-2.48zM70.75 176.42h2.48v2.26h-2.48zM81.71 176.42h2.48v2.26h-2.48zM109.12 176.42h2.48v2.26h-2.48zM131.05 176.42h2.48v2.26h-2.48zM136.53 176.42h2.48v2.26h-2.48zM26.90 178.93h2.48v2.26h-2.48zM37.86 178.93h2.48v2.26h-2.48zM65.27 178.93h2.48v2.26h-2.48zM76.23 178.93h2.48v2.26h-2.48zM95.42 178.93h2.48v2.26h-2.48zM106.38 178.93h2.48v2.26h-2.48zM131.05 178.93h2.48v2.26h-2.48zM29.64 181.43h2.48v2.26h-2.48zM46.09 181.43h2.48v2.26h-2.48zM78.97 181.43h2.48v2.26h-2.48zM89.94 181.43h2.48v2.26h-2.48zM111.86 181.43h2.48v2.26h-2.48zM155.71 181.43h2.48v2.26h-2.48zM166.68 181.43h2.48v2.26h-2.48zM54.31 183.93h2.48v2.26h-2.48zM59.79 183.93h2.48v2.26h-2.48zM95.42 183.93h2.48v2.26h-2.48zM117.34 183.93h2.48v2.26h-2.48zM147.49 183.93h2.48v2.26h-2.48zM166.68 183.93h2.48v2.26h-2.48zM26.90 186.43h2.48v2.26h-2.48zM37.86 186.43h2.48v2.26h-2.48zM51.57 186.43h2.48v2.26h-2.48zM76.23 186.43h2.48v2.26h-2.48zM87.20 186.43h2.48v2.26h-2.48zM92.68 186.43h2.48v2.26h-2.48zM106.38 186.43h2.48v2.26h-2.48zM37.86 188.93h2.48v2.26h-2.48zM40.60 188.93h2.48v2.26h-2.48zM51.57 188.93h2.48v2.26h-2.48zM73.49 188.93h2.48v2.26h-2.48zM81.71 188.93h2.48v2.26h-2.48zM87.20 188.93h2.48v2.26h-2.48zM35.12 191.44h2.48v2.26h-2.48zM37.86 191.44h2.48v2.26h-2.48zM59.79 191.44h2.48v2.26h-2.48zM92.68 191.44h2.48v2.26h-2.48zM120.09 191.44h2.48v2.26h-2.48zM144.75 191.44h2.48v2.26h-2.48zM48.83 193.94h2.48v2.26h-2.48zM89.94 193.94h2.48v2.26h-2.48zM147.49 193.94h2.48v2.26h-2.48zM158.46 193.94h2.48v2.26h-2.48zM48.83 196.44h2.48v2.26h-2.48zM68.01 196.44h2.48v2.26h-2.48zM81.71 196.44h2.48v2.26h-2.48zM92.68 196.44h2.48v2.26h-2.48zM111.86 196.44h2.48v2.26h-2.48zM114.60 196.44h2.48v2.26h-2.48zM120.09 196.44h2.48v2.26h-2.48zM131.05 196.44h2.48v2.26h-2.48zM133.79 196.44h2.48v2.26h-2.48zM139.27 196.44h2.48v2.26h-2.48zM144.75 196.44h2.48v2.26h-2.48zM35.12 198.94h2.48v2.26h-2.48zM37.86 198.94h2.48v2.26h-2.48zM43.34 198.94h2.48v2.26h-2.48zM65.27 198.94h2.48v2.26h-2.48zM78.97 198.94h2.48v2.26h-2.48zM98.16 198.94h2.48v2.26h-2.48zM114.60 198.94h2.48v2.26h-2.48zM40.60 201.44h2.48v2.26h-2.48zM43.34 201.44h2.48v2.26h-2.48zM51.57 201.44h2.48v2.26h-2.48zM54.31 201.44h2.48v2.26h-2.48zM59.79 201.44h2.48v2.26h-2.48zM78.97 201.44h2.48v2.26h-2.48zM81.71 201.44h2.48v2.26h-2.48zM84.46 201.44h2.48v2.26h-2.48zM92.68 201.44h2.48v2.26h-2.48zM111.86 201.44h2.48v2.26h-2.48zM139.27 201.44h2.48v2.26h-2.48zM155.71 201.44h2.48v2.26h-2.48zM161.20 201.44h2.48v2.26h-2.48zM98.16 203.95h2.48v2.26h-2.48zM120.09 203.95h2.48v2.26h-2.48zM131.05 203.95h2.48v2.26h-2.48zM161.20 203.95h2.48v2.26h-2.48zM169.42 203.95h2.48v2.26h-2.48zM37.86 206.45h2.48v2.26h-2.48zM43.34 206.45h2.48v2.26h-2.48zM48.83 206.45h2.48v2.26h-2.48zM73.49 206.45h2.48v2.26h-2.48zM122.83 206.45h2.48v2.26h-2.48zM155.71 206.45h2.48v2.26h-2.48zM26.90 208.95h2.48v2.26h-2.48zM76.23 208.95h2.48v2.26h-2.48zM78.97 208.95h2.48v2.26h-2.48zM95.42 208.95h2.48v2.26h-2.48zM106.38 208.95h2.48v2.26h-2.48zM158.46 208.95h2.48v2.26h-2.48zM166.68 208.95h2.48v2.26h-2.48zM26.90 211.45h2.48v2.26h-2.48zM48.83 211.45h2.48v2.26h-2.48zM51.57 211.45h2.48v2.26h-2.48zM54.31 211.45h2.48v2.26h-2.48zM57.05 211.45h2.48v2.26h-2.48zM62.53 211.45h2.48v2.26h-2.48zM78.97 211.45h2.48v2.26h-2.48zM114.60 211.45h2.48v2.26h-2.48zM136.53 211.45h2.48v2.26h-2.48zM139.27 211.45h2.48v2.26h-2.48zM152.97 211.45h2.48v2.26h-2.48zM155.71 211.45h2.48v2.26h-2.48zM29.64 213.95h2.48v2.26h-2.48zM32.38 213.95h2.48v2.26h-2.48zM57.05 213.95h2.48v2.26h-2.48zM59.79 213.95h2.48v2.26h-2.48zM78.97 213.95h2.48v2.26h-2.48zM81.71 213.95h2.48v2.26h-2.48zM89.94 213.95h2.48v2.26h-2.48zM111.86 213.95h2.48v2.26h-2.48zM169.42 213.95h2.48v2.26h-2.48zM32.38 216.46h2.48v2.26h-2.48zM62.53 216.46h2.48v2.26h-2.48zM65.27 216.46h2.48v2.26h-2.48zM68.01 216.46h2.48v2.26h-2.48zM87.20 216.46h2.48v2.26h-2.48zM120.09 216.46h2.48v2.26h-2.48zM122.83 216.46h2.48v2.26h-2.48zM131.05 216.46h2.48v2.26h-2.48zM133.79 216.46h2.48v2.26h-2.48zM155.71 216.46h2.48v2.26h-2.48zM158.46 216.46h2.48v2.26h-2.48zM166.68 216.46h2.48v2.26h-2.48zM169.42 216.46h2.48v2.26h-2.48zM43.34 218.96h2.48v2.26h-2.48zM48.83 218.96h2.48v2.26h-2.48zM89.94 218.96h2.48v2.26h-2.48zM106.38 218.96h2.48v2.26h-2.48zM122.83 218.96h2.48v2.26h-2.48zM139.27 218.96h2.48v2.26h-2.48zM166.68 218.96h2.48v2.26h-2.48zM35.12 221.46h2.48v2.26h-2.48zM68.01 221.46h2.48v2.26h-2.48zM70.75 221.46h2.48v2.26h-2.48zM106.38 221.46h2.48v2.26h-2.48zM120.09 221.46h2.48v2.26h-2.48zM152.97 221.46h2.48v2.26h-2.48zM163.94 221.46h2.48v2.26h-2.48zM169.42 221.46h2.48v2.26h-2.48zM37.86 223.96h2.48v2.26h-2.48zM57.05 223.96h2.48v2.26h-2.48zM76.23 223.96h2.48v2.26h-2.48zM147.49 223.96h2.48v2.26h-2.48zM166.68 223.96h2.48v2.26h-2.48zM98.16 226.46h2.48v2.26h-2.48zM114.60 226.46h2.48v2.26h-2.48zM142.01 226.46h2.48v2.26h-2.48zM147.49 226.46h2.48v2.26h-2.48zM29.64 228.97h2.48v2.26h-2.48zM32.38 228.97h2.48v2.26h-2.48zM46.09 231.47h2.48v2.26h-2.48zM48.83 231.47h2.48v2.26h-2.48zM54.31 231.47h2.48v2.26h-2.48zM95.42 231.47h2.48v2.26h-2.48zM166.68 231.47h2.48v2.26h-2.48zM35.12 233.97h2.48v2.26h-2.48zM57.05 233.97h2.48v2.26h-2.48zM95.42 233.97h2.48v2.26h-2.48zM163.94 233.97h2.48v2.26h-2.48zM40.60 236.47h2.48v2.26h-2.48zM46.09 236.47h2.48v2.26h-2.48zM54.31 236.47h2.48v2.26h-2.48zM89.94 236.47h2.48v2.26h-2.48zM95.42 236.47h2.48v2.26h-2.48zM98.16 236.47h2.48v2.26h-2.48zM114.60 236.47h2.48v2.26h-2.48zM122.83 236.47h2.48v2.26h-2.48zM161.20 236.47h2.48v2.26h-2.48zM92.68 238.97h2.48v2.26h-2.48zM95.42 238.97h2.48v2.26h-2.48zM117.34 238.97h2.48v2.26h-2.48zM139.27 238.97h2.48v2.26h-2.48zM144.75 238.97h2.48v2.26h-2.48zM150.23 238.97h2.48v2.26h-2.48zM155.71 238.97h2.48v2.26h-2.48zM84.46 241.48h2.48v2.26h-2.48zM109.12 241.48h2.48v2.26h-2.48zM111.86 241.48h2.48v2.26h-2.48zM114.60 241.48h2.48v2.26h-2.48zM117.34 241.48h2.48v2.26h-2.48zM131.05 241.48h2.48v2.26h-2.48zM57.05 243.98h2.48v2.26h-2.48zM81.71 243.98h2.48v2.26h-2.48zM117.34 243.98h2.48v2.26h-2.48zM125.57 243.98h2.48v2.26h-2.48zM139.27 243.98h2.48v2.26h-2.48zM152.97 243.98h2.48v2.26h-2.48zM81.71 246.48h2.48v2.26h-2.48zM98.16 246.48h2.48v2.26h-2.48zM106.38 246.48h2.48v2.26h-2.48zM133.79 246.48h2.48v2.26h-2.48zM152.97 246.48h2.48v2.26h-2.48zM98.16 248.98h2.48v2.26h-2.48zM103.64 248.98h2.48v2.26h-2.48zM111.86 248.98h2.48v2.26h-2.48zM136.53 248.98h2.48v2.26h-2.48zM40.60 251.48h2.48v2.26h-2.48zM81.71 251.48h2.48v2.26h-2.48zM111.86 251.48h2.48v2.26h-2.48zM114.60 251.48h2.48v2.26h-2.48zM37.86 253.99h2.48v2.26h-2.48zM62.53 253.99h2.48v2.26h-2.48zM92.68 253.99h2.48v2.26h-2.48zM106.38 253.99h2.48v2.26h-2.48zM109.12 253.99h2.48v2.26h-2.48zM120.09 253.99h2.48v2.26h-2.48zM128.31 253.99h2.48v2.26h-2.48zM139.27 253.99h2.48v2.26h-2.48zM57.05 256.49h2.48v2.26h-2.48zM98.16 256.49h2.48v2.26h-2.48zM128.31 256.49h2.48v2.26h-2.48zM155.71 256.49h2.48v2.26h-2.48zM163.94 256.49h2.48v2.26h-2.48zM111.86 258.99h2.48v2.26h-2.48zM35.12 261.49h2.48v2.26h-2.48zM57.05 261.49h2.48v2.26h-2.48zM76.23 261.49h2.48v2.26h-2.48zM78.97 261.49h2.48v2.26h-2.48zM84.46 261.49h2.48v2.26h-2.48zM114.60 261.49h2.48v2.26h-2.48zM155.71 261.49h2.48v2.26h-2.48zM46.09 263.99h2.48v2.26h-2.48zM87.20 263.99h2.48v2.26h-2.48zM98.16 263.99h2.48v2.26h-2.48zM120.09 263.99h2.48v2.26h-2.48zM158.46 263.99h2.48v2.26h-2.48zM163.94 263.99h2.48v2.26h-2.48zM29.64 266.50h2.48v2.26h-2.48zM87.20 266.50h2.48v2.26h-2.48zM89.94 266.50h2.48v2.26h-2.48zM166.68 266.50h2.48v2.26h-2.48zM65.27 269.00h2.48v2.26h-2.48zM103.64 269.00h2.48v2.26h-2.48zM139.27 269.00h2.48v2.26h-2.48z"/><path fill="#f0a0b0" d="M46.09 23.80h2.48v2.26h-2.48zM51.57 23.80h2.48v2.26h-2.48zM84.46 26.30h2.48v2.26h-2.48zM158.46 28.81h2.48v2.26h-2.48zM37.86 31.31h2.48v2.26h-2.48zM51.57 31.31h2.48v2.26h-2.48zM62.53 31.31h2.48v2.26h-2.48zM70.75 31.31h2.48v2.26h-2.48zM100.90 31.31h2.48v2.26h-2.48zM109.12 33.81h2.48v2.26h-2.48zM111.86 33.81h2.48v2.26h-2.48zM136.53 33.81h2.48v2.26h-2.48zM150.23 33.81h2.48v2.26h-2.48zM37.86 36.31h2.48v2.26h-2.48zM65.27 36.31h2.48v2.26h-2.48zM68.01 36.31h2.48v2.26h-2.48zM92.68 36.31h2.48v2.26h-2.48zM76.23 38.81h2.48v2.26h-2.48zM142.01 38.81h2.48v2.26h-2.48zM172.16 41.32h2.48v2.26h-2.48zM32.38 43.82h2.48v2.26h-2.48zM136.53 43.82h2.48v2.26h-2.48zM147.49 43.82h2.48v2.26h-2.48zM169.42 43.82h2.48v2.26h-2.48zM57.05 46.32h2.48v2.26h-2.48zM122.83 46.32h2.48v2.26h-2.48zM78.97 48.82h2.48v2.26h-2.48zM136.53 48.82h2.48v2.26h-2.48zM144.75 48.82h2.48v2.26h-2.48zM40.60 51.32h2.48v2.26h-2.48zM62.53 51.32h2.48v2.26h-2.48zM78.97 51.32h2.48v2.26h-2.48zM81.71 51.32h2.48v2.26h-2.48zM100.90 51.32h2.48v2.26h-2.48zM109.12 51.32h2.48v2.26h-2.48zM147.49 51.32h2.48v2.26h-2.48zM152.97 51.32h2.48v2.26h-2.48zM161.20 51.32h2.48v2.26h-2.48zM166.68 51.32h2.48v2.26h-2.48zM68.01 53.83h2.48v2.26h-2.48zM73.49 53.83h2.48v2.26h-2.48zM48.83 56.33h2.48v2.26h-2.48zM51.57 56.33h2.48v2.26h-2.48zM54.31 56.33h2.48v2.26h-2.48zM89.94 56.33h2.48v2.26h-2.48zM98.16 56.33h2.48v2.26h-2.48zM172.16 56.33h2.48v2.26h-2.48zM76.23 58.83h2.48v2.26h-2.48zM144.75 58.83h2.48v2.26h-2.48zM95.42 61.33h2.48v2.26h-2.48zM98.16 61.33h2.48v2.26h-2.48zM166.68 61.33h2.48v2.26h-2.48zM40.60 63.83h2.48v2.26h-2.48zM43.34 63.83h2.48v2.26h-2.48zM87.20 63.83h2.48v2.26h-2.48zM92.68 63.83h2.48v2.26h-2.48zM109.12 63.83h2.48v2.26h-2.48zM57.05 66.34h2.48v2.26h-2.48zM62.53 66.34h2.48v2.26h-2.48zM76.23 66.34h2.48v2.26h-2.48zM103.64 66.34h2.48v2.26h-2.48zM111.86 66.34h2.48v2.26h-2.48zM152.97 66.34h2.48v2.26h-2.48zM46.09 68.84h2.48v2.26h-2.48zM109.12 68.84h2.48v2.26h-2.48zM158.46 68.84h2.48v2.26h-2.48zM169.42 68.84h2.48v2.26h-2.48zM37.86 71.34h2.48v2.26h-2.48zM40.60 71.34h2.48v2.26h-2.48zM46.09 71.34h2.48v2.26h-2.48zM81.71 71.34h2.48v2.26h-2.48zM98.16 71.34h2.48v2.26h-2.48zM109.12 71.34h2.48v2.26h-2.48zM111.86 71.34h2.48v2.26h-2.48zM128.31 71.34h2.48v2.26h-2.48zM144.75 71.34h2.48v2.26h-2.48zM166.68 71.34h2.48v2.26h-2.48zM169.42 71.34h2.48v2.26h-2.48zM29.64 73.84h2.48v2.26h-2.48zM120.09 73.84h2.48v2.26h-2.48zM163.94 73.84h2.48v2.26h-2.48zM48.83 76.34h2.48v2.26h-2.48zM92.68 76.34h2.48v2.26h-2.48zM98.16 76.34h2.48v2.26h-2.48zM144.75 76.34h2.48v2.26h-2.48zM163.94 76.34h2.48v2.26h-2.48zM166.68 76.34h2.48v2.26h-2.48zM78.97 78.85h2.48v2.26h-2.48zM147.49 78.85h2.48v2.26h-2.48zM40.60 81.35h2.48v2.26h-2.48zM48.83 81.35h2.48v2.26h-2.48zM57.05 81.35h2.48v2.26h-2.48zM139.27 81.35h2.48v2.26h-2.48zM68.01 83.85h2.48v2.26h-2.48zM78.97 83.85h2.48v2.26h-2.48zM142.01 83.85h2.48v2.26h-2.48zM152.97 83.85h2.48v2.26h-2.48zM169.42 83.85h2.48v2.26h-2.48zM43.34 86.35h2.48v2.26h-2.48zM54.31 86.35h2.48v2.26h-2.48zM73.49 86.35h2.48v2.26h-2.48zM131.05 86.35h2.48v2.26h-2.48zM133.79 86.35h2.48v2.26h-2.48zM136.53 86.35h2.48v2.26h-2.48zM68.01 88.85h2.48v2.26h-2.48zM109.12 88.85h2.48v2.26h-2.48zM29.64 91.36h2.48v2.26h-2.48zM103.64 91.36h2.48v2.26h-2.48zM122.83 91.36h2.48v2.26h-2.48zM29.64 93.86h2.48v2.26h-2.48zM76.23 93.86h2.48v2.26h-2.48zM92.68 93.86h2.48v2.26h-2.48zM120.09 93.86h2.48v2.26h-2.48zM131.05 93.86h2.48v2.26h-2.48zM169.42 93.86h2.48v2.26h-2.48zM32.38 96.36h2.48v2.26h-2.48zM57.05 96.36h2.48v2.26h-2.48zM117.34 96.36h2.48v2.26h-2.48zM155.71 96.36h2.48v2.26h-2.48zM158.46 96.36h2.48v2.26h-2.48zM46.09 98.86h2.48v2.26h-2.48zM48.83 98.86h2.48v2.26h-2.48zM54.31 98.86h2.48v2.26h-2.48zM103.64 98.86h2.48v2.26h-2.48zM139.27 98.86h2.48v2.26h-2.48zM109.12 101.36h2.48v2.26h-2.48zM133.79 101.36h2.48v2.26h-2.48zM26.90 103.87h2.48v2.26h-2.48zM98.16 103.87h2.48v2.26h-2.48zM106.38 103.87h2.48v2.26h-2.48zM122.83 103.87h2.48v2.26h-2.48zM169.42 103.87h2.48v2.26h-2.48zM95.42 106.37h2.48v2.26h-2.48zM100.90 106.37h2.48v2.26h-2.48zM106.38 106.37h2.48v2.26h-2.48zM163.94 106.37h2.48v2.26h-2.48zM32.38 108.87h2.48v2.26h-2.48zM59.79 108.87h2.48v2.26h-2.48zM103.64 108.87h2.48v2.26h-2.48zM128.31 108.87h2.48v2.26h-2.48zM106.38 111.37h2.48v2.26h-2.48zM35.12 113.87h2.48v2.26h-2.48zM125.57 113.87h2.48v2.26h-2.48zM144.75 113.87h2.48v2.26h-2.48zM158.46 113.87h2.48v2.26h-2.48zM109.12 116.38h2.48v2.26h-2.48zM125.57 116.38h2.48v2.26h-2.48zM128.31 116.38h2.48v2.26h-2.48zM29.64 118.88h2.48v2.26h-2.48zM109.12 118.88h2.48v2.26h-2.48zM172.16 118.88h2.48v2.26h-2.48zM29.64 121.38h2.48v2.26h-2.48zM48.83 121.38h2.48v2.26h-2.48zM147.49 121.38h2.48v2.26h-2.48zM37.86 123.88h2.48v2.26h-2.48zM57.05 123.88h2.48v2.26h-2.48zM81.71 126.38h2.48v2.26h-2.48zM98.16 126.38h2.48v2.26h-2.48zM120.09 126.38h2.48v2.26h-2.48zM147.49 126.38h2.48v2.26h-2.48zM166.68 126.38h2.48v2.26h-2.48zM59.79 128.89h2.48v2.26h-2.48zM125.57 128.89h2.48v2.26h-2.48zM163.94 128.89h2.48v2.26h-2.48zM32.38 131.39h2.48v2.26h-2.48zM84.46 131.39h2.48v2.26h-2.48zM89.94 131.39h2.48v2.26h-2.48zM100.90 131.39h2.48v2.26h-2.48zM111.86 131.39h2.48v2.26h-2.48zM136.53 131.39h2.48v2.26h-2.48zM155.71 131.39h2.48v2.26h-2.48zM166.68 131.39h2.48v2.26h-2.48zM51.57 133.89h2.48v2.26h-2.48zM57.05 133.89h2.48v2.26h-2.48zM84.46 133.89h2.48v2.26h-2.48zM125.57 133.89h2.48v2.26h-2.48zM133.79 133.89h2.48v2.26h-2.48zM46.09 136.39h2.48v2.26h-2.48zM76.23 136.39h2.48v2.26h-2.48zM78.97 136.39h2.48v2.26h-2.48zM84.46 136.39h2.48v2.26h-2.48zM87.20 136.39h2.48v2.26h-2.48zM103.64 136.39h2.48v2.26h-2.48zM109.12 136.39h2.48v2.26h-2.48zM147.49 136.39h2.48v2.26h-2.48zM169.42 136.39h2.48v2.26h-2.48zM62.53 138.89h2.48v2.26h-2.48zM114.60 138.89h2.48v2.26h-2.48zM158.46 138.89h2.48v2.26h-2.48zM68.01 141.40h2.48v2.26h-2.48zM89.94 141.40h2.48v2.26h-2.48zM136.53 143.90h2.48v2.26h-2.48zM139.27 143.90h2.48v2.26h-2.48zM29.64 146.40h2.48v2.26h-2.48zM35.12 146.40h2.48v2.26h-2.48zM87.20 146.40h2.48v2.26h-2.48zM109.12 146.40h2.48v2.26h-2.48zM161.20 146.40h2.48v2.26h-2.48zM62.53 148.90h2.48v2.26h-2.48zM87.20 148.90h2.48v2.26h-2.48zM103.64 148.90h2.48v2.26h-2.48zM169.42 148.90h2.48v2.26h-2.48zM158.46 151.40h2.48v2.26h-2.48zM76.23 153.91h2.48v2.26h-2.48zM120.09 153.91h2.48v2.26h-2.48zM147.49 153.91h2.48v2.26h-2.48zM111.86 156.41h2.48v2.26h-2.48zM147.49 156.41h2.48v2.26h-2.48zM150.23 156.41h2.48v2.26h-2.48zM169.42 156.41h2.48v2.26h-2.48zM117.34 158.91h2.48v2.26h-2.48zM40.60 161.41h2.48v2.26h-2.48zM43.34 161.41h2.48v2.26h-2.48zM48.83 161.41h2.48v2.26h-2.48zM54.31 161.41h2.48v2.26h-2.48zM92.68 161.41h2.48v2.26h-2.48zM109.12 161.41h2.48v2.26h-2.48zM117.34 161.41h2.48v2.26h-2.48zM131.05 161.41h2.48v2.26h-2.48zM147.49 161.41h2.48v2.26h-2.48zM37.86 163.91h2.48v2.26h-2.48zM106.38 163.91h2.48v2.26h-2.48zM120.09 163.91h2.48v2.26h-2.48zM111.86 166.42h2.48v2.26h-2.48zM117.34 166.42h2.48v2.26h-2.48zM136.53 166.42h2.48v2.26h-2.48zM161.20 166.42h2.48v2.26h-2.48zM89.94 168.92h2.48v2.26h-2.48zM111.86 168.92h2.48v2.26h-2.48zM128.31 168.92h2.48v2.26h-2.48zM35.12 171.42h2.48v2.26h-2.48zM87.20 171.42h2.48v2.26h-2.48zM114.60 171.42h2.48v2.26h-2.48zM120.09 171.42h2.48v2.26h-2.48zM150.23 171.42h2.48v2.26h-2.48zM70.75 173.92h2.48v2.26h-2.48zM106.38 173.92h2.48v2.26h-2.48zM29.64 176.42h2.48v2.26h-2.48zM51.57 176.42h2.48v2.26h-2.48zM57.05 176.42h2.48v2.26h-2.48zM65.27 176.42h2.48v2.26h-2.48zM111.86 176.42h2.48v2.26h-2.48zM120.09 176.42h2.48v2.26h-2.48zM142.01 176.42h2.48v2.26h-2.48zM150.23 176.42h2.48v2.26h-2.48zM169.42 176.42h2.48v2.26h-2.48zM46.09 178.93h2.48v2.26h-2.48zM100.90 178.93h2.48v2.26h-2.48zM120.09 178.93h2.48v2.26h-2.48zM161.20 178.93h2.48v2.26h-2.48zM26.90 181.43h2.48v2.26h-2.48zM65.27 181.43h2.48v2.26h-2.48zM87.20 181.43h2.48v2.26h-2.48zM128.31 181.43h2.48v2.26h-2.48zM169.42 181.43h2.48v2.26h-2.48zM26.90 183.93h2.48v2.26h-2.48zM150.23 183.93h2.48v2.26h-2.48zM169.42 183.93h2.48v2.26h-2.48zM57.05 186.43h2.48v2.26h-2.48zM133.79 186.43h2.48v2.26h-2.48zM172.16 186.43h2.48v2.26h-2.48zM29.64 188.93h2.48v2.26h-2.48zM81.71 191.44h2.48v2.26h-2.48zM155.71 191.44h2.48v2.26h-2.48zM117.34 193.94h2.48v2.26h-2.48zM128.31 193.94h2.48v2.26h-2.48zM166.68 193.94h2.48v2.26h-2.48zM100.90 196.44h2.48v2.26h-2.48zM103.64 196.44h2.48v2.26h-2.48zM76.23 198.94h2.48v2.26h-2.48zM122.83 198.94h2.48v2.26h-2.48zM161.20 198.94h2.48v2.26h-2.48zM163.94 198.94h2.48v2.26h-2.48zM120.09 201.44h2.48v2.26h-2.48zM128.31 201.44h2.48v2.26h-2.48zM29.64 203.95h2.48v2.26h-2.48zM40.60 203.95h2.48v2.26h-2.48zM158.46 203.95h2.48v2.26h-2.48zM32.38 206.45h2.48v2.26h-2.48zM46.09 206.45h2.48v2.26h-2.48zM81.71 206.45h2.48v2.26h-2.48zM87.20 206.45h2.48v2.26h-2.48zM109.12 206.45h2.48v2.26h-2.48zM163.94 206.45h2.48v2.26h-2.48zM29.64 208.95h2.48v2.26h-2.48zM172.16 208.95h2.48v2.26h-2.48zM68.01 211.45h2.48v2.26h-2.48zM128.31 211.45h2.48v2.26h-2.48zM125.57 213.95h2.48v2.26h-2.48zM128.31 213.95h2.48v2.26h-2.48zM144.75 216.46h2.48v2.26h-2.48zM29.64 218.96h2.48v2.26h-2.48zM46.09 218.96h2.48v2.26h-2.48zM84.46 218.96h2.48v2.26h-2.48zM54.31 221.46h2.48v2.26h-2.48zM87.20 221.46h2.48v2.26h-2.48zM73.49 223.96h2.48v2.26h-2.48zM92.68 223.96h2.48v2.26h-2.48zM109.12 223.96h2.48v2.26h-2.48zM144.75 223.96h2.48v2.26h-2.48zM35.12 226.46h2.48v2.26h-2.48zM57.05 226.46h2.48v2.26h-2.48zM70.75 226.46h2.48v2.26h-2.48zM81.71 226.46h2.48v2.26h-2.48zM92.68 226.46h2.48v2.26h-2.48zM131.05 226.46h2.48v2.26h-2.48zM155.71 226.46h2.48v2.26h-2.48zM158.46 226.46h2.48v2.26h-2.48zM40.60 228.97h2.48v2.26h-2.48zM70.75 228.97h2.48v2.26h-2.48zM103.64 228.97h2.48v2.26h-2.48zM166.68 228.97h2.48v2.26h-2.48zM26.90 231.47h2.48v2.26h-2.48zM89.94 231.47h2.48v2.26h-2.48zM111.86 231.47h2.48v2.26h-2.48zM117.34 231.47h2.48v2.26h-2.48zM120.09 231.47h2.48v2.26h-2.48zM136.53 231.47h2.48v2.26h-2.48zM32.38 233.97h2.48v2.26h-2.48zM111.86 233.97h2.48v2.26h-2.48zM120.09 233.97h2.48v2.26h-2.48zM125.57 233.97h2.48v2.26h-2.48zM152.97 233.97h2.48v2.26h-2.48zM161.20 233.97h2.48v2.26h-2.48zM103.64 236.47h2.48v2.26h-2.48zM155.71 236.47h2.48v2.26h-2.48zM114.60 238.97h2.48v2.26h-2.48zM136.53 238.97h2.48v2.26h-2.48zM142.01 238.97h2.48v2.26h-2.48zM59.79 241.48h2.48v2.26h-2.48zM70.75 241.48h2.48v2.26h-2.48zM76.23 241.48h2.48v2.26h-2.48zM120.09 241.48h2.48v2.26h-2.48zM142.01 241.48h2.48v2.26h-2.48zM147.49 241.48h2.48v2.26h-2.48zM150.23 241.48h2.48v2.26h-2.48zM155.71 241.48h2.48v2.26h-2.48zM161.20 241.48h2.48v2.26h-2.48zM26.90 243.98h2.48v2.26h-2.48zM29.64 243.98h2.48v2.26h-2.48zM46.09 243.98h2.48v2.26h-2.48zM109.12 243.98h2.48v2.26h-2.48zM163.94 243.98h2.48v2.26h-2.48zM40.60 246.48h2.48v2.26h-2.48zM54.31 246.48h2.48v2.26h-2.48zM57.05 246.48h2.48v2.26h-2.48zM136.53 246.48h2.48v2.26h-2.48zM142.01 246.48h2.48v2.26h-2.48zM26.90 248.98h2.48v2.26h-2.48zM40.60 248.98h2.48v2.26h-2.48zM78.97 248.98h2.48v2.26h-2.48zM89.94 248.98h2.48v2.26h-2.48zM139.27 248.98h2.48v2.26h-2.48zM155.71 248.98h2.48v2.26h-2.48zM59.79 251.48h2.48v2.26h-2.48zM70.75 251.48h2.48v2.26h-2.48zM142.01 251.48h2.48v2.26h-2.48zM144.75 251.48h2.48v2.26h-2.48zM40.60 253.99h2.48v2.26h-2.48zM81.71 253.99h2.48v2.26h-2.48zM87.20 253.99h2.48v2.26h-2.48zM89.94 253.99h2.48v2.26h-2.48zM142.01 253.99h2.48v2.26h-2.48zM65.27 256.49h2.48v2.26h-2.48zM70.75 256.49h2.48v2.26h-2.48zM95.42 256.49h2.48v2.26h-2.48zM103.64 256.49h2.48v2.26h-2.48zM125.57 256.49h2.48v2.26h-2.48zM133.79 256.49h2.48v2.26h-2.48zM142.01 256.49h2.48v2.26h-2.48zM161.20 256.49h2.48v2.26h-2.48zM166.68 256.49h2.48v2.26h-2.48zM172.16 256.49h2.48v2.26h-2.48zM51.57 258.99h2.48v2.26h-2.48zM76.23 258.99h2.48v2.26h-2.48zM89.94 258.99h2.48v2.26h-2.48zM98.16 258.99h2.48v2.26h-2.48zM103.64 258.99h2.48v2.26h-2.48zM152.97 258.99h2.48v2.26h-2.48zM163.94 258.99h2.48v2.26h-2.48zM65.27 261.49h2.48v2.26h-2.48zM120.09 261.49h2.48v2.26h-2.48zM125.57 261.49h2.48v2.26h-2.48zM32.38 263.99h2.48v2.26h-2.48zM68.01 263.99h2.48v2.26h-2.48zM73.49 263.99h2.48v2.26h-2.48zM100.90 263.99h2.48v2.26h-2.48zM122.83 263.99h2.48v2.26h-2.48zM125.57 263.99h2.48v2.26h-2.48zM128.31 263.99h2.48v2.26h-2.48zM150.23 263.99h2.48v2.26h-2.48zM155.71 263.99h2.48v2.26h-2.48zM32.38 266.50h2.48v2.26h-2.48zM35.12 266.50h2.48v2.26h-2.48zM51.57 266.50h2.48v2.26h-2.48zM59.79 266.50h2.48v2.26h-2.48zM95.42 266.50h2.48v2.26h-2.48zM100.90 266.50h2.48v2.26h-2.48zM109.12 266.50h2.48v2.26h-2.48zM158.46 266.50h2.48v2.26h-2.48zM161.20 266.50h2.48v2.26h-2.48zM163.94 266.50h2.48v2.26h-2.48zM35.12 269.00h2.48v2.26h-2.48zM48.83 269.00h2.48v2.26h-2.48zM89.94 269.00h2.48v2.26h-2.48zM142.01 269.00h2.48v2.26h-2.48zM150.23 269.00h2.48v2.26h-2.48zM169.42 269.00h2.48v2.26h-2.48zM172.16 269.00h2.48v2.26h-2.48z"/><path fill="#f4d0e4" d="M62.53 23.80h2.48v2.26h-2.48zM65.27 28.81h2.48v2.26h-2.48zM46.09 31.31h2.48v2.26h-2.48zM54.31 31.31h2.48v2.26h-2.48zM65.27 31.31h2.48v2.26h-2.48zM78.97 31.31h2.48v2.26h-2.48zM95.42 31.31h2.48v2.26h-2.48zM98.16 31.31h2.48v2.26h-2.48zM172.16 31.31h2.48v2.26h-2.48zM40.60 33.81h2.48v2.26h-2.48zM106.38 33.81h2.48v2.26h-2.48zM29.64 36.31h2.48v2.26h-2.48zM48.83 36.31h2.48v2.26h-2.48zM73.49 36.31h2.48v2.26h-2.48zM26.90 38.81h2.48v2.26h-2.48zM32.38 38.81h2.48v2.26h-2.48zM40.60 38.81h2.48v2.26h-2.48zM51.57 38.81h2.48v2.26h-2.48zM84.46 38.81h2.48v2.26h-2.48zM89.94 38.81h2.48v2.26h-2.48zM139.27 38.81h2.48v2.26h-2.48zM57.05 41.32h2.48v2.26h-2.48zM84.46 41.32h2.48v2.26h-2.48zM87.20 41.32h2.48v2.26h-2.48zM57.05 43.82h2.48v2.26h-2.48zM117.34 43.82h2.48v2.26h-2.48zM43.34 46.32h2.48v2.26h-2.48zM106.38 46.32h2.48v2.26h-2.48zM76.23 48.82h2.48v2.26h-2.48zM98.16 48.82h2.48v2.26h-2.48zM109.12 48.82h2.48v2.26h-2.48zM125.57 48.82h2.48v2.26h-2.48zM131.05 48.82h2.48v2.26h-2.48zM59.79 51.32h2.48v2.26h-2.48zM117.34 51.32h2.48v2.26h-2.48zM122.83 51.32h2.48v2.26h-2.48zM122.83 53.83h2.48v2.26h-2.48zM158.46 53.83h2.48v2.26h-2.48zM29.64 56.33h2.48v2.26h-2.48zM43.34 56.33h2.48v2.26h-2.48zM155.71 58.83h2.48v2.26h-2.48zM32.38 61.33h2.48v2.26h-2.48zM51.57 61.33h2.48v2.26h-2.48zM109.12 61.33h2.48v2.26h-2.48zM114.60 61.33h2.48v2.26h-2.48zM131.05 61.33h2.48v2.26h-2.48zM29.64 63.83h2.48v2.26h-2.48zM48.83 63.83h2.48v2.26h-2.48zM131.05 63.83h2.48v2.26h-2.48zM144.75 63.83h2.48v2.26h-2.48zM166.68 63.83h2.48v2.26h-2.48zM142.01 66.34h2.48v2.26h-2.48zM29.64 68.84h2.48v2.26h-2.48zM54.31 68.84h2.48v2.26h-2.48zM163.94 68.84h2.48v2.26h-2.48zM172.16 68.84h2.48v2.26h-2.48zM54.31 71.34h2.48v2.26h-2.48zM133.79 73.84h2.48v2.26h-2.48zM139.27 73.84h2.48v2.26h-2.48zM150.23 73.84h2.48v2.26h-2.48zM152.97 73.84h2.48v2.26h-2.48zM155.71 73.84h2.48v2.26h-2.48zM84.46 76.34h2.48v2.26h-2.48zM87.20 76.34h2.48v2.26h-2.48zM136.53 76.34h2.48v2.26h-2.48zM139.27 76.34h2.48v2.26h-2.48zM54.31 78.85h2.48v2.26h-2.48zM57.05 78.85h2.48v2.26h-2.48zM84.46 78.85h2.48v2.26h-2.48zM98.16 78.85h2.48v2.26h-2.48zM117.34 78.85h2.48v2.26h-2.48zM106.38 81.35h2.48v2.26h-2.48zM117.34 81.35h2.48v2.26h-2.48zM35.12 83.85h2.48v2.26h-2.48zM114.60 83.85h2.48v2.26h-2.48zM46.09 86.35h2.48v2.26h-2.48zM92.68 86.35h2.48v2.26h-2.48zM172.16 86.35h2.48v2.26h-2.48zM139.27 88.85h2.48v2.26h-2.48zM35.12 91.36h2.48v2.26h-2.48zM70.75 91.36h2.48v2.26h-2.48zM98.16 91.36h2.48v2.26h-2.48zM111.86 91.36h2.48v2.26h-2.48zM133.79 91.36h2.48v2.26h-2.48zM150.23 91.36h2.48v2.26h-2.48zM37.86 93.86h2.48v2.26h-2.48zM65.27 93.86h2.48v2.26h-2.48zM68.01 93.86h2.48v2.26h-2.48zM103.64 93.86h2.48v2.26h-2.48zM111.86 93.86h2.48v2.26h-2.48zM125.57 93.86h2.48v2.26h-2.48zM48.83 96.36h2.48v2.26h-2.48zM59.79 96.36h2.48v2.26h-2.48zM68.01 96.36h2.48v2.26h-2.48zM122.83 96.36h2.48v2.26h-2.48zM172.16 96.36h2.48v2.26h-2.48zM57.05 98.86h2.48v2.26h-2.48zM73.49 98.86h2.48v2.26h-2.48zM122.83 98.86h2.48v2.26h-2.48zM131.05 98.86h2.48v2.26h-2.48zM155.71 98.86h2.48v2.26h-2.48zM62.53 101.36h2.48v2.26h-2.48zM68.01 101.36h2.48v2.26h-2.48zM78.97 101.36h2.48v2.26h-2.48zM169.42 101.36h2.48v2.26h-2.48zM87.20 103.87h2.48v2.26h-2.48zM139.27 103.87h2.48v2.26h-2.48zM147.49 103.87h2.48v2.26h-2.48zM161.20 103.87h2.48v2.26h-2.48zM37.86 106.37h2.48v2.26h-2.48zM57.05 106.37h2.48v2.26h-2.48zM111.86 106.37h2.48v2.26h-2.48zM158.46 106.37h2.48v2.26h-2.48zM166.68 106.37h2.48v2.26h-2.48zM35.12 108.87h2.48v2.26h-2.48zM136.53 108.87h2.48v2.26h-2.48zM152.97 108.87h2.48v2.26h-2.48zM65.27 111.37h2.48v2.26h-2.48zM81.71 111.37h2.48v2.26h-2.48zM84.46 111.37h2.48v2.26h-2.48zM103.64 111.37h2.48v2.26h-2.48zM161.20 111.37h2.48v2.26h-2.48zM26.90 113.87h2.48v2.26h-2.48zM32.38 113.87h2.48v2.26h-2.48zM40.60 113.87h2.48v2.26h-2.48zM43.34 113.87h2.48v2.26h-2.48zM68.01 113.87h2.48v2.26h-2.48zM70.75 113.87h2.48v2.26h-2.48zM120.09 113.87h2.48v2.26h-2.48zM29.64 116.38h2.48v2.26h-2.48zM37.86 116.38h2.48v2.26h-2.48zM81.71 116.38h2.48v2.26h-2.48zM172.16 116.38h2.48v2.26h-2.48zM111.86 118.88h2.48v2.26h-2.48zM40.60 121.38h2.48v2.26h-2.48zM155.71 121.38h2.48v2.26h-2.48zM166.68 121.38h2.48v2.26h-2.48zM95.42 123.88h2.48v2.26h-2.48zM150.23 123.88h2.48v2.26h-2.48zM158.46 123.88h2.48v2.26h-2.48zM29.64 126.38h2.48v2.26h-2.48zM117.34 126.38h2.48v2.26h-2.48zM142.01 126.38h2.48v2.26h-2.48zM158.46 126.38h2.48v2.26h-2.48zM172.16 126.38h2.48v2.26h-2.48zM43.34 128.89h2.48v2.26h-2.48zM46.09 128.89h2.48v2.26h-2.48zM81.71 128.89h2.48v2.26h-2.48zM166.68 128.89h2.48v2.26h-2.48zM122.83 131.39h2.48v2.26h-2.48zM48.83 133.89h2.48v2.26h-2.48zM59.79 133.89h2.48v2.26h-2.48zM122.83 133.89h2.48v2.26h-2.48zM73.49 136.39h2.48v2.26h-2.48zM120.09 136.39h2.48v2.26h-2.48zM163.94 136.39h2.48v2.26h-2.48zM26.90 138.89h2.48v2.26h-2.48zM98.16 138.89h2.48v2.26h-2.48zM46.09 141.40h2.48v2.26h-2.48zM51.57 141.40h2.48v2.26h-2.48zM106.38 141.40h2.48v2.26h-2.48zM98.16 143.90h2.48v2.26h-2.48zM122.83 143.90h2.48v2.26h-2.48zM128.31 143.90h2.48v2.26h-2.48zM169.42 143.90h2.48v2.26h-2.48zM81.71 146.40h2.48v2.26h-2.48zM89.94 146.40h2.48v2.26h-2.48zM111.86 146.40h2.48v2.26h-2.48zM155.71 146.40h2.48v2.26h-2.48zM65.27 148.90h2.48v2.26h-2.48zM95.42 148.90h2.48v2.26h-2.48zM131.05 148.90h2.48v2.26h-2.48zM155.71 148.90h2.48v2.26h-2.48zM81.71 151.40h2.48v2.26h-2.48zM161.20 151.40h2.48v2.26h-2.48zM70.75 153.91h2.48v2.26h-2.48zM142.01 153.91h2.48v2.26h-2.48zM142.01 158.91h2.48v2.26h-2.48zM152.97 158.91h2.48v2.26h-2.48zM51.57 161.41h2.48v2.26h-2.48zM120.09 161.41h2.48v2.26h-2.48zM131.05 163.91h2.48v2.26h-2.48zM136.53 163.91h2.48v2.26h-2.48zM161.20 163.91h2.48v2.26h-2.48zM54.31 166.42h2.48v2.26h-2.48zM100.90 168.92h2.48v2.26h-2.48zM54.31 171.42h2.48v2.26h-2.48zM59.79 171.42h2.48v2.26h-2.48zM76.23 171.42h2.48v2.26h-2.48zM103.64 171.42h2.48v2.26h-2.48zM128.31 171.42h2.48v2.26h-2.48zM73.49 173.92h2.48v2.26h-2.48zM32.38 178.93h2.48v2.26h-2.48zM169.42 178.93h2.48v2.26h-2.48zM139.27 181.43h2.48v2.26h-2.48zM142.01 181.43h2.48v2.26h-2.48zM46.09 183.93h2.48v2.26h-2.48zM106.38 183.93h2.48v2.26h-2.48zM109.12 186.43h2.48v2.26h-2.48zM120.09 186.43h2.48v2.26h-2.48zM128.31 186.43h2.48v2.26h-2.48zM136.53 191.44h2.48v2.26h-2.48zM106.38 193.94h2.48v2.26h-2.48zM155.71 193.94h2.48v2.26h-2.48zM172.16 193.94h2.48v2.26h-2.48zM37.86 196.44h2.48v2.26h-2.48zM65.27 196.44h2.48v2.26h-2.48zM76.23 196.44h2.48v2.26h-2.48zM87.20 196.44h2.48v2.26h-2.48zM89.94 196.44h2.48v2.26h-2.48zM95.42 196.44h2.48v2.26h-2.48zM98.16 196.44h2.48v2.26h-2.48zM109.12 196.44h2.48v2.26h-2.48zM150.23 196.44h2.48v2.26h-2.48zM73.49 201.44h2.48v2.26h-2.48zM37.86 203.95h2.48v2.26h-2.48zM51.57 203.95h2.48v2.26h-2.48zM26.90 206.45h2.48v2.26h-2.48zM100.90 206.45h2.48v2.26h-2.48zM70.75 208.95h2.48v2.26h-2.48zM89.94 208.95h2.48v2.26h-2.48zM155.71 208.95h2.48v2.26h-2.48zM166.68 211.45h2.48v2.26h-2.48zM103.64 213.95h2.48v2.26h-2.48zM40.60 216.46h2.48v2.26h-2.48zM100.90 216.46h2.48v2.26h-2.48zM172.16 216.46h2.48v2.26h-2.48zM95.42 218.96h2.48v2.26h-2.48zM155.71 218.96h2.48v2.26h-2.48zM172.16 218.96h2.48v2.26h-2.48zM78.97 221.46h2.48v2.26h-2.48zM122.83 221.46h2.48v2.26h-2.48zM120.09 223.96h2.48v2.26h-2.48zM133.79 223.96h2.48v2.26h-2.48zM161.20 223.96h2.48v2.26h-2.48zM78.97 226.46h2.48v2.26h-2.48zM103.64 226.46h2.48v2.26h-2.48zM128.31 226.46h2.48v2.26h-2.48zM166.68 226.46h2.48v2.26h-2.48zM26.90 228.97h2.48v2.26h-2.48zM35.12 228.97h2.48v2.26h-2.48zM172.16 228.97h2.48v2.26h-2.48zM76.23 231.47h2.48v2.26h-2.48zM109.12 231.47h2.48v2.26h-2.48zM131.05 231.47h2.48v2.26h-2.48zM144.75 231.47h2.48v2.26h-2.48zM147.49 231.47h2.48v2.26h-2.48zM26.90 233.97h2.48v2.26h-2.48zM59.79 233.97h2.48v2.26h-2.48zM73.49 233.97h2.48v2.26h-2.48zM117.34 233.97h2.48v2.26h-2.48zM122.83 233.97h2.48v2.26h-2.48zM128.31 233.97h2.48v2.26h-2.48zM142.01 233.97h2.48v2.26h-2.48zM48.83 236.47h2.48v2.26h-2.48zM59.79 236.47h2.48v2.26h-2.48zM68.01 236.47h2.48v2.26h-2.48zM73.49 236.47h2.48v2.26h-2.48zM131.05 236.47h2.48v2.26h-2.48zM142.01 236.47h2.48v2.26h-2.48zM48.83 238.97h2.48v2.26h-2.48zM81.71 238.97h2.48v2.26h-2.48zM106.38 238.97h2.48v2.26h-2.48zM166.68 238.97h2.48v2.26h-2.48zM136.53 241.48h2.48v2.26h-2.48zM98.16 243.98h2.48v2.26h-2.48zM172.16 243.98h2.48v2.26h-2.48zM43.34 246.48h2.48v2.26h-2.48zM73.49 246.48h2.48v2.26h-2.48zM114.60 246.48h2.48v2.26h-2.48zM35.12 248.98h2.48v2.26h-2.48zM172.16 248.98h2.48v2.26h-2.48zM32.38 251.48h2.48v2.26h-2.48zM65.27 251.48h2.48v2.26h-2.48zM68.01 251.48h2.48v2.26h-2.48zM89.94 251.48h2.48v2.26h-2.48zM120.09 251.48h2.48v2.26h-2.48zM172.16 251.48h2.48v2.26h-2.48zM46.09 253.99h2.48v2.26h-2.48zM155.71 253.99h2.48v2.26h-2.48zM48.83 256.49h2.48v2.26h-2.48zM73.49 256.49h2.48v2.26h-2.48zM109.12 256.49h2.48v2.26h-2.48zM139.27 256.49h2.48v2.26h-2.48zM158.46 256.49h2.48v2.26h-2.48zM43.34 258.99h2.48v2.26h-2.48zM54.31 258.99h2.48v2.26h-2.48zM70.75 258.99h2.48v2.26h-2.48zM78.97 258.99h2.48v2.26h-2.48zM139.27 258.99h2.48v2.26h-2.48zM40.60 261.49h2.48v2.26h-2.48zM76.23 263.99h2.48v2.26h-2.48zM81.71 263.99h2.48v2.26h-2.48zM172.16 263.99h2.48v2.26h-2.48zM26.90 266.50h2.48v2.26h-2.48zM92.68 266.50h2.48v2.26h-2.48zM98.16 266.50h2.48v2.26h-2.48zM133.79 266.50h2.48v2.26h-2.48zM136.53 266.50h2.48v2.26h-2.48zM46.09 269.00h2.48v2.26h-2.48z"/><path fill="#ebe8f6" d="M117.34 23.80h2.48v2.26h-2.48zM163.94 23.80h2.48v2.26h-2.48zM29.64 28.81h2.48v2.26h-2.48zM78.97 28.81h2.48v2.26h-2.48zM59.79 31.31h2.48v2.26h-2.48zM117.34 31.31h2.48v2.26h-2.48zM155.71 31.31h2.48v2.26h-2.48zM163.94 31.31h2.48v2.26h-2.48zM46.09 33.81h2.48v2.26h-2.48zM106.38 36.31h2.48v2.26h-2.48zM109.12 36.31h2.48v2.26h-2.48zM125.57 36.31h2.48v2.26h-2.48zM144.75 36.31h2.48v2.26h-2.48zM65.27 38.81h2.48v2.26h-2.48zM117.34 38.81h2.48v2.26h-2.48zM155.71 38.81h2.48v2.26h-2.48zM26.90 41.32h2.48v2.26h-2.48zM81.71 41.32h2.48v2.26h-2.48zM144.75 41.32h2.48v2.26h-2.48zM147.49 41.32h2.48v2.26h-2.48zM166.68 41.32h2.48v2.26h-2.48zM133.79 43.82h2.48v2.26h-2.48zM172.16 43.82h2.48v2.26h-2.48zM59.79 46.32h2.48v2.26h-2.48zM158.46 46.32h2.48v2.26h-2.48zM111.86 48.82h2.48v2.26h-2.48zM133.79 48.82h2.48v2.26h-2.48zM139.27 48.82h2.48v2.26h-2.48zM142.01 48.82h2.48v2.26h-2.48zM32.38 51.32h2.48v2.26h-2.48zM65.27 51.32h2.48v2.26h-2.48zM70.75 51.32h2.48v2.26h-2.48zM76.23 51.32h2.48v2.26h-2.48zM106.38 51.32h2.48v2.26h-2.48zM139.27 51.32h2.48v2.26h-2.48zM120.09 53.83h2.48v2.26h-2.48zM144.75 53.83h2.48v2.26h-2.48zM172.16 53.83h2.48v2.26h-2.48zM26.90 56.33h2.48v2.26h-2.48zM37.86 56.33h2.48v2.26h-2.48zM57.05 56.33h2.48v2.26h-2.48zM81.71 56.33h2.48v2.26h-2.48zM92.68 56.33h2.48v2.26h-2.48zM128.31 56.33h2.48v2.26h-2.48zM131.05 56.33h2.48v2.26h-2.48zM136.53 56.33h2.48v2.26h-2.48zM62.53 58.83h2.48v2.26h-2.48zM136.53 58.83h2.48v2.26h-2.48zM35.12 61.33h2.48v2.26h-2.48zM43.34 61.33h2.48v2.26h-2.48zM48.83 61.33h2.48v2.26h-2.48zM54.31 61.33h2.48v2.26h-2.48zM106.38 61.33h2.48v2.26h-2.48zM73.49 63.83h2.48v2.26h-2.48zM100.90 63.83h2.48v2.26h-2.48zM106.38 63.83h2.48v2.26h-2.48zM125.57 63.83h2.48v2.26h-2.48zM139.27 63.83h2.48v2.26h-2.48zM142.01 63.83h2.48v2.26h-2.48zM54.31 66.34h2.48v2.26h-2.48zM35.12 68.84h2.48v2.26h-2.48zM57.05 68.84h2.48v2.26h-2.48zM59.79 68.84h2.48v2.26h-2.48zM78.97 68.84h2.48v2.26h-2.48zM161.20 68.84h2.48v2.26h-2.48zM35.12 71.34h2.48v2.26h-2.48zM48.83 71.34h2.48v2.26h-2.48zM51.57 71.34h2.48v2.26h-2.48zM59.79 71.34h2.48v2.26h-2.48zM131.05 71.34h2.48v2.26h-2.48zM26.90 73.84h2.48v2.26h-2.48zM37.86 73.84h2.48v2.26h-2.48zM95.42 73.84h2.48v2.26h-2.48zM98.16 73.84h2.48v2.26h-2.48zM100.90 73.84h2.48v2.26h-2.48zM122.83 73.84h2.48v2.26h-2.48zM158.46 73.84h2.48v2.26h-2.48zM26.90 76.34h2.48v2.26h-2.48zM37.86 76.34h2.48v2.26h-2.48zM57.05 76.34h2.48v2.26h-2.48zM89.94 76.34h2.48v2.26h-2.48zM40.60 78.85h2.48v2.26h-2.48zM46.09 78.85h2.48v2.26h-2.48zM51.57 78.85h2.48v2.26h-2.48zM59.79 78.85h2.48v2.26h-2.48zM73.49 78.85h2.48v2.26h-2.48zM100.90 78.85h2.48v2.26h-2.48zM144.75 78.85h2.48v2.26h-2.48zM37.86 81.35h2.48v2.26h-2.48zM78.97 81.35h2.48v2.26h-2.48zM152.97 81.35h2.48v2.26h-2.48zM169.42 81.35h2.48v2.26h-2.48zM29.64 83.85h2.48v2.26h-2.48zM46.09 83.85h2.48v2.26h-2.48zM89.94 83.85h2.48v2.26h-2.48zM106.38 83.85h2.48v2.26h-2.48zM32.38 86.35h2.48v2.26h-2.48zM100.90 86.35h2.48v2.26h-2.48zM161.20 86.35h2.48v2.26h-2.48zM40.60 88.85h2.48v2.26h-2.48zM78.97 88.85h2.48v2.26h-2.48zM142.01 88.85h2.48v2.26h-2.48zM166.68 88.85h2.48v2.26h-2.48zM65.27 91.36h2.48v2.26h-2.48zM106.38 91.36h2.48v2.26h-2.48zM131.05 91.36h2.48v2.26h-2.48zM163.94 91.36h2.48v2.26h-2.48zM172.16 91.36h2.48v2.26h-2.48zM35.12 93.86h2.48v2.26h-2.48zM106.38 93.86h2.48v2.26h-2.48zM117.34 93.86h2.48v2.26h-2.48zM155.71 93.86h2.48v2.26h-2.48zM172.16 93.86h2.48v2.26h-2.48zM26.90 96.36h2.48v2.26h-2.48zM43.34 96.36h2.48v2.26h-2.48zM73.49 96.36h2.48v2.26h-2.48zM78.97 96.36h2.48v2.26h-2.48zM120.09 96.36h2.48v2.26h-2.48zM125.57 96.36h2.48v2.26h-2.48zM136.53 96.36h2.48v2.26h-2.48zM152.97 96.36h2.48v2.26h-2.48zM78.97 98.86h2.48v2.26h-2.48zM81.71 98.86h2.48v2.26h-2.48zM166.68 98.86h2.48v2.26h-2.48zM35.12 101.36h2.48v2.26h-2.48zM43.34 101.36h2.48v2.26h-2.48zM57.05 101.36h2.48v2.26h-2.48zM59.79 101.36h2.48v2.26h-2.48zM131.05 101.36h2.48v2.26h-2.48zM142.01 101.36h2.48v2.26h-2.48zM62.53 103.87h2.48v2.26h-2.48zM89.94 103.87h2.48v2.26h-2.48zM125.57 103.87h2.48v2.26h-2.48zM35.12 106.37h2.48v2.26h-2.48zM68.01 106.37h2.48v2.26h-2.48zM76.23 106.37h2.48v2.26h-2.48zM114.60 106.37h2.48v2.26h-2.48zM125.57 106.37h2.48v2.26h-2.48zM133.79 106.37h2.48v2.26h-2.48zM161.20 106.37h2.48v2.26h-2.48zM106.38 108.87h2.48v2.26h-2.48zM147.49 108.87h2.48v2.26h-2.48zM155.71 108.87h2.48v2.26h-2.48zM166.68 108.87h2.48v2.26h-2.48zM40.60 111.37h2.48v2.26h-2.48zM70.75 111.37h2.48v2.26h-2.48zM120.09 111.37h2.48v2.26h-2.48zM51.57 113.87h2.48v2.26h-2.48zM103.64 113.87h2.48v2.26h-2.48zM163.94 113.87h2.48v2.26h-2.48zM89.94 116.38h2.48v2.26h-2.48zM100.90 116.38h2.48v2.26h-2.48zM133.79 116.38h2.48v2.26h-2.48zM136.53 116.38h2.48v2.26h-2.48zM142.01 116.38h2.48v2.26h-2.48zM144.75 116.38h2.48v2.26h-2.48zM155.71 116.38h2.48v2.26h-2.48zM169.42 116.38h2.48v2.26h-2.48zM32.38 118.88h2.48v2.26h-2.48zM35.12 121.38h2.48v2.26h-2.48zM37.86 121.38h2.48v2.26h-2.48zM62.53 121.38h2.48v2.26h-2.48zM114.60 121.38h2.48v2.26h-2.48zM136.53 121.38h2.48v2.26h-2.48zM139.27 121.38h2.48v2.26h-2.48zM142.01 121.38h2.48v2.26h-2.48zM144.75 121.38h2.48v2.26h-2.48zM59.79 123.88h2.48v2.26h-2.48zM78.97 123.88h2.48v2.26h-2.48zM98.16 123.88h2.48v2.26h-2.48zM100.90 123.88h2.48v2.26h-2.48zM131.05 123.88h2.48v2.26h-2.48zM133.79 123.88h2.48v2.26h-2.48zM136.53 123.88h2.48v2.26h-2.48zM142.01 123.88h2.48v2.26h-2.48zM155.71 123.88h2.48v2.26h-2.48zM40.60 126.38h2.48v2.26h-2.48zM46.09 126.38h2.48v2.26h-2.48zM48.83 126.38h2.48v2.26h-2.48zM59.79 126.38h2.48v2.26h-2.48zM87.20 126.38h2.48v2.26h-2.48zM128.31 126.38h2.48v2.26h-2.48zM144.75 126.38h2.48v2.26h-2.48zM29.64 128.89h2.48v2.26h-2.48zM37.86 128.89h2.48v2.26h-2.48zM48.83 128.89h2.48v2.26h-2.48zM54.31 128.89h2.48v2.26h-2.48zM92.68 128.89h2.48v2.26h-2.48zM103.64 128.89h2.48v2.26h-2.48zM106.38 128.89h2.48v2.26h-2.48zM122.83 128.89h2.48v2.26h-2.48zM161.20 128.89h2.48v2.26h-2.48zM40.60 131.39h2.48v2.26h-2.48zM73.49 131.39h2.48v2.26h-2.48zM128.31 131.39h2.48v2.26h-2.48zM152.97 131.39h2.48v2.26h-2.48zM40.60 133.89h2.48v2.26h-2.48zM54.31 133.89h2.48v2.26h-2.48zM73.49 133.89h2.48v2.26h-2.48zM95.42 133.89h2.48v2.26h-2.48zM150.23 133.89h2.48v2.26h-2.48zM40.60 136.39h2.48v2.26h-2.48zM92.68 136.39h2.48v2.26h-2.48zM98.16 136.39h2.48v2.26h-2.48zM106.38 136.39h2.48v2.26h-2.48zM158.46 136.39h2.48v2.26h-2.48zM65.27 138.89h2.48v2.26h-2.48zM92.68 138.89h2.48v2.26h-2.48zM111.86 138.89h2.48v2.26h-2.48zM172.16 138.89h2.48v2.26h-2.48zM125.57 141.40h2.48v2.26h-2.48zM142.01 141.40h2.48v2.26h-2.48zM158.46 141.40h2.48v2.26h-2.48zM166.68 141.40h2.48v2.26h-2.48zM172.16 141.40h2.48v2.26h-2.48zM54.31 143.90h2.48v2.26h-2.48zM65.27 143.90h2.48v2.26h-2.48zM73.49 143.90h2.48v2.26h-2.48zM114.60 143.90h2.48v2.26h-2.48zM155.71 143.90h2.48v2.26h-2.48zM163.94 143.90h2.48v2.26h-2.48z"/><path fill="#ccccf2" d="M73.49 26.30h2.48v2.26h-2.48zM68.01 28.81h2.48v2.26h-2.48zM29.64 31.31h2.48v2.26h-2.48zM48.83 31.31h2.48v2.26h-2.48zM73.49 31.31h2.48v2.26h-2.48zM122.83 31.31h2.48v2.26h-2.48zM147.49 31.31h2.48v2.26h-2.48zM152.97 31.31h2.48v2.26h-2.48zM158.46 31.31h2.48v2.26h-2.48zM81.71 33.81h2.48v2.26h-2.48zM147.49 36.31h2.48v2.26h-2.48zM37.86 38.81h2.48v2.26h-2.48zM43.34 38.81h2.48v2.26h-2.48zM161.20 41.32h2.48v2.26h-2.48zM59.79 43.82h2.48v2.26h-2.48zM62.53 43.82h2.48v2.26h-2.48zM65.27 43.82h2.48v2.26h-2.48zM131.05 43.82h2.48v2.26h-2.48zM144.75 43.82h2.48v2.26h-2.48zM150.23 43.82h2.48v2.26h-2.48zM81.71 46.32h2.48v2.26h-2.48zM92.68 46.32h2.48v2.26h-2.48zM142.01 46.32h2.48v2.26h-2.48zM152.97 46.32h2.48v2.26h-2.48zM155.71 46.32h2.48v2.26h-2.48zM188.17 46.32h2.39v2.26h-2.39zM26.90 48.82h2.48v2.26h-2.48zM70.75 48.82h2.48v2.26h-2.48zM81.71 48.82h2.48v2.26h-2.48zM150.23 48.82h2.48v2.26h-2.48zM172.16 48.82h2.48v2.26h-2.48zM98.16 51.32h2.48v2.26h-2.48zM35.12 53.83h2.48v2.26h-2.48zM40.60 53.83h2.48v2.26h-2.48zM166.68 53.83h2.48v2.26h-2.48zM35.12 56.33h2.48v2.26h-2.48zM40.60 56.33h2.48v2.26h-2.48zM46.09 56.33h2.48v2.26h-2.48zM117.34 56.33h2.48v2.26h-2.48zM57.05 58.83h2.48v2.26h-2.48zM98.16 58.83h2.48v2.26h-2.48zM37.86 61.33h2.48v2.26h-2.48zM46.09 61.33h2.48v2.26h-2.48zM57.05 61.33h2.48v2.26h-2.48zM81.71 61.33h2.48v2.26h-2.48zM103.64 61.33h2.48v2.26h-2.48zM147.49 61.33h2.48v2.26h-2.48zM169.42 61.33h2.48v2.26h-2.48zM172.16 61.33h2.48v2.26h-2.48zM26.90 63.83h2.48v2.26h-2.48zM32.38 63.83h2.48v2.26h-2.48zM62.53 63.83h2.48v2.26h-2.48zM65.27 63.83h2.48v2.26h-2.48zM68.01 63.83h2.48v2.26h-2.48zM81.71 63.83h2.48v2.26h-2.48zM128.31 63.83h2.48v2.26h-2.48zM155.71 63.83h2.48v2.26h-2.48zM169.42 63.83h2.48v2.26h-2.48zM188.17 63.83h2.39v2.26h-2.39zM190.82 63.83h2.39v2.26h-2.39zM196.13 63.83h2.39v2.26h-2.39zM51.57 66.34h2.48v2.26h-2.48zM59.79 66.34h2.48v2.26h-2.48zM87.20 66.34h2.48v2.26h-2.48zM177.55 66.34h2.39v2.26h-2.39zM180.21 66.34h2.39v2.26h-2.39zM204.09 66.34h2.39v2.26h-2.39zM26.90 68.84h2.48v2.26h-2.48zM51.57 68.84h2.48v2.26h-2.48zM65.27 68.84h2.48v2.26h-2.48zM68.01 68.84h2.48v2.26h-2.48zM73.49 68.84h2.48v2.26h-2.48zM84.46 68.84h2.48v2.26h-2.48zM98.16 68.84h2.48v2.26h-2.48zM100.90 68.84h2.48v2.26h-2.48zM120.09 68.84h2.48v2.26h-2.48zM125.57 68.84h2.48v2.26h-2.48zM133.79 68.84h2.48v2.26h-2.48zM147.49 68.84h2.48v2.26h-2.48zM155.71 68.84h2.48v2.26h-2.48zM166.68 68.84h2.48v2.26h-2.48zM196.13 68.84h2.39v2.26h-2.39zM65.27 71.34h2.48v2.26h-2.48zM92.68 71.34h2.48v2.26h-2.48zM114.60 71.34h2.48v2.26h-2.48zM32.38 73.84h2.48v2.26h-2.48zM46.09 73.84h2.48v2.26h-2.48zM48.83 73.84h2.48v2.26h-2.48zM78.97 73.84h2.48v2.26h-2.48zM87.20 73.84h2.48v2.26h-2.48zM109.12 73.84h2.48v2.26h-2.48zM136.53 73.84h2.48v2.26h-2.48zM166.68 73.84h2.48v2.26h-2.48zM174.90 73.84h2.39v2.26h-2.39zM193.47 73.84h2.39v2.26h-2.39zM81.71 76.34h2.48v2.26h-2.48zM128.31 76.34h2.48v2.26h-2.48zM92.68 78.85h2.48v2.26h-2.48zM103.64 78.85h2.48v2.26h-2.48zM111.86 78.85h2.48v2.26h-2.48zM122.83 78.85h2.48v2.26h-2.48zM125.57 78.85h2.48v2.26h-2.48zM136.53 78.85h2.48v2.26h-2.48zM150.23 78.85h2.48v2.26h-2.48zM177.55 78.85h2.39v2.26h-2.39zM180.21 78.85h2.39v2.26h-2.39zM182.86 78.85h2.39v2.26h-2.39zM131.05 81.35h2.48v2.26h-2.48zM128.31 83.85h2.48v2.26h-2.48zM144.75 83.85h2.48v2.26h-2.48zM147.49 83.85h2.48v2.26h-2.48zM155.71 83.85h2.48v2.26h-2.48zM161.20 83.85h2.48v2.26h-2.48zM198.78 83.85h2.39v2.26h-2.39zM48.83 86.35h2.48v2.26h-2.48zM51.57 86.35h2.48v2.26h-2.48zM57.05 86.35h2.48v2.26h-2.48zM87.20 86.35h2.48v2.26h-2.48zM117.34 86.35h2.48v2.26h-2.48zM120.09 86.35h2.48v2.26h-2.48zM122.83 86.35h2.48v2.26h-2.48zM111.86 88.85h2.48v2.26h-2.48zM155.71 88.85h2.48v2.26h-2.48zM73.49 91.36h2.48v2.26h-2.48zM109.12 91.36h2.48v2.26h-2.48zM120.09 91.36h2.48v2.26h-2.48zM142.01 91.36h2.48v2.26h-2.48zM144.75 91.36h2.48v2.26h-2.48zM155.71 91.36h2.48v2.26h-2.48zM166.68 91.36h2.48v2.26h-2.48zM174.90 91.36h2.39v2.26h-2.39zM177.55 91.36h2.39v2.26h-2.39zM32.38 93.86h2.48v2.26h-2.48zM43.34 93.86h2.48v2.26h-2.48zM51.57 93.86h2.48v2.26h-2.48zM73.49 93.86h2.48v2.26h-2.48zM78.97 93.86h2.48v2.26h-2.48zM84.46 93.86h2.48v2.26h-2.48zM161.20 93.86h2.48v2.26h-2.48zM37.86 96.36h2.48v2.26h-2.48zM40.60 96.36h2.48v2.26h-2.48zM46.09 96.36h2.48v2.26h-2.48zM65.27 96.36h2.48v2.26h-2.48zM169.42 96.36h2.48v2.26h-2.48zM87.20 98.86h2.48v2.26h-2.48zM198.78 98.86h2.39v2.26h-2.39zM32.38 101.36h2.48v2.26h-2.48zM125.57 101.36h2.48v2.26h-2.48zM144.75 101.36h2.48v2.26h-2.48zM172.16 101.36h2.48v2.26h-2.48zM196.13 101.36h2.39v2.26h-2.39zM204.09 101.36h2.39v2.26h-2.39zM117.34 103.87h2.48v2.26h-2.48zM128.31 103.87h2.48v2.26h-2.48zM163.94 103.87h2.48v2.26h-2.48zM172.16 103.87h2.48v2.26h-2.48zM174.90 103.87h2.39v2.26h-2.39zM204.09 103.87h2.39v2.26h-2.39zM59.79 106.37h2.48v2.26h-2.48zM65.27 106.37h2.48v2.26h-2.48zM70.75 106.37h2.48v2.26h-2.48zM81.71 106.37h2.48v2.26h-2.48zM147.49 106.37h2.48v2.26h-2.48zM174.90 106.37h2.39v2.26h-2.39zM206.74 106.37h2.39v2.26h-2.39zM78.97 108.87h2.48v2.26h-2.48zM139.27 108.87h2.48v2.26h-2.48zM161.20 108.87h2.48v2.26h-2.48zM182.86 108.87h2.39v2.26h-2.39zM198.78 108.87h2.39v2.26h-2.39zM201.43 108.87h2.39v2.26h-2.39zM204.09 108.87h2.39v2.26h-2.39zM206.74 108.87h2.39v2.26h-2.39zM32.38 111.37h2.48v2.26h-2.48zM35.12 111.37h2.48v2.26h-2.48zM37.86 111.37h2.48v2.26h-2.48zM57.05 111.37h2.48v2.26h-2.48zM114.60 111.37h2.48v2.26h-2.48zM131.05 111.37h2.48v2.26h-2.48zM136.53 111.37h2.48v2.26h-2.48zM166.68 111.37h2.48v2.26h-2.48zM172.16 111.37h2.48v2.26h-2.48zM29.64 113.87h2.48v2.26h-2.48zM37.86 113.87h2.48v2.26h-2.48zM78.97 113.87h2.48v2.26h-2.48zM89.94 113.87h2.48v2.26h-2.48zM114.60 113.87h2.48v2.26h-2.48zM139.27 113.87h2.48v2.26h-2.48zM166.68 113.87h2.48v2.26h-2.48zM169.42 113.87h2.48v2.26h-2.48zM174.90 113.87h2.39v2.26h-2.39zM182.86 113.87h2.39v2.26h-2.39zM196.13 113.87h2.39v2.26h-2.39zM40.60 116.38h2.48v2.26h-2.48zM51.57 116.38h2.48v2.26h-2.48zM59.79 116.38h2.48v2.26h-2.48zM73.49 116.38h2.48v2.26h-2.48zM106.38 116.38h2.48v2.26h-2.48zM114.60 116.38h2.48v2.26h-2.48zM122.83 116.38h2.48v2.26h-2.48zM131.05 116.38h2.48v2.26h-2.48zM147.49 116.38h2.48v2.26h-2.48zM152.97 116.38h2.48v2.26h-2.48zM163.94 116.38h2.48v2.26h-2.48zM177.55 116.38h2.39v2.26h-2.39zM204.09 116.38h2.39v2.26h-2.39zM46.09 118.88h2.48v2.26h-2.48zM150.23 118.88h2.48v2.26h-2.48zM166.68 118.88h2.48v2.26h-2.48zM177.55 118.88h2.39v2.26h-2.39zM182.86 118.88h2.39v2.26h-2.39zM204.09 118.88h2.39v2.26h-2.39zM32.38 121.38h2.48v2.26h-2.48zM43.34 121.38h2.48v2.26h-2.48zM59.79 121.38h2.48v2.26h-2.48zM65.27 121.38h2.48v2.26h-2.48zM131.05 121.38h2.48v2.26h-2.48zM158.46 121.38h2.48v2.26h-2.48zM161.20 121.38h2.48v2.26h-2.48zM163.94 121.38h2.48v2.26h-2.48zM169.42 121.38h2.48v2.26h-2.48zM174.90 121.38h2.39v2.26h-2.39zM182.86 121.38h2.39v2.26h-2.39zM204.09 121.38h2.39v2.26h-2.39zM92.68 123.88h2.48v2.26h-2.48zM103.64 123.88h2.48v2.26h-2.48zM111.86 123.88h2.48v2.26h-2.48zM147.49 123.88h2.48v2.26h-2.48zM188.17 123.88h2.39v2.26h-2.39zM201.43 123.88h2.39v2.26h-2.39zM26.90 126.38h2.48v2.26h-2.48zM43.34 126.38h2.48v2.26h-2.48zM54.31 126.38h2.48v2.26h-2.48zM57.05 126.38h2.48v2.26h-2.48zM84.46 126.38h2.48v2.26h-2.48zM100.90 126.38h2.48v2.26h-2.48zM125.57 126.38h2.48v2.26h-2.48zM190.82 126.38h2.39v2.26h-2.39zM212.05 126.38h2.39v2.26h-2.39zM51.57 128.89h2.48v2.26h-2.48zM73.49 128.89h2.48v2.26h-2.48zM78.97 128.89h2.48v2.26h-2.48zM152.97 128.89h2.48v2.26h-2.48zM169.42 128.89h2.48v2.26h-2.48zM172.16 128.89h2.48v2.26h-2.48zM188.17 128.89h2.39v2.26h-2.39zM190.82 128.89h2.39v2.26h-2.39zM201.43 128.89h2.39v2.26h-2.39zM37.86 131.39h2.48v2.26h-2.48zM59.79 131.39h2.48v2.26h-2.48zM76.23 131.39h2.48v2.26h-2.48zM78.97 131.39h2.48v2.26h-2.48zM87.20 131.39h2.48v2.26h-2.48zM106.38 131.39h2.48v2.26h-2.48zM109.12 131.39h2.48v2.26h-2.48zM147.49 131.39h2.48v2.26h-2.48zM161.20 131.39h2.48v2.26h-2.48zM201.43 131.39h2.39v2.26h-2.39zM37.86 133.89h2.48v2.26h-2.48zM43.34 133.89h2.48v2.26h-2.48zM46.09 133.89h2.48v2.26h-2.48zM81.71 133.89h2.48v2.26h-2.48zM147.49 133.89h2.48v2.26h-2.48zM158.46 133.89h2.48v2.26h-2.48zM172.16 133.89h2.48v2.26h-2.48zM204.09 133.89h2.39v2.26h-2.39zM37.86 136.39h2.48v2.26h-2.48zM57.05 136.39h2.48v2.26h-2.48zM125.57 136.39h2.48v2.26h-2.48zM128.31 136.39h2.48v2.26h-2.48zM166.68 136.39h2.48v2.26h-2.48zM182.86 136.39h2.39v2.26h-2.39zM37.86 138.89h2.48v2.26h-2.48zM48.83 138.89h2.48v2.26h-2.48zM57.05 138.89h2.48v2.26h-2.48zM81.71 138.89h2.48v2.26h-2.48zM106.38 138.89h2.48v2.26h-2.48zM109.12 138.89h2.48v2.26h-2.48zM117.34 138.89h2.48v2.26h-2.48zM144.75 138.89h2.48v2.26h-2.48zM177.55 138.89h2.39v2.26h-2.39zM40.60 141.40h2.48v2.26h-2.48zM65.27 141.40h2.48v2.26h-2.48zM78.97 141.40h2.48v2.26h-2.48zM109.12 141.40h2.48v2.26h-2.48zM128.31 141.40h2.48v2.26h-2.48zM131.05 141.40h2.48v2.26h-2.48zM144.75 141.40h2.48v2.26h-2.48zM147.49 141.40h2.48v2.26h-2.48zM155.71 141.40h2.48v2.26h-2.48zM204.09 141.40h2.39v2.26h-2.39zM35.12 143.90h2.48v2.26h-2.48zM40.60 143.90h2.48v2.26h-2.48zM48.83 143.90h2.48v2.26h-2.48zM68.01 143.90h2.48v2.26h-2.48zM92.68 143.90h2.48v2.26h-2.48zM161.20 143.90h2.48v2.26h-2.48zM166.68 143.90h2.48v2.26h-2.48zM172.16 143.90h2.48v2.26h-2.48zM190.82 143.90h2.39v2.26h-2.39zM51.57 146.40h2.48v2.26h-2.48zM54.31 146.40h2.48v2.26h-2.48zM73.49 146.40h2.48v2.26h-2.48zM92.68 146.40h2.48v2.26h-2.48zM125.57 146.40h2.48v2.26h-2.48zM139.27 146.40h2.48v2.26h-2.48zM150.23 146.40h2.48v2.26h-2.48zM46.09 148.90h2.48v2.26h-2.48zM57.05 148.90h2.48v2.26h-2.48zM59.79 148.90h2.48v2.26h-2.48zM158.46 148.90h2.48v2.26h-2.48zM166.68 148.90h2.48v2.26h-2.48zM32.38 151.40h2.48v2.26h-2.48zM43.34 151.40h2.48v2.26h-2.48zM54.31 151.40h2.48v2.26h-2.48zM65.27 151.40h2.48v2.26h-2.48zM114.60 151.40h2.48v2.26h-2.48zM169.42 151.40h2.48v2.26h-2.48zM73.49 153.91h2.48v2.26h-2.48zM81.71 153.91h2.48v2.26h-2.48zM40.60 156.41h2.48v2.26h-2.48zM43.34 156.41h2.48v2.26h-2.48zM48.83 156.41h2.48v2.26h-2.48zM54.31 156.41h2.48v2.26h-2.48zM109.12 156.41h2.48v2.26h-2.48zM136.53 156.41h2.48v2.26h-2.48zM163.94 156.41h2.48v2.26h-2.48zM26.90 158.91h2.48v2.26h-2.48zM29.64 158.91h2.48v2.26h-2.48zM40.60 158.91h2.48v2.26h-2.48zM48.83 158.91h2.48v2.26h-2.48zM57.05 158.91h2.48v2.26h-2.48zM59.79 158.91h2.48v2.26h-2.48zM62.53 158.91h2.48v2.26h-2.48zM73.49 158.91h2.48v2.26h-2.48zM87.20 158.91h2.48v2.26h-2.48zM95.42 158.91h2.48v2.26h-2.48zM111.86 158.91h2.48v2.26h-2.48zM131.05 158.91h2.48v2.26h-2.48zM169.42 158.91h2.48v2.26h-2.48zM37.86 161.41h2.48v2.26h-2.48zM70.75 161.41h2.48v2.26h-2.48zM136.53 161.41h2.48v2.26h-2.48zM139.27 161.41h2.48v2.26h-2.48zM26.90 163.91h2.48v2.26h-2.48zM29.64 163.91h2.48v2.26h-2.48zM68.01 163.91h2.48v2.26h-2.48zM73.49 163.91h2.48v2.26h-2.48zM100.90 163.91h2.48v2.26h-2.48zM103.64 163.91h2.48v2.26h-2.48zM111.86 163.91h2.48v2.26h-2.48zM114.60 163.91h2.48v2.26h-2.48zM117.34 163.91h2.48v2.26h-2.48zM125.57 163.91h2.48v2.26h-2.48zM152.97 163.91h2.48v2.26h-2.48zM51.57 166.42h2.48v2.26h-2.48zM70.75 166.42h2.48v2.26h-2.48zM73.49 166.42h2.48v2.26h-2.48zM84.46 166.42h2.48v2.26h-2.48zM87.20 166.42h2.48v2.26h-2.48zM92.68 166.42h2.48v2.26h-2.48zM122.83 166.42h2.48v2.26h-2.48zM147.49 166.42h2.48v2.26h-2.48zM32.38 168.92h2.48v2.26h-2.48zM48.83 168.92h2.48v2.26h-2.48zM95.42 168.92h2.48v2.26h-2.48zM125.57 168.92h2.48v2.26h-2.48zM152.97 168.92h2.48v2.26h-2.48zM166.68 168.92h2.48v2.26h-2.48zM57.05 171.42h2.48v2.26h-2.48zM68.01 171.42h2.48v2.26h-2.48zM89.94 171.42h2.48v2.26h-2.48zM106.38 171.42h2.48v2.26h-2.48zM131.05 171.42h2.48v2.26h-2.48zM142.01 171.42h2.48v2.26h-2.48zM29.64 173.92h2.48v2.26h-2.48zM48.83 173.92h2.48v2.26h-2.48zM54.31 173.92h2.48v2.26h-2.48zM57.05 173.92h2.48v2.26h-2.48zM111.86 173.92h2.48v2.26h-2.48zM136.53 173.92h2.48v2.26h-2.48zM152.97 173.92h2.48v2.26h-2.48zM158.46 173.92h2.48v2.26h-2.48zM166.68 173.92h2.48v2.26h-2.48zM62.53 176.42h2.48v2.26h-2.48zM84.46 176.42h2.48v2.26h-2.48zM89.94 176.42h2.48v2.26h-2.48zM139.27 176.42h2.48v2.26h-2.48zM158.46 176.42h2.48v2.26h-2.48zM161.20 176.42h2.48v2.26h-2.48zM40.60 178.93h2.48v2.26h-2.48zM51.57 178.93h2.48v2.26h-2.48zM87.20 178.93h2.48v2.26h-2.48zM98.16 178.93h2.48v2.26h-2.48zM144.75 178.93h2.48v2.26h-2.48zM150.23 178.93h2.48v2.26h-2.48zM158.46 178.93h2.48v2.26h-2.48zM166.68 178.93h2.48v2.26h-2.48zM62.53 181.43h2.48v2.26h-2.48zM76.23 181.43h2.48v2.26h-2.48zM92.68 181.43h2.48v2.26h-2.48zM95.42 181.43h2.48v2.26h-2.48zM142.01 183.93h2.48v2.26h-2.48zM158.46 183.93h2.48v2.26h-2.48zM46.09 186.43h2.48v2.26h-2.48zM59.79 186.43h2.48v2.26h-2.48zM62.53 186.43h2.48v2.26h-2.48zM73.49 186.43h2.48v2.26h-2.48zM84.46 186.43h2.48v2.26h-2.48zM103.64 186.43h2.48v2.26h-2.48zM131.05 186.43h2.48v2.26h-2.48zM147.49 186.43h2.48v2.26h-2.48zM158.46 186.43h2.48v2.26h-2.48zM89.94 188.93h2.48v2.26h-2.48zM128.31 188.93h2.48v2.26h-2.48zM136.53 188.93h2.48v2.26h-2.48zM144.75 188.93h2.48v2.26h-2.48zM147.49 188.93h2.48v2.26h-2.48zM161.20 188.93h2.48v2.26h-2.48zM73.49 191.44h2.48v2.26h-2.48zM78.97 191.44h2.48v2.26h-2.48zM100.90 191.44h2.48v2.26h-2.48zM106.38 191.44h2.48v2.26h-2.48zM133.79 191.44h2.48v2.26h-2.48zM161.20 191.44h2.48v2.26h-2.48zM51.57 193.94h2.48v2.26h-2.48zM68.01 193.94h2.48v2.26h-2.48zM103.64 193.94h2.48v2.26h-2.48zM111.86 193.94h2.48v2.26h-2.48zM139.27 193.94h2.48v2.26h-2.48zM152.97 193.94h2.48v2.26h-2.48zM29.64 196.44h2.48v2.26h-2.48zM35.12 196.44h2.48v2.26h-2.48zM70.75 196.44h2.48v2.26h-2.48zM122.83 196.44h2.48v2.26h-2.48zM136.53 196.44h2.48v2.26h-2.48zM155.71 196.44h2.48v2.26h-2.48zM161.20 196.44h2.48v2.26h-2.48zM169.42 196.44h2.48v2.26h-2.48zM172.16 196.44h2.48v2.26h-2.48zM29.64 198.94h2.48v2.26h-2.48zM68.01 198.94h2.48v2.26h-2.48zM70.75 198.94h2.48v2.26h-2.48zM103.64 198.94h2.48v2.26h-2.48zM106.38 198.94h2.48v2.26h-2.48zM131.05 198.94h2.48v2.26h-2.48zM142.01 198.94h2.48v2.26h-2.48zM166.68 198.94h2.48v2.26h-2.48zM76.23 201.44h2.48v2.26h-2.48zM122.83 201.44h2.48v2.26h-2.48zM125.57 201.44h2.48v2.26h-2.48zM158.46 201.44h2.48v2.26h-2.48zM59.79 203.95h2.48v2.26h-2.48zM62.53 203.95h2.48v2.26h-2.48zM76.23 203.95h2.48v2.26h-2.48zM89.94 203.95h2.48v2.26h-2.48zM95.42 203.95h2.48v2.26h-2.48zM111.86 203.95h2.48v2.26h-2.48zM29.64 206.45h2.48v2.26h-2.48zM70.75 206.45h2.48v2.26h-2.48zM95.42 206.45h2.48v2.26h-2.48zM120.09 206.45h2.48v2.26h-2.48zM125.57 206.45h2.48v2.26h-2.48zM128.31 206.45h2.48v2.26h-2.48zM133.79 206.45h2.48v2.26h-2.48zM139.27 206.45h2.48v2.26h-2.48zM144.75 206.45h2.48v2.26h-2.48zM147.49 206.45h2.48v2.26h-2.48zM150.23 206.45h2.48v2.26h-2.48zM152.97 206.45h2.48v2.26h-2.48zM161.20 206.45h2.48v2.26h-2.48zM166.68 206.45h2.48v2.26h-2.48zM169.42 206.45h2.48v2.26h-2.48zM35.12 208.95h2.48v2.26h-2.48zM92.68 208.95h2.48v2.26h-2.48zM133.79 208.95h2.48v2.26h-2.48zM29.64 211.45h2.48v2.26h-2.48zM32.38 211.45h2.48v2.26h-2.48zM120.09 211.45h2.48v2.26h-2.48zM142.01 211.45h2.48v2.26h-2.48zM163.94 211.45h2.48v2.26h-2.48zM169.42 211.45h2.48v2.26h-2.48zM37.86 213.95h2.48v2.26h-2.48zM48.83 213.95h2.48v2.26h-2.48zM54.31 213.95h2.48v2.26h-2.48zM114.60 213.95h2.48v2.26h-2.48zM122.83 213.95h2.48v2.26h-2.48zM142.01 213.95h2.48v2.26h-2.48zM158.46 213.95h2.48v2.26h-2.48zM163.94 213.95h2.48v2.26h-2.48zM172.16 213.95h2.48v2.26h-2.48zM43.34 216.46h2.48v2.26h-2.48zM103.64 216.46h2.48v2.26h-2.48zM125.57 216.46h2.48v2.26h-2.48zM142.01 216.46h2.48v2.26h-2.48zM57.05 218.96h2.48v2.26h-2.48zM65.27 218.96h2.48v2.26h-2.48zM81.71 218.96h2.48v2.26h-2.48zM103.64 218.96h2.48v2.26h-2.48zM114.60 218.96h2.48v2.26h-2.48zM128.31 218.96h2.48v2.26h-2.48zM144.75 218.96h2.48v2.26h-2.48zM26.90 221.46h2.48v2.26h-2.48zM40.60 221.46h2.48v2.26h-2.48zM111.86 221.46h2.48v2.26h-2.48zM114.60 221.46h2.48v2.26h-2.48zM128.31 221.46h2.48v2.26h-2.48zM147.49 221.46h2.48v2.26h-2.48zM166.68 221.46h2.48v2.26h-2.48zM29.64 223.96h2.48v2.26h-2.48zM32.38 223.96h2.48v2.26h-2.48zM46.09 223.96h2.48v2.26h-2.48zM51.57 223.96h2.48v2.26h-2.48zM54.31 223.96h2.48v2.26h-2.48zM62.53 223.96h2.48v2.26h-2.48zM81.71 223.96h2.48v2.26h-2.48zM103.64 223.96h2.48v2.26h-2.48zM111.86 223.96h2.48v2.26h-2.48zM136.53 223.96h2.48v2.26h-2.48zM26.90 226.46h2.48v2.26h-2.48zM43.34 226.46h2.48v2.26h-2.48zM111.86 226.46h2.48v2.26h-2.48zM120.09 226.46h2.48v2.26h-2.48zM125.57 226.46h2.48v2.26h-2.48zM133.79 226.46h2.48v2.26h-2.48zM139.27 226.46h2.48v2.26h-2.48zM46.09 228.97h2.48v2.26h-2.48zM48.83 228.97h2.48v2.26h-2.48zM51.57 228.97h2.48v2.26h-2.48zM98.16 228.97h2.48v2.26h-2.48zM111.86 228.97h2.48v2.26h-2.48zM117.34 228.97h2.48v2.26h-2.48zM152.97 228.97h2.48v2.26h-2.48zM57.05 231.47h2.48v2.26h-2.48zM65.27 231.47h2.48v2.26h-2.48zM100.90 231.47h2.48v2.26h-2.48zM106.38 231.47h2.48v2.26h-2.48zM125.57 231.47h2.48v2.26h-2.48zM139.27 231.47h2.48v2.26h-2.48zM150.23 231.47h2.48v2.26h-2.48zM152.97 231.47h2.48v2.26h-2.48zM158.46 231.47h2.48v2.26h-2.48zM163.94 231.47h2.48v2.26h-2.48zM78.97 233.97h2.48v2.26h-2.48zM81.71 233.97h2.48v2.26h-2.48zM133.79 233.97h2.48v2.26h-2.48zM29.64 236.47h2.48v2.26h-2.48zM84.46 236.47h2.48v2.26h-2.48zM117.34 236.47h2.48v2.26h-2.48zM125.57 236.47h2.48v2.26h-2.48zM128.31 236.47h2.48v2.26h-2.48zM133.79 236.47h2.48v2.26h-2.48zM139.27 236.47h2.48v2.26h-2.48zM163.94 236.47h2.48v2.26h-2.48zM26.90 238.97h2.48v2.26h-2.48zM37.86 238.97h2.48v2.26h-2.48zM43.34 238.97h2.48v2.26h-2.48zM62.53 238.97h2.48v2.26h-2.48zM84.46 238.97h2.48v2.26h-2.48zM125.57 238.97h2.48v2.26h-2.48zM131.05 238.97h2.48v2.26h-2.48zM172.16 238.97h2.48v2.26h-2.48zM29.64 241.48h2.48v2.26h-2.48zM35.12 241.48h2.48v2.26h-2.48zM54.31 241.48h2.48v2.26h-2.48zM62.53 241.48h2.48v2.26h-2.48zM65.27 241.48h2.48v2.26h-2.48zM68.01 241.48h2.48v2.26h-2.48zM89.94 241.48h2.48v2.26h-2.48zM92.68 241.48h2.48v2.26h-2.48zM103.64 241.48h2.48v2.26h-2.48zM125.57 241.48h2.48v2.26h-2.48zM152.97 241.48h2.48v2.26h-2.48zM166.68 241.48h2.48v2.26h-2.48zM169.42 241.48h2.48v2.26h-2.48zM35.12 243.98h2.48v2.26h-2.48zM51.57 243.98h2.48v2.26h-2.48zM59.79 243.98h2.48v2.26h-2.48zM62.53 243.98h2.48v2.26h-2.48zM68.01 243.98h2.48v2.26h-2.48zM78.97 243.98h2.48v2.26h-2.48zM92.68 243.98h2.48v2.26h-2.48zM111.86 243.98h2.48v2.26h-2.48zM133.79 243.98h2.48v2.26h-2.48zM144.75 243.98h2.48v2.26h-2.48zM158.46 243.98h2.48v2.26h-2.48zM32.38 246.48h2.48v2.26h-2.48zM87.20 246.48h2.48v2.26h-2.48zM117.34 246.48h2.48v2.26h-2.48zM120.09 246.48h2.48v2.26h-2.48zM172.16 246.48h2.48v2.26h-2.48zM57.05 248.98h2.48v2.26h-2.48zM68.01 248.98h2.48v2.26h-2.48zM87.20 248.98h2.48v2.26h-2.48zM95.42 248.98h2.48v2.26h-2.48zM106.38 248.98h2.48v2.26h-2.48zM144.75 248.98h2.48v2.26h-2.48zM163.94 248.98h2.48v2.26h-2.48zM57.05 251.48h2.48v2.26h-2.48zM128.31 251.48h2.48v2.26h-2.48zM133.79 251.48h2.48v2.26h-2.48zM136.53 251.48h2.48v2.26h-2.48zM147.49 251.48h2.48v2.26h-2.48zM155.71 251.48h2.48v2.26h-2.48zM161.20 251.48h2.48v2.26h-2.48zM166.68 251.48h2.48v2.26h-2.48zM51.57 253.99h2.48v2.26h-2.48zM84.46 253.99h2.48v2.26h-2.48zM98.16 253.99h2.48v2.26h-2.48zM114.60 253.99h2.48v2.26h-2.48zM133.79 253.99h2.48v2.26h-2.48zM169.42 253.99h2.48v2.26h-2.48zM37.86 256.49h2.48v2.26h-2.48zM40.60 256.49h2.48v2.26h-2.48zM59.79 256.49h2.48v2.26h-2.48zM76.23 256.49h2.48v2.26h-2.48zM78.97 256.49h2.48v2.26h-2.48zM120.09 256.49h2.48v2.26h-2.48zM144.75 256.49h2.48v2.26h-2.48zM150.23 256.49h2.48v2.26h-2.48zM40.60 258.99h2.48v2.26h-2.48zM59.79 258.99h2.48v2.26h-2.48zM92.68 258.99h2.48v2.26h-2.48zM117.34 258.99h2.48v2.26h-2.48zM125.57 258.99h2.48v2.26h-2.48zM147.49 258.99h2.48v2.26h-2.48zM29.64 261.49h2.48v2.26h-2.48zM32.38 261.49h2.48v2.26h-2.48zM48.83 261.49h2.48v2.26h-2.48zM73.49 261.49h2.48v2.26h-2.48zM106.38 261.49h2.48v2.26h-2.48zM142.01 261.49h2.48v2.26h-2.48zM150.23 261.49h2.48v2.26h-2.48zM158.46 261.49h2.48v2.26h-2.48zM26.90 263.99h2.48v2.26h-2.48zM161.20 263.99h2.48v2.26h-2.48zM46.09 266.50h2.48v2.26h-2.48zM76.23 266.50h2.48v2.26h-2.48zM78.97 266.50h2.48v2.26h-2.48zM81.71 266.50h2.48v2.26h-2.48zM128.31 266.50h2.48v2.26h-2.48zM142.01 266.50h2.48v2.26h-2.48zM26.90 269.00h2.48v2.26h-2.48zM29.64 269.00h2.48v2.26h-2.48zM51.57 269.00h2.48v2.26h-2.48zM76.23 269.00h2.48v2.26h-2.48zM84.46 269.00h2.48v2.26h-2.48zM98.16 269.00h2.48v2.26h-2.48zM109.12 269.00h2.48v2.26h-2.48zM131.05 269.00h2.48v2.26h-2.48zM161.20 269.00h2.48v2.26h-2.48z"/><path fill="#9898ee" d="M51.57 28.81h2.48v2.26h-2.48zM54.31 28.81h2.48v2.26h-2.48zM106.38 31.31h2.48v2.26h-2.48zM59.79 41.32h2.48v2.26h-2.48zM48.83 43.82h2.48v2.26h-2.48zM35.12 46.32h2.48v2.26h-2.48zM43.34 51.32h2.48v2.26h-2.48zM46.09 51.32h2.48v2.26h-2.48zM92.68 51.32h2.48v2.26h-2.48zM95.42 51.32h2.48v2.26h-2.48zM37.86 53.83h2.48v2.26h-2.48zM109.12 56.33h2.48v2.26h-2.48zM111.86 56.33h2.48v2.26h-2.48zM37.86 58.83h2.48v2.26h-2.48zM95.42 58.83h2.48v2.26h-2.48zM142.01 58.83h2.48v2.26h-2.48zM100.90 61.33h2.48v2.26h-2.48zM95.42 63.83h2.48v2.26h-2.48zM98.16 63.83h2.48v2.26h-2.48zM32.38 66.34h2.48v2.26h-2.48zM78.97 66.34h2.48v2.26h-2.48zM70.75 68.84h2.48v2.26h-2.48zM147.49 71.34h2.48v2.26h-2.48zM62.53 73.84h2.48v2.26h-2.48zM131.05 73.84h2.48v2.26h-2.48zM169.42 73.84h2.48v2.26h-2.48zM78.97 76.34h2.48v2.26h-2.48zM48.83 78.85h2.48v2.26h-2.48zM43.34 83.85h2.48v2.26h-2.48zM111.86 83.85h2.48v2.26h-2.48zM59.79 86.35h2.48v2.26h-2.48zM62.53 86.35h2.48v2.26h-2.48zM65.27 86.35h2.48v2.26h-2.48zM89.94 86.35h2.48v2.26h-2.48zM128.31 86.35h2.48v2.26h-2.48zM139.27 86.35h2.48v2.26h-2.48zM150.23 86.35h2.48v2.26h-2.48zM26.90 88.85h2.48v2.26h-2.48zM100.90 91.36h2.48v2.26h-2.48zM48.83 93.86h2.48v2.26h-2.48zM87.20 93.86h2.48v2.26h-2.48zM122.83 93.86h2.48v2.26h-2.48zM136.53 93.86h2.48v2.26h-2.48zM114.60 98.86h2.48v2.26h-2.48zM40.60 101.36h2.48v2.26h-2.48zM136.53 101.36h2.48v2.26h-2.48zM32.38 103.87h2.48v2.26h-2.48zM37.86 103.87h2.48v2.26h-2.48zM109.12 108.87h2.48v2.26h-2.48zM144.75 108.87h2.48v2.26h-2.48zM144.75 111.37h2.48v2.26h-2.48zM163.94 111.37h2.48v2.26h-2.48zM76.23 113.87h2.48v2.26h-2.48zM92.68 113.87h2.48v2.26h-2.48zM152.97 113.87h2.48v2.26h-2.48zM161.20 113.87h2.48v2.26h-2.48zM139.27 116.38h2.48v2.26h-2.48zM48.83 118.88h2.48v2.26h-2.48zM161.20 118.88h2.48v2.26h-2.48zM163.94 118.88h2.48v2.26h-2.48zM68.01 121.38h2.48v2.26h-2.48zM46.09 123.88h2.48v2.26h-2.48zM62.53 123.88h2.48v2.26h-2.48zM114.60 123.88h2.48v2.26h-2.48zM152.97 123.88h2.48v2.26h-2.48zM37.86 126.38h2.48v2.26h-2.48zM32.38 128.89h2.48v2.26h-2.48zM136.53 128.89h2.48v2.26h-2.48zM169.42 131.39h2.48v2.26h-2.48zM155.71 133.89h2.48v2.26h-2.48zM54.31 136.39h2.48v2.26h-2.48zM59.79 136.39h2.48v2.26h-2.48zM133.79 136.39h2.48v2.26h-2.48zM144.75 136.39h2.48v2.26h-2.48zM54.31 138.89h2.48v2.26h-2.48zM142.01 138.89h2.48v2.26h-2.48zM150.23 138.89h2.48v2.26h-2.48zM54.31 141.40h2.48v2.26h-2.48zM57.05 141.40h2.48v2.26h-2.48zM62.53 141.40h2.48v2.26h-2.48zM139.27 141.40h2.48v2.26h-2.48zM89.94 143.90h2.48v2.26h-2.48z"/><path fill="#5e5ae6" d="M190.82 28.81h2.39v2.26h-2.39zM177.55 33.81h2.39v2.26h-2.39zM190.82 33.81h2.39v2.26h-2.39zM193.47 38.81h2.39v2.26h-2.39zM201.43 38.81h2.39v2.26h-2.39zM182.86 41.32h2.39v2.26h-2.39zM212.05 41.32h2.39v2.26h-2.39zM182.86 43.82h2.39v2.26h-2.39zM182.86 46.32h2.39v2.26h-2.39zM190.82 46.32h2.39v2.26h-2.39zM182.86 48.82h2.39v2.26h-2.39zM185.51 48.82h2.39v2.26h-2.39zM188.17 51.32h2.39v2.26h-2.39zM177.55 53.83h2.39v2.26h-2.39zM185.51 53.83h2.39v2.26h-2.39zM190.82 53.83h2.39v2.26h-2.39zM201.43 53.83h2.39v2.26h-2.39zM182.86 56.33h2.39v2.26h-2.39zM193.47 56.33h2.39v2.26h-2.39zM196.13 56.33h2.39v2.26h-2.39zM201.43 56.33h2.39v2.26h-2.39zM177.55 58.83h2.39v2.26h-2.39zM174.90 61.33h2.39v2.26h-2.39zM201.43 63.83h2.39v2.26h-2.39zM180.21 68.84h2.39v2.26h-2.39zM209.39 68.84h2.39v2.26h-2.39zM177.55 71.34h2.39v2.26h-2.39zM180.21 71.34h2.39v2.26h-2.39zM185.51 71.34h2.39v2.26h-2.39zM198.78 71.34h2.39v2.26h-2.39zM180.21 73.84h2.39v2.26h-2.39zM188.17 73.84h2.39v2.26h-2.39zM190.82 73.84h2.39v2.26h-2.39zM182.86 76.34h2.39v2.26h-2.39zM209.39 78.85h2.39v2.26h-2.39zM180.21 81.35h2.39v2.26h-2.39zM201.43 81.35h2.39v2.26h-2.39zM177.55 83.85h2.39v2.26h-2.39zM185.51 83.85h2.39v2.26h-2.39zM201.43 83.85h2.39v2.26h-2.39zM180.21 86.35h2.39v2.26h-2.39zM185.51 86.35h2.39v2.26h-2.39zM188.17 86.35h2.39v2.26h-2.39zM180.21 91.36h2.39v2.26h-2.39zM193.47 91.36h2.39v2.26h-2.39zM209.39 91.36h2.39v2.26h-2.39zM198.78 93.86h2.39v2.26h-2.39zM193.47 96.36h2.39v2.26h-2.39zM212.05 96.36h2.39v2.26h-2.39zM196.13 98.86h2.39v2.26h-2.39zM182.86 101.36h2.39v2.26h-2.39zM209.39 101.36h2.39v2.26h-2.39zM185.51 103.87h2.39v2.26h-2.39zM188.17 103.87h2.39v2.26h-2.39zM206.74 103.87h2.39v2.26h-2.39zM201.43 106.37h2.39v2.26h-2.39zM204.09 106.37h2.39v2.26h-2.39zM185.51 108.87h2.39v2.26h-2.39zM193.47 108.87h2.39v2.26h-2.39zM196.13 108.87h2.39v2.26h-2.39zM209.39 108.87h2.39v2.26h-2.39zM185.51 111.37h2.39v2.26h-2.39zM188.17 111.37h2.39v2.26h-2.39zM201.43 111.37h2.39v2.26h-2.39zM177.55 113.87h2.39v2.26h-2.39zM180.21 113.87h2.39v2.26h-2.39zM206.74 113.87h2.39v2.26h-2.39zM209.39 113.87h2.39v2.26h-2.39zM174.90 116.38h2.39v2.26h-2.39zM182.86 116.38h2.39v2.26h-2.39zM185.51 116.38h2.39v2.26h-2.39zM212.05 116.38h2.39v2.26h-2.39zM174.90 118.88h2.39v2.26h-2.39zM180.21 118.88h2.39v2.26h-2.39zM193.47 118.88h2.39v2.26h-2.39zM196.13 118.88h2.39v2.26h-2.39zM212.05 118.88h2.39v2.26h-2.39zM177.55 121.38h2.39v2.26h-2.39zM196.13 121.38h2.39v2.26h-2.39zM212.05 121.38h2.39v2.26h-2.39zM177.55 123.88h2.39v2.26h-2.39zM204.09 123.88h2.39v2.26h-2.39zM209.39 123.88h2.39v2.26h-2.39zM185.51 126.38h2.39v2.26h-2.39zM198.78 126.38h2.39v2.26h-2.39zM209.39 128.89h2.39v2.26h-2.39zM177.55 131.39h2.39v2.26h-2.39zM180.21 131.39h2.39v2.26h-2.39zM182.86 131.39h2.39v2.26h-2.39zM190.82 131.39h2.39v2.26h-2.39zM198.78 131.39h2.39v2.26h-2.39zM180.21 133.89h2.39v2.26h-2.39zM185.51 133.89h2.39v2.26h-2.39zM201.43 133.89h2.39v2.26h-2.39zM201.43 136.39h2.39v2.26h-2.39zM204.09 136.39h2.39v2.26h-2.39zM190.82 138.89h2.39v2.26h-2.39zM193.47 138.89h2.39v2.26h-2.39zM198.78 138.89h2.39v2.26h-2.39zM193.47 141.40h2.39v2.26h-2.39zM196.13 141.40h2.39v2.26h-2.39zM201.43 141.40h2.39v2.26h-2.39zM177.55 143.90h2.39v2.26h-2.39zM182.86 143.90h2.39v2.26h-2.39zM188.17 143.90h2.39v2.26h-2.39zM95.42 146.40h2.48v2.26h-2.48zM32.38 148.90h2.48v2.26h-2.48zM70.75 148.90h2.48v2.26h-2.48zM128.31 148.90h2.48v2.26h-2.48zM117.34 151.40h2.48v2.26h-2.48zM131.05 151.40h2.48v2.26h-2.48zM139.27 151.40h2.48v2.26h-2.48zM155.71 151.40h2.48v2.26h-2.48zM32.38 153.91h2.48v2.26h-2.48zM46.09 153.91h2.48v2.26h-2.48zM68.01 156.41h2.48v2.26h-2.48zM87.20 156.41h2.48v2.26h-2.48zM161.20 156.41h2.48v2.26h-2.48zM37.86 158.91h2.48v2.26h-2.48zM163.94 158.91h2.48v2.26h-2.48zM65.27 161.41h2.48v2.26h-2.48zM76.23 161.41h2.48v2.26h-2.48zM98.16 161.41h2.48v2.26h-2.48zM133.79 161.41h2.48v2.26h-2.48zM40.60 163.91h2.48v2.26h-2.48zM89.94 163.91h2.48v2.26h-2.48zM98.16 163.91h2.48v2.26h-2.48zM163.94 163.91h2.48v2.26h-2.48zM37.86 166.42h2.48v2.26h-2.48zM46.09 166.42h2.48v2.26h-2.48zM81.71 166.42h2.48v2.26h-2.48zM109.12 166.42h2.48v2.26h-2.48zM131.05 166.42h2.48v2.26h-2.48zM139.27 166.42h2.48v2.26h-2.48zM43.34 168.92h2.48v2.26h-2.48zM46.09 168.92h2.48v2.26h-2.48zM51.57 168.92h2.48v2.26h-2.48zM54.31 168.92h2.48v2.26h-2.48zM59.79 168.92h2.48v2.26h-2.48zM62.53 168.92h2.48v2.26h-2.48zM76.23 168.92h2.48v2.26h-2.48zM109.12 168.92h2.48v2.26h-2.48zM142.01 168.92h2.48v2.26h-2.48zM144.75 168.92h2.48v2.26h-2.48zM29.64 171.42h2.48v2.26h-2.48zM65.27 171.42h2.48v2.26h-2.48zM84.46 171.42h2.48v2.26h-2.48zM109.12 171.42h2.48v2.26h-2.48zM133.79 171.42h2.48v2.26h-2.48zM152.97 171.42h2.48v2.26h-2.48zM40.60 173.92h2.48v2.26h-2.48zM84.46 173.92h2.48v2.26h-2.48zM150.23 173.92h2.48v2.26h-2.48zM161.20 173.92h2.48v2.26h-2.48zM172.16 173.92h2.48v2.26h-2.48zM26.90 176.42h2.48v2.26h-2.48zM122.83 176.42h2.48v2.26h-2.48zM62.53 178.93h2.48v2.26h-2.48zM114.60 178.93h2.48v2.26h-2.48zM117.34 178.93h2.48v2.26h-2.48zM122.83 178.93h2.48v2.26h-2.48zM136.53 178.93h2.48v2.26h-2.48zM139.27 178.93h2.48v2.26h-2.48zM147.49 178.93h2.48v2.26h-2.48zM163.94 178.93h2.48v2.26h-2.48zM54.31 181.43h2.48v2.26h-2.48zM120.09 181.43h2.48v2.26h-2.48zM48.83 183.93h2.48v2.26h-2.48zM89.94 183.93h2.48v2.26h-2.48zM152.97 183.93h2.48v2.26h-2.48zM163.94 183.93h2.48v2.26h-2.48zM43.34 186.43h2.48v2.26h-2.48zM89.94 186.43h2.48v2.26h-2.48zM150.23 186.43h2.48v2.26h-2.48zM163.94 186.43h2.48v2.26h-2.48zM125.57 188.93h2.48v2.26h-2.48zM131.05 188.93h2.48v2.26h-2.48zM142.01 188.93h2.48v2.26h-2.48zM166.68 188.93h2.48v2.26h-2.48zM43.34 191.44h2.48v2.26h-2.48zM51.57 191.44h2.48v2.26h-2.48zM65.27 191.44h2.48v2.26h-2.48zM35.12 193.94h2.48v2.26h-2.48zM70.75 193.94h2.48v2.26h-2.48zM81.71 193.94h2.48v2.26h-2.48zM100.90 193.94h2.48v2.26h-2.48zM59.79 196.44h2.48v2.26h-2.48zM125.57 196.44h2.48v2.26h-2.48zM158.46 196.44h2.48v2.26h-2.48zM73.49 198.94h2.48v2.26h-2.48zM81.71 198.94h2.48v2.26h-2.48zM100.90 198.94h2.48v2.26h-2.48zM128.31 198.94h2.48v2.26h-2.48zM139.27 198.94h2.48v2.26h-2.48zM32.38 201.44h2.48v2.26h-2.48zM37.86 201.44h2.48v2.26h-2.48zM57.05 201.44h2.48v2.26h-2.48zM103.64 201.44h2.48v2.26h-2.48zM109.12 201.44h2.48v2.26h-2.48zM131.05 201.44h2.48v2.26h-2.48zM142.01 201.44h2.48v2.26h-2.48zM144.75 201.44h2.48v2.26h-2.48zM150.23 201.44h2.48v2.26h-2.48zM43.34 203.95h2.48v2.26h-2.48zM57.05 203.95h2.48v2.26h-2.48zM65.27 203.95h2.48v2.26h-2.48zM68.01 203.95h2.48v2.26h-2.48zM122.83 203.95h2.48v2.26h-2.48zM98.16 206.45h2.48v2.26h-2.48zM142.01 206.45h2.48v2.26h-2.48zM40.60 208.95h2.48v2.26h-2.48zM100.90 208.95h2.48v2.26h-2.48zM114.60 208.95h2.48v2.26h-2.48zM122.83 208.95h2.48v2.26h-2.48zM46.09 211.45h2.48v2.26h-2.48zM100.90 211.45h2.48v2.26h-2.48zM131.05 211.45h2.48v2.26h-2.48zM26.90 213.95h2.48v2.26h-2.48zM68.01 213.95h2.48v2.26h-2.48zM100.90 213.95h2.48v2.26h-2.48zM109.12 213.95h2.48v2.26h-2.48zM35.12 216.46h2.48v2.26h-2.48zM54.31 216.46h2.48v2.26h-2.48zM59.79 216.46h2.48v2.26h-2.48zM81.71 216.46h2.48v2.26h-2.48zM114.60 216.46h2.48v2.26h-2.48zM163.94 216.46h2.48v2.26h-2.48zM35.12 218.96h2.48v2.26h-2.48zM51.57 218.96h2.48v2.26h-2.48zM87.20 218.96h2.48v2.26h-2.48zM111.86 218.96h2.48v2.26h-2.48zM142.01 218.96h2.48v2.26h-2.48zM32.38 221.46h2.48v2.26h-2.48zM37.86 221.46h2.48v2.26h-2.48zM43.34 221.46h2.48v2.26h-2.48zM57.05 221.46h2.48v2.26h-2.48zM76.23 221.46h2.48v2.26h-2.48zM84.46 221.46h2.48v2.26h-2.48zM136.53 221.46h2.48v2.26h-2.48zM40.60 223.96h2.48v2.26h-2.48zM65.27 223.96h2.48v2.26h-2.48zM100.90 223.96h2.48v2.26h-2.48zM114.60 223.96h2.48v2.26h-2.48zM125.57 223.96h2.48v2.26h-2.48zM128.31 223.96h2.48v2.26h-2.48zM59.79 226.46h2.48v2.26h-2.48zM68.01 226.46h2.48v2.26h-2.48zM84.46 226.46h2.48v2.26h-2.48zM78.97 228.97h2.48v2.26h-2.48zM95.42 228.97h2.48v2.26h-2.48zM109.12 228.97h2.48v2.26h-2.48zM158.46 228.97h2.48v2.26h-2.48zM161.20 228.97h2.48v2.26h-2.48zM68.01 231.47h2.48v2.26h-2.48zM128.31 231.47h2.48v2.26h-2.48zM62.53 233.97h2.48v2.26h-2.48zM68.01 233.97h2.48v2.26h-2.48zM76.23 233.97h2.48v2.26h-2.48zM100.90 233.97h2.48v2.26h-2.48zM106.38 233.97h2.48v2.26h-2.48zM109.12 233.97h2.48v2.26h-2.48zM114.60 233.97h2.48v2.26h-2.48zM144.75 233.97h2.48v2.26h-2.48zM32.38 236.47h2.48v2.26h-2.48zM37.86 236.47h2.48v2.26h-2.48zM51.57 236.47h2.48v2.26h-2.48zM57.05 236.47h2.48v2.26h-2.48zM76.23 236.47h2.48v2.26h-2.48zM78.97 236.47h2.48v2.26h-2.48zM106.38 236.47h2.48v2.26h-2.48zM120.09 236.47h2.48v2.26h-2.48zM166.68 236.47h2.48v2.26h-2.48zM172.16 236.47h2.48v2.26h-2.48zM35.12 238.97h2.48v2.26h-2.48zM57.05 238.97h2.48v2.26h-2.48zM65.27 238.97h2.48v2.26h-2.48zM70.75 238.97h2.48v2.26h-2.48zM100.90 241.48h2.48v2.26h-2.48zM87.20 243.98h2.48v2.26h-2.48zM103.64 243.98h2.48v2.26h-2.48zM122.83 243.98h2.48v2.26h-2.48zM155.71 243.98h2.48v2.26h-2.48zM29.64 246.48h2.48v2.26h-2.48zM76.23 246.48h2.48v2.26h-2.48zM125.57 246.48h2.48v2.26h-2.48zM144.75 246.48h2.48v2.26h-2.48zM37.86 248.98h2.48v2.26h-2.48zM65.27 248.98h2.48v2.26h-2.48zM117.34 248.98h2.48v2.26h-2.48zM142.01 248.98h2.48v2.26h-2.48zM161.20 248.98h2.48v2.26h-2.48zM35.12 251.48h2.48v2.26h-2.48zM37.86 251.48h2.48v2.26h-2.48zM48.83 251.48h2.48v2.26h-2.48zM78.97 251.48h2.48v2.26h-2.48zM117.34 251.48h2.48v2.26h-2.48zM150.23 251.48h2.48v2.26h-2.48zM122.83 253.99h2.48v2.26h-2.48zM125.57 253.99h2.48v2.26h-2.48zM144.75 253.99h2.48v2.26h-2.48zM62.53 256.49h2.48v2.26h-2.48zM92.68 256.49h2.48v2.26h-2.48zM35.12 258.99h2.48v2.26h-2.48zM114.60 258.99h2.48v2.26h-2.48zM120.09 258.99h2.48v2.26h-2.48zM122.83 258.99h2.48v2.26h-2.48zM136.53 258.99h2.48v2.26h-2.48zM46.09 261.49h2.48v2.26h-2.48zM68.01 261.49h2.48v2.26h-2.48zM103.64 261.49h2.48v2.26h-2.48zM128.31 261.49h2.48v2.26h-2.48zM152.97 261.49h2.48v2.26h-2.48zM95.42 263.99h2.48v2.26h-2.48zM169.42 263.99h2.48v2.26h-2.48zM37.86 266.50h2.48v2.26h-2.48zM73.49 269.00h2.48v2.26h-2.48zM78.97 269.00h2.48v2.26h-2.48zM81.71 269.00h2.48v2.26h-2.48zM117.34 269.00h2.48v2.26h-2.48zM120.09 269.00h2.48v2.26h-2.48zM155.71 269.00h2.48v2.26h-2.48z"/><path fill="#6460ea" d="M68.01 31.31h2.48v2.26h-2.48zM150.23 31.31h2.48v2.26h-2.48zM150.23 51.32h2.48v2.26h-2.48zM59.79 56.33h2.48v2.26h-2.48zM40.60 58.83h2.48v2.26h-2.48zM150.23 61.33h2.48v2.26h-2.48zM158.46 61.33h2.48v2.26h-2.48zM46.09 63.83h2.48v2.26h-2.48zM48.83 68.84h2.48v2.26h-2.48zM122.83 68.84h2.48v2.26h-2.48zM81.71 86.35h2.48v2.26h-2.48zM163.94 98.86h2.48v2.26h-2.48zM169.42 98.86h2.48v2.26h-2.48zM37.86 101.36h2.48v2.26h-2.48zM158.46 103.87h2.48v2.26h-2.48zM29.64 108.87h2.48v2.26h-2.48zM73.49 111.37h2.48v2.26h-2.48zM122.83 113.87h2.48v2.26h-2.48zM81.71 123.88h2.48v2.26h-2.48zM59.79 138.89h2.48v2.26h-2.48zM70.75 143.90h2.48v2.26h-2.48zM158.46 143.90h2.48v2.26h-2.48z"/><path fill="#9494ec" d="M190.82 31.31h2.39v2.26h-2.39zM196.13 38.81h2.39v2.26h-2.39zM177.55 41.32h2.39v2.26h-2.39zM190.82 41.32h2.39v2.26h-2.39zM201.43 43.82h2.39v2.26h-2.39zM188.17 48.82h2.39v2.26h-2.39zM182.86 51.32h2.39v2.26h-2.39zM196.13 53.83h2.39v2.26h-2.39zM198.78 53.83h2.39v2.26h-2.39zM190.82 56.33h2.39v2.26h-2.39zM180.21 58.83h2.39v2.26h-2.39zM185.51 61.33h2.39v2.26h-2.39zM188.17 61.33h2.39v2.26h-2.39zM174.90 63.83h2.39v2.26h-2.39zM182.86 63.83h2.39v2.26h-2.39zM174.90 66.34h2.39v2.26h-2.39zM182.86 68.84h2.39v2.26h-2.39zM198.78 68.84h2.39v2.26h-2.39zM174.90 71.34h2.39v2.26h-2.39zM188.17 71.34h2.39v2.26h-2.39zM177.55 73.84h2.39v2.26h-2.39zM174.90 78.85h2.39v2.26h-2.39zM190.82 78.85h2.39v2.26h-2.39zM177.55 86.35h2.39v2.26h-2.39zM190.82 86.35h2.39v2.26h-2.39zM196.13 86.35h2.39v2.26h-2.39zM204.09 86.35h2.39v2.26h-2.39zM209.39 86.35h2.39v2.26h-2.39zM204.09 88.85h2.39v2.26h-2.39zM188.17 91.36h2.39v2.26h-2.39zM182.86 93.86h2.39v2.26h-2.39zM193.47 93.86h2.39v2.26h-2.39zM196.13 93.86h2.39v2.26h-2.39zM190.82 96.36h2.39v2.26h-2.39zM196.13 96.36h2.39v2.26h-2.39zM174.90 98.86h2.39v2.26h-2.39zM188.17 98.86h2.39v2.26h-2.39zM204.09 98.86h2.39v2.26h-2.39zM209.39 98.86h2.39v2.26h-2.39zM198.78 101.36h2.39v2.26h-2.39zM201.43 101.36h2.39v2.26h-2.39zM180.21 103.87h2.39v2.26h-2.39zM180.21 106.37h2.39v2.26h-2.39zM182.86 106.37h2.39v2.26h-2.39zM185.51 106.37h2.39v2.26h-2.39zM190.82 106.37h2.39v2.26h-2.39zM209.39 106.37h2.39v2.26h-2.39zM174.90 108.87h2.39v2.26h-2.39zM190.82 108.87h2.39v2.26h-2.39zM180.21 111.37h2.39v2.26h-2.39zM193.47 111.37h2.39v2.26h-2.39zM196.13 111.37h2.39v2.26h-2.39zM206.74 111.37h2.39v2.26h-2.39zM188.17 113.87h2.39v2.26h-2.39zM193.47 113.87h2.39v2.26h-2.39zM201.43 113.87h2.39v2.26h-2.39zM204.09 113.87h2.39v2.26h-2.39zM188.17 116.38h2.39v2.26h-2.39zM198.78 116.38h2.39v2.26h-2.39zM188.17 121.38h2.39v2.26h-2.39zM190.82 121.38h2.39v2.26h-2.39zM198.78 121.38h2.39v2.26h-2.39zM185.51 123.88h2.39v2.26h-2.39zM193.47 123.88h2.39v2.26h-2.39zM198.78 123.88h2.39v2.26h-2.39zM193.47 126.38h2.39v2.26h-2.39zM177.55 128.89h2.39v2.26h-2.39zM193.47 128.89h2.39v2.26h-2.39zM196.13 128.89h2.39v2.26h-2.39zM206.74 128.89h2.39v2.26h-2.39zM185.51 131.39h2.39v2.26h-2.39zM188.17 131.39h2.39v2.26h-2.39zM193.47 131.39h2.39v2.26h-2.39zM174.90 133.89h2.39v2.26h-2.39zM177.55 133.89h2.39v2.26h-2.39zM174.90 136.39h2.39v2.26h-2.39zM190.82 136.39h2.39v2.26h-2.39zM212.05 136.39h2.39v2.26h-2.39zM196.13 138.89h2.39v2.26h-2.39zM177.55 141.40h2.39v2.26h-2.39zM188.17 141.40h2.39v2.26h-2.39zM196.13 143.90h2.39v2.26h-2.39zM204.09 143.90h2.39v2.26h-2.39zM122.83 146.40h2.48v2.26h-2.48zM147.49 146.40h2.48v2.26h-2.48zM78.97 148.90h2.48v2.26h-2.48zM84.46 148.90h2.48v2.26h-2.48zM98.16 148.90h2.48v2.26h-2.48zM100.90 148.90h2.48v2.26h-2.48zM111.86 148.90h2.48v2.26h-2.48zM136.53 148.90h2.48v2.26h-2.48zM163.94 148.90h2.48v2.26h-2.48zM48.83 151.40h2.48v2.26h-2.48zM70.75 151.40h2.48v2.26h-2.48zM73.49 151.40h2.48v2.26h-2.48zM106.38 151.40h2.48v2.26h-2.48zM109.12 151.40h2.48v2.26h-2.48zM122.83 151.40h2.48v2.26h-2.48zM136.53 151.40h2.48v2.26h-2.48zM142.01 151.40h2.48v2.26h-2.48zM152.97 151.40h2.48v2.26h-2.48zM51.57 153.91h2.48v2.26h-2.48zM62.53 153.91h2.48v2.26h-2.48zM92.68 153.91h2.48v2.26h-2.48zM106.38 153.91h2.48v2.26h-2.48zM114.60 153.91h2.48v2.26h-2.48zM117.34 153.91h2.48v2.26h-2.48zM131.05 153.91h2.48v2.26h-2.48zM37.86 156.41h2.48v2.26h-2.48zM57.05 156.41h2.48v2.26h-2.48zM70.75 156.41h2.48v2.26h-2.48zM76.23 156.41h2.48v2.26h-2.48zM131.05 156.41h2.48v2.26h-2.48zM133.79 156.41h2.48v2.26h-2.48zM46.09 158.91h2.48v2.26h-2.48zM51.57 158.91h2.48v2.26h-2.48zM65.27 158.91h2.48v2.26h-2.48zM81.71 158.91h2.48v2.26h-2.48zM128.31 158.91h2.48v2.26h-2.48zM144.75 158.91h2.48v2.26h-2.48zM87.20 161.41h2.48v2.26h-2.48zM89.94 161.41h2.48v2.26h-2.48zM111.86 161.41h2.48v2.26h-2.48zM125.57 161.41h2.48v2.26h-2.48zM152.97 161.41h2.48v2.26h-2.48zM48.83 163.91h2.48v2.26h-2.48zM54.31 163.91h2.48v2.26h-2.48zM57.05 163.91h2.48v2.26h-2.48zM76.23 163.91h2.48v2.26h-2.48zM81.71 163.91h2.48v2.26h-2.48zM87.20 163.91h2.48v2.26h-2.48zM155.71 163.91h2.48v2.26h-2.48zM43.34 166.42h2.48v2.26h-2.48zM48.83 166.42h2.48v2.26h-2.48zM57.05 166.42h2.48v2.26h-2.48zM59.79 166.42h2.48v2.26h-2.48zM65.27 166.42h2.48v2.26h-2.48zM103.64 166.42h2.48v2.26h-2.48zM114.60 166.42h2.48v2.26h-2.48zM166.68 166.42h2.48v2.26h-2.48zM37.86 168.92h2.48v2.26h-2.48zM114.60 168.92h2.48v2.26h-2.48zM120.09 168.92h2.48v2.26h-2.48zM122.83 168.92h2.48v2.26h-2.48zM158.46 168.92h2.48v2.26h-2.48zM46.09 171.42h2.48v2.26h-2.48zM62.53 171.42h2.48v2.26h-2.48zM81.71 171.42h2.48v2.26h-2.48zM117.34 171.42h2.48v2.26h-2.48zM125.57 171.42h2.48v2.26h-2.48zM43.34 173.92h2.48v2.26h-2.48zM76.23 173.92h2.48v2.26h-2.48zM155.71 173.92h2.48v2.26h-2.48zM163.94 173.92h2.48v2.26h-2.48zM37.86 176.42h2.48v2.26h-2.48zM73.49 176.42h2.48v2.26h-2.48zM76.23 176.42h2.48v2.26h-2.48zM103.64 176.42h2.48v2.26h-2.48zM117.34 176.42h2.48v2.26h-2.48zM133.79 176.42h2.48v2.26h-2.48zM144.75 176.42h2.48v2.26h-2.48zM48.83 178.93h2.48v2.26h-2.48zM54.31 178.93h2.48v2.26h-2.48zM57.05 178.93h2.48v2.26h-2.48zM59.79 178.93h2.48v2.26h-2.48zM81.71 178.93h2.48v2.26h-2.48zM109.12 178.93h2.48v2.26h-2.48zM128.31 178.93h2.48v2.26h-2.48zM152.97 178.93h2.48v2.26h-2.48zM172.16 178.93h2.48v2.26h-2.48zM51.57 181.43h2.48v2.26h-2.48zM84.46 181.43h2.48v2.26h-2.48zM122.83 181.43h2.48v2.26h-2.48zM43.34 183.93h2.48v2.26h-2.48zM62.53 183.93h2.48v2.26h-2.48zM92.68 183.93h2.48v2.26h-2.48zM98.16 183.93h2.48v2.26h-2.48zM103.64 183.93h2.48v2.26h-2.48zM114.60 183.93h2.48v2.26h-2.48zM120.09 183.93h2.48v2.26h-2.48zM122.83 183.93h2.48v2.26h-2.48zM136.53 183.93h2.48v2.26h-2.48zM139.27 183.93h2.48v2.26h-2.48zM144.75 183.93h2.48v2.26h-2.48zM54.31 186.43h2.48v2.26h-2.48zM95.42 186.43h2.48v2.26h-2.48zM111.86 186.43h2.48v2.26h-2.48zM136.53 186.43h2.48v2.26h-2.48zM48.83 188.93h2.48v2.26h-2.48zM57.05 188.93h2.48v2.26h-2.48zM133.79 188.93h2.48v2.26h-2.48zM169.42 188.93h2.48v2.26h-2.48zM40.60 191.44h2.48v2.26h-2.48zM54.31 191.44h2.48v2.26h-2.48zM87.20 191.44h2.48v2.26h-2.48zM122.83 191.44h2.48v2.26h-2.48zM139.27 191.44h2.48v2.26h-2.48zM142.01 191.44h2.48v2.26h-2.48zM152.97 191.44h2.48v2.26h-2.48zM158.46 191.44h2.48v2.26h-2.48zM169.42 191.44h2.48v2.26h-2.48zM37.86 193.94h2.48v2.26h-2.48zM84.46 193.94h2.48v2.26h-2.48zM87.20 193.94h2.48v2.26h-2.48zM109.12 193.94h2.48v2.26h-2.48zM114.60 193.94h2.48v2.26h-2.48zM125.57 193.94h2.48v2.26h-2.48zM133.79 193.94h2.48v2.26h-2.48zM62.53 196.44h2.48v2.26h-2.48zM73.49 196.44h2.48v2.26h-2.48zM117.34 196.44h2.48v2.26h-2.48zM46.09 198.94h2.48v2.26h-2.48zM48.83 198.94h2.48v2.26h-2.48zM111.86 198.94h2.48v2.26h-2.48zM125.57 198.94h2.48v2.26h-2.48zM133.79 198.94h2.48v2.26h-2.48zM136.53 198.94h2.48v2.26h-2.48zM172.16 198.94h2.48v2.26h-2.48zM89.94 201.44h2.48v2.26h-2.48zM84.46 203.95h2.48v2.26h-2.48zM117.34 203.95h2.48v2.26h-2.48zM150.23 203.95h2.48v2.26h-2.48zM65.27 206.45h2.48v2.26h-2.48zM89.94 206.45h2.48v2.26h-2.48zM131.05 206.45h2.48v2.26h-2.48zM57.05 208.95h2.48v2.26h-2.48zM59.79 208.95h2.48v2.26h-2.48zM62.53 208.95h2.48v2.26h-2.48zM84.46 208.95h2.48v2.26h-2.48zM128.31 208.95h2.48v2.26h-2.48zM142.01 208.95h2.48v2.26h-2.48zM150.23 208.95h2.48v2.26h-2.48zM152.97 208.95h2.48v2.26h-2.48zM40.60 211.45h2.48v2.26h-2.48zM76.23 211.45h2.48v2.26h-2.48zM98.16 211.45h2.48v2.26h-2.48zM117.34 211.45h2.48v2.26h-2.48zM125.57 211.45h2.48v2.26h-2.48zM161.20 211.45h2.48v2.26h-2.48zM35.12 213.95h2.48v2.26h-2.48zM46.09 213.95h2.48v2.26h-2.48zM51.57 213.95h2.48v2.26h-2.48zM87.20 213.95h2.48v2.26h-2.48zM92.68 213.95h2.48v2.26h-2.48zM120.09 213.95h2.48v2.26h-2.48zM136.53 213.95h2.48v2.26h-2.48zM147.49 213.95h2.48v2.26h-2.48zM48.83 216.46h2.48v2.26h-2.48zM150.23 216.46h2.48v2.26h-2.48zM152.97 216.46h2.48v2.26h-2.48zM109.12 218.96h2.48v2.26h-2.48zM136.53 218.96h2.48v2.26h-2.48zM158.46 218.96h2.48v2.26h-2.48zM161.20 218.96h2.48v2.26h-2.48zM29.64 221.46h2.48v2.26h-2.48zM59.79 221.46h2.48v2.26h-2.48zM62.53 221.46h2.48v2.26h-2.48zM109.12 221.46h2.48v2.26h-2.48zM155.71 221.46h2.48v2.26h-2.48zM172.16 221.46h2.48v2.26h-2.48zM59.79 223.96h2.48v2.26h-2.48zM68.01 223.96h2.48v2.26h-2.48zM78.97 223.96h2.48v2.26h-2.48zM84.46 223.96h2.48v2.26h-2.48zM87.20 223.96h2.48v2.26h-2.48zM95.42 223.96h2.48v2.26h-2.48zM131.05 223.96h2.48v2.26h-2.48zM150.23 223.96h2.48v2.26h-2.48zM29.64 226.46h2.48v2.26h-2.48zM32.38 226.46h2.48v2.26h-2.48zM87.20 226.46h2.48v2.26h-2.48zM95.42 226.46h2.48v2.26h-2.48zM106.38 226.46h2.48v2.26h-2.48zM122.83 226.46h2.48v2.26h-2.48zM152.97 226.46h2.48v2.26h-2.48zM37.86 228.97h2.48v2.26h-2.48zM54.31 228.97h2.48v2.26h-2.48zM62.53 228.97h2.48v2.26h-2.48zM68.01 228.97h2.48v2.26h-2.48zM76.23 228.97h2.48v2.26h-2.48zM84.46 228.97h2.48v2.26h-2.48zM100.90 228.97h2.48v2.26h-2.48zM114.60 228.97h2.48v2.26h-2.48zM131.05 228.97h2.48v2.26h-2.48zM144.75 228.97h2.48v2.26h-2.48zM37.86 231.47h2.48v2.26h-2.48zM73.49 231.47h2.48v2.26h-2.48zM81.71 231.47h2.48v2.26h-2.48zM114.60 231.47h2.48v2.26h-2.48zM40.60 233.97h2.48v2.26h-2.48zM54.31 233.97h2.48v2.26h-2.48zM65.27 233.97h2.48v2.26h-2.48zM103.64 233.97h2.48v2.26h-2.48zM131.05 233.97h2.48v2.26h-2.48zM169.42 233.97h2.48v2.26h-2.48zM35.12 236.47h2.48v2.26h-2.48zM43.34 236.47h2.48v2.26h-2.48zM87.20 236.47h2.48v2.26h-2.48zM100.90 236.47h2.48v2.26h-2.48zM136.53 236.47h2.48v2.26h-2.48zM158.46 236.47h2.48v2.26h-2.48zM40.60 238.97h2.48v2.26h-2.48zM51.57 238.97h2.48v2.26h-2.48zM73.49 238.97h2.48v2.26h-2.48zM78.97 238.97h2.48v2.26h-2.48zM111.86 238.97h2.48v2.26h-2.48zM133.79 238.97h2.48v2.26h-2.48zM163.94 238.97h2.48v2.26h-2.48zM122.83 241.48h2.48v2.26h-2.48zM144.75 241.48h2.48v2.26h-2.48zM32.38 243.98h2.48v2.26h-2.48zM37.86 243.98h2.48v2.26h-2.48zM48.83 243.98h2.48v2.26h-2.48zM54.31 243.98h2.48v2.26h-2.48zM76.23 243.98h2.48v2.26h-2.48zM89.94 243.98h2.48v2.26h-2.48zM59.79 246.48h2.48v2.26h-2.48zM65.27 246.48h2.48v2.26h-2.48zM84.46 246.48h2.48v2.26h-2.48zM92.68 246.48h2.48v2.26h-2.48zM100.90 246.48h2.48v2.26h-2.48zM158.46 246.48h2.48v2.26h-2.48zM163.94 246.48h2.48v2.26h-2.48zM43.34 248.98h2.48v2.26h-2.48zM51.57 248.98h2.48v2.26h-2.48zM100.90 248.98h2.48v2.26h-2.48zM152.97 248.98h2.48v2.26h-2.48zM54.31 251.48h2.48v2.26h-2.48zM100.90 251.48h2.48v2.26h-2.48zM131.05 251.48h2.48v2.26h-2.48zM139.27 251.48h2.48v2.26h-2.48zM152.97 251.48h2.48v2.26h-2.48zM158.46 251.48h2.48v2.26h-2.48zM169.42 251.48h2.48v2.26h-2.48zM35.12 253.99h2.48v2.26h-2.48zM57.05 253.99h2.48v2.26h-2.48zM78.97 253.99h2.48v2.26h-2.48zM100.90 253.99h2.48v2.26h-2.48zM103.64 253.99h2.48v2.26h-2.48zM131.05 253.99h2.48v2.26h-2.48zM150.23 253.99h2.48v2.26h-2.48zM158.46 253.99h2.48v2.26h-2.48zM35.12 256.49h2.48v2.26h-2.48zM43.34 256.49h2.48v2.26h-2.48zM51.57 256.49h2.48v2.26h-2.48zM81.71 256.49h2.48v2.26h-2.48zM106.38 256.49h2.48v2.26h-2.48zM147.49 256.49h2.48v2.26h-2.48zM29.64 258.99h2.48v2.26h-2.48zM32.38 258.99h2.48v2.26h-2.48zM37.86 258.99h2.48v2.26h-2.48zM48.83 258.99h2.48v2.26h-2.48zM62.53 258.99h2.48v2.26h-2.48zM73.49 258.99h2.48v2.26h-2.48zM150.23 258.99h2.48v2.26h-2.48zM172.16 258.99h2.48v2.26h-2.48zM59.79 261.49h2.48v2.26h-2.48zM81.71 261.49h2.48v2.26h-2.48zM117.34 261.49h2.48v2.26h-2.48zM131.05 261.49h2.48v2.26h-2.48zM139.27 261.49h2.48v2.26h-2.48zM163.94 261.49h2.48v2.26h-2.48zM43.34 263.99h2.48v2.26h-2.48zM70.75 263.99h2.48v2.26h-2.48zM78.97 263.99h2.48v2.26h-2.48zM89.94 263.99h2.48v2.26h-2.48zM142.01 263.99h2.48v2.26h-2.48zM147.49 263.99h2.48v2.26h-2.48zM70.75 266.50h2.48v2.26h-2.48zM103.64 266.50h2.48v2.26h-2.48zM120.09 266.50h2.48v2.26h-2.48zM144.75 266.50h2.48v2.26h-2.48zM37.86 269.00h2.48v2.26h-2.48zM62.53 269.00h2.48v2.26h-2.48zM68.01 269.00h2.48v2.26h-2.48zM100.90 269.00h2.48v2.26h-2.48zM106.38 269.00h2.48v2.26h-2.48zM125.57 269.00h2.48v2.26h-2.48zM133.79 269.00h2.48v2.26h-2.48zM144.75 269.00h2.48v2.26h-2.48z"/><path fill="#2412cc" d="M48.83 38.81h2.48v2.26h-2.48zM109.12 78.85h2.48v2.26h-2.48zM89.94 93.86h2.48v2.26h-2.48zM81.71 103.87h2.48v2.26h-2.48zM32.38 126.38h2.48v2.26h-2.48zM172.16 131.39h2.48v2.26h-2.48z"/><path fill="#e6e6f8" d="M177.55 63.83h2.39v2.26h-2.39zM198.78 63.83h2.39v2.26h-2.39zM182.86 71.34h2.39v2.26h-2.39zM206.74 98.86h2.39v2.26h-2.39zM174.90 101.36h2.39v2.26h-2.39zM190.82 101.36h2.39v2.26h-2.39zM188.17 106.37h2.39v2.26h-2.39zM198.78 113.87h2.39v2.26h-2.39zM196.13 116.38h2.39v2.26h-2.39zM198.78 118.88h2.39v2.26h-2.39zM201.43 118.88h2.39v2.26h-2.39zM190.82 123.88h2.39v2.26h-2.39zM182.86 126.38h2.39v2.26h-2.39zM174.90 128.89h2.39v2.26h-2.39zM198.78 133.89h2.39v2.26h-2.39z"/><path fill="#da3c4c" d="M26.90 146.40h2.48v2.26h-2.48zM133.79 148.90h2.48v2.26h-2.48zM26.90 153.91h2.48v2.26h-2.48zM84.46 153.91h2.48v2.26h-2.48zM87.20 153.91h2.48v2.26h-2.48zM139.27 153.91h2.48v2.26h-2.48zM152.97 153.91h2.48v2.26h-2.48zM161.20 153.91h2.48v2.26h-2.48zM166.68 153.91h2.48v2.26h-2.48zM155.71 158.91h2.48v2.26h-2.48zM26.90 161.41h2.48v2.26h-2.48zM150.23 161.41h2.48v2.26h-2.48zM166.68 161.41h2.48v2.26h-2.48zM26.90 166.42h2.48v2.26h-2.48zM40.60 168.92h2.48v2.26h-2.48zM78.97 171.42h2.48v2.26h-2.48zM43.34 176.42h2.48v2.26h-2.48zM54.31 176.42h2.48v2.26h-2.48zM92.68 176.42h2.48v2.26h-2.48zM147.49 176.42h2.48v2.26h-2.48zM136.53 181.43h2.48v2.26h-2.48zM147.49 181.43h2.48v2.26h-2.48zM161.20 183.93h2.48v2.26h-2.48zM169.42 186.43h2.48v2.26h-2.48zM117.34 188.93h2.48v2.26h-2.48zM54.31 193.94h2.48v2.26h-2.48zM62.53 193.94h2.48v2.26h-2.48zM150.23 193.94h2.48v2.26h-2.48zM163.94 193.94h2.48v2.26h-2.48zM169.42 193.94h2.48v2.26h-2.48zM142.01 196.44h2.48v2.26h-2.48zM166.68 196.44h2.48v2.26h-2.48zM152.97 198.94h2.48v2.26h-2.48zM35.12 206.45h2.48v2.26h-2.48zM158.46 206.45h2.48v2.26h-2.48zM172.16 206.45h2.48v2.26h-2.48zM32.38 208.95h2.48v2.26h-2.48zM43.34 208.95h2.48v2.26h-2.48zM48.83 208.95h2.48v2.26h-2.48zM95.42 211.45h2.48v2.26h-2.48zM95.42 213.95h2.48v2.26h-2.48zM26.90 216.46h2.48v2.26h-2.48zM78.97 218.96h2.48v2.26h-2.48zM81.71 221.46h2.48v2.26h-2.48zM54.31 226.46h2.48v2.26h-2.48zM120.09 228.97h2.48v2.26h-2.48zM142.01 228.97h2.48v2.26h-2.48zM29.64 231.47h2.48v2.26h-2.48zM35.12 231.47h2.48v2.26h-2.48zM37.86 233.97h2.48v2.26h-2.48zM70.75 233.97h2.48v2.26h-2.48zM150.23 233.97h2.48v2.26h-2.48zM87.20 238.97h2.48v2.26h-2.48zM32.38 241.48h2.48v2.26h-2.48zM40.60 241.48h2.48v2.26h-2.48zM51.57 241.48h2.48v2.26h-2.48zM158.46 241.48h2.48v2.26h-2.48zM114.60 243.98h2.48v2.26h-2.48zM161.20 243.98h2.48v2.26h-2.48zM35.12 246.48h2.48v2.26h-2.48zM89.94 246.48h2.48v2.26h-2.48zM62.53 248.98h2.48v2.26h-2.48zM46.09 251.48h2.48v2.26h-2.48zM26.90 253.99h2.48v2.26h-2.48zM76.23 253.99h2.48v2.26h-2.48zM163.94 253.99h2.48v2.26h-2.48zM46.09 256.49h2.48v2.26h-2.48zM68.01 256.49h2.48v2.26h-2.48zM87.20 256.49h2.48v2.26h-2.48zM57.05 258.99h2.48v2.26h-2.48zM109.12 258.99h2.48v2.26h-2.48zM172.16 261.49h2.48v2.26h-2.48zM37.86 263.99h2.48v2.26h-2.48zM65.27 263.99h2.48v2.26h-2.48zM114.60 263.99h2.48v2.26h-2.48zM131.05 263.99h2.48v2.26h-2.48zM152.97 263.99h2.48v2.26h-2.48zM125.57 266.50h2.48v2.26h-2.48zM155.71 266.50h2.48v2.26h-2.48zM43.34 269.00h2.48v2.26h-2.48zM70.75 269.00h2.48v2.26h-2.48z"/><path fill="#e8e6f6" d="M32.38 146.40h2.48v2.26h-2.48zM120.09 146.40h2.48v2.26h-2.48zM169.42 146.40h2.48v2.26h-2.48zM172.16 146.40h2.48v2.26h-2.48zM92.68 148.90h2.48v2.26h-2.48zM106.38 148.90h2.48v2.26h-2.48zM120.09 148.90h2.48v2.26h-2.48zM144.75 148.90h2.48v2.26h-2.48zM147.49 148.90h2.48v2.26h-2.48zM87.20 151.40h2.48v2.26h-2.48zM89.94 151.40h2.48v2.26h-2.48zM100.90 151.40h2.48v2.26h-2.48zM111.86 151.40h2.48v2.26h-2.48zM120.09 151.40h2.48v2.26h-2.48zM125.57 151.40h2.48v2.26h-2.48zM43.34 153.91h2.48v2.26h-2.48zM100.90 153.91h2.48v2.26h-2.48zM122.83 153.91h2.48v2.26h-2.48zM125.57 153.91h2.48v2.26h-2.48zM128.31 153.91h2.48v2.26h-2.48zM133.79 153.91h2.48v2.26h-2.48zM155.71 153.91h2.48v2.26h-2.48zM158.46 153.91h2.48v2.26h-2.48zM32.38 156.41h2.48v2.26h-2.48zM35.12 156.41h2.48v2.26h-2.48zM65.27 156.41h2.48v2.26h-2.48zM92.68 156.41h2.48v2.26h-2.48zM128.31 156.41h2.48v2.26h-2.48zM70.75 158.91h2.48v2.26h-2.48zM103.64 158.91h2.48v2.26h-2.48zM125.57 158.91h2.48v2.26h-2.48zM32.38 161.41h2.48v2.26h-2.48zM95.42 161.41h2.48v2.26h-2.48zM122.83 161.41h2.48v2.26h-2.48zM128.31 161.41h2.48v2.26h-2.48zM169.42 161.41h2.48v2.26h-2.48zM172.16 161.41h2.48v2.26h-2.48zM84.46 163.91h2.48v2.26h-2.48zM92.68 163.91h2.48v2.26h-2.48zM169.42 163.91h2.48v2.26h-2.48zM32.38 166.42h2.48v2.26h-2.48zM68.01 166.42h2.48v2.26h-2.48zM78.97 166.42h2.48v2.26h-2.48zM133.79 166.42h2.48v2.26h-2.48zM70.75 168.92h2.48v2.26h-2.48zM163.94 168.92h2.48v2.26h-2.48zM169.42 168.92h2.48v2.26h-2.48zM48.83 171.42h2.48v2.26h-2.48zM73.49 171.42h2.48v2.26h-2.48zM95.42 171.42h2.48v2.26h-2.48zM111.86 171.42h2.48v2.26h-2.48zM158.46 171.42h2.48v2.26h-2.48zM163.94 171.42h2.48v2.26h-2.48zM166.68 171.42h2.48v2.26h-2.48zM117.34 173.92h2.48v2.26h-2.48zM125.57 173.92h2.48v2.26h-2.48zM133.79 173.92h2.48v2.26h-2.48zM139.27 173.92h2.48v2.26h-2.48zM48.83 176.42h2.48v2.26h-2.48zM78.97 176.42h2.48v2.26h-2.48zM114.60 176.42h2.48v2.26h-2.48zM163.94 176.42h2.48v2.26h-2.48zM35.12 178.93h2.48v2.26h-2.48zM70.75 178.93h2.48v2.26h-2.48zM111.86 178.93h2.48v2.26h-2.48zM142.01 178.93h2.48v2.26h-2.48zM133.79 181.43h2.48v2.26h-2.48zM158.46 181.43h2.48v2.26h-2.48zM161.20 181.43h2.48v2.26h-2.48zM35.12 183.93h2.48v2.26h-2.48zM155.71 183.93h2.48v2.26h-2.48zM172.16 183.93h2.48v2.26h-2.48zM32.38 186.43h2.48v2.26h-2.48zM114.60 186.43h2.48v2.26h-2.48zM142.01 186.43h2.48v2.26h-2.48zM144.75 186.43h2.48v2.26h-2.48zM161.20 186.43h2.48v2.26h-2.48zM109.12 188.93h2.48v2.26h-2.48zM114.60 188.93h2.48v2.26h-2.48zM139.27 188.93h2.48v2.26h-2.48zM163.94 188.93h2.48v2.26h-2.48zM70.75 191.44h2.48v2.26h-2.48zM76.23 191.44h2.48v2.26h-2.48zM84.46 191.44h2.48v2.26h-2.48zM95.42 191.44h2.48v2.26h-2.48zM32.38 193.94h2.48v2.26h-2.48zM57.05 193.94h2.48v2.26h-2.48zM142.01 193.94h2.48v2.26h-2.48zM144.75 193.94h2.48v2.26h-2.48zM43.34 196.44h2.48v2.26h-2.48zM51.57 196.44h2.48v2.26h-2.48zM26.90 198.94h2.48v2.26h-2.48zM87.20 198.94h2.48v2.26h-2.48zM147.49 198.94h2.48v2.26h-2.48zM46.09 201.44h2.48v2.26h-2.48zM62.53 201.44h2.48v2.26h-2.48zM133.79 201.44h2.48v2.26h-2.48zM133.79 203.95h2.48v2.26h-2.48zM147.49 203.95h2.48v2.26h-2.48zM117.34 206.45h2.48v2.26h-2.48zM120.09 208.95h2.48v2.26h-2.48zM43.34 211.45h2.48v2.26h-2.48zM92.68 211.45h2.48v2.26h-2.48zM103.64 211.45h2.48v2.26h-2.48zM122.83 211.45h2.48v2.26h-2.48zM40.60 213.95h2.48v2.26h-2.48zM43.34 213.95h2.48v2.26h-2.48zM152.97 213.95h2.48v2.26h-2.48zM57.05 216.46h2.48v2.26h-2.48zM78.97 216.46h2.48v2.26h-2.48zM95.42 216.46h2.48v2.26h-2.48zM117.34 216.46h2.48v2.26h-2.48zM26.90 218.96h2.48v2.26h-2.48zM59.79 218.96h2.48v2.26h-2.48zM92.68 218.96h2.48v2.26h-2.48zM131.05 221.46h2.48v2.26h-2.48zM150.23 221.46h2.48v2.26h-2.48zM70.75 223.96h2.48v2.26h-2.48zM98.16 223.96h2.48v2.26h-2.48zM139.27 223.96h2.48v2.26h-2.48zM48.83 226.46h2.48v2.26h-2.48zM65.27 226.46h2.48v2.26h-2.48zM89.94 226.46h2.48v2.26h-2.48zM144.75 226.46h2.48v2.26h-2.48zM163.94 226.46h2.48v2.26h-2.48zM65.27 228.97h2.48v2.26h-2.48zM73.49 228.97h2.48v2.26h-2.48zM81.71 228.97h2.48v2.26h-2.48zM150.23 228.97h2.48v2.26h-2.48zM163.94 228.97h2.48v2.26h-2.48zM92.68 231.47h2.48v2.26h-2.48zM122.83 231.47h2.48v2.26h-2.48zM133.79 231.47h2.48v2.26h-2.48zM161.20 231.47h2.48v2.26h-2.48zM29.64 233.97h2.48v2.26h-2.48zM43.34 233.97h2.48v2.26h-2.48zM46.09 233.97h2.48v2.26h-2.48zM51.57 233.97h2.48v2.26h-2.48zM87.20 233.97h2.48v2.26h-2.48zM89.94 233.97h2.48v2.26h-2.48zM92.68 233.97h2.48v2.26h-2.48zM155.71 233.97h2.48v2.26h-2.48zM65.27 236.47h2.48v2.26h-2.48zM70.75 236.47h2.48v2.26h-2.48zM150.23 236.47h2.48v2.26h-2.48zM32.38 238.97h2.48v2.26h-2.48zM46.09 238.97h2.48v2.26h-2.48zM76.23 238.97h2.48v2.26h-2.48zM89.94 238.97h2.48v2.26h-2.48zM100.90 238.97h2.48v2.26h-2.48zM152.97 238.97h2.48v2.26h-2.48zM43.34 241.48h2.48v2.26h-2.48zM73.49 241.48h2.48v2.26h-2.48zM133.79 241.48h2.48v2.26h-2.48zM155.71 246.48h2.48v2.26h-2.48zM32.38 248.98h2.48v2.26h-2.48zM46.09 248.98h2.48v2.26h-2.48zM54.31 248.98h2.48v2.26h-2.48zM158.46 248.98h2.48v2.26h-2.48zM51.57 251.48h2.48v2.26h-2.48zM125.57 251.48h2.48v2.26h-2.48zM32.38 253.99h2.48v2.26h-2.48zM48.83 253.99h2.48v2.26h-2.48zM54.31 253.99h2.48v2.26h-2.48zM65.27 253.99h2.48v2.26h-2.48zM111.86 253.99h2.48v2.26h-2.48zM32.38 256.49h2.48v2.26h-2.48zM100.90 256.49h2.48v2.26h-2.48zM136.53 256.49h2.48v2.26h-2.48zM169.42 256.49h2.48v2.26h-2.48zM68.01 258.99h2.48v2.26h-2.48zM37.86 261.49h2.48v2.26h-2.48zM92.68 261.49h2.48v2.26h-2.48zM95.42 261.49h2.48v2.26h-2.48zM98.16 261.49h2.48v2.26h-2.48zM133.79 261.49h2.48v2.26h-2.48zM166.68 261.49h2.48v2.26h-2.48zM35.12 263.99h2.48v2.26h-2.48zM48.83 263.99h2.48v2.26h-2.48zM106.38 263.99h2.48v2.26h-2.48zM43.34 266.50h2.48v2.26h-2.48zM54.31 266.50h2.48v2.26h-2.48zM65.27 266.50h2.48v2.26h-2.48zM68.01 266.50h2.48v2.26h-2.48zM150.23 266.50h2.48v2.26h-2.48zM95.42 269.00h2.48v2.26h-2.48zM147.49 269.00h2.48v2.26h-2.48zM152.97 269.00h2.48v2.26h-2.48zM158.46 269.00h2.48v2.26h-2.48z"/><path fill="#e25c6c" d="M37.86 146.40h2.48v2.26h-2.48zM78.97 146.40h2.48v2.26h-2.48zM35.12 148.90h2.48v2.26h-2.48zM89.94 148.90h2.48v2.26h-2.48zM172.16 148.90h2.48v2.26h-2.48zM35.12 153.91h2.48v2.26h-2.48zM95.42 153.91h2.48v2.26h-2.48zM169.42 153.91h2.48v2.26h-2.48zM142.01 156.41h2.48v2.26h-2.48zM166.68 156.41h2.48v2.26h-2.48zM35.12 158.91h2.48v2.26h-2.48zM158.46 158.91h2.48v2.26h-2.48zM29.64 161.41h2.48v2.26h-2.48zM32.38 163.91h2.48v2.26h-2.48zM158.46 163.91h2.48v2.26h-2.48zM89.94 166.42h2.48v2.26h-2.48zM95.42 166.42h2.48v2.26h-2.48zM120.09 166.42h2.48v2.26h-2.48zM169.42 166.42h2.48v2.26h-2.48zM172.16 166.42h2.48v2.26h-2.48zM32.38 171.42h2.48v2.26h-2.48zM100.90 171.42h2.48v2.26h-2.48zM51.57 173.92h2.48v2.26h-2.48zM59.79 176.42h2.48v2.26h-2.48zM155.71 178.93h2.48v2.26h-2.48zM150.23 181.43h2.48v2.26h-2.48zM51.57 183.93h2.48v2.26h-2.48zM40.60 186.43h2.48v2.26h-2.48zM81.71 186.43h2.48v2.26h-2.48zM98.16 186.43h2.48v2.26h-2.48zM122.83 186.43h2.48v2.26h-2.48zM155.71 186.43h2.48v2.26h-2.48zM54.31 196.44h2.48v2.26h-2.48zM106.38 196.44h2.48v2.26h-2.48zM152.97 196.44h2.48v2.26h-2.48zM40.60 198.94h2.48v2.26h-2.48zM95.42 198.94h2.48v2.26h-2.48zM29.64 201.44h2.48v2.26h-2.48zM46.09 208.95h2.48v2.26h-2.48zM87.20 208.95h2.48v2.26h-2.48zM109.12 208.95h2.48v2.26h-2.48zM65.27 211.45h2.48v2.26h-2.48zM150.23 213.95h2.48v2.26h-2.48zM166.68 213.95h2.48v2.26h-2.48zM46.09 216.46h2.48v2.26h-2.48zM51.57 216.46h2.48v2.26h-2.48zM98.16 216.46h2.48v2.26h-2.48zM152.97 218.96h2.48v2.26h-2.48zM46.09 221.46h2.48v2.26h-2.48zM51.57 221.46h2.48v2.26h-2.48zM142.01 221.46h2.48v2.26h-2.48zM172.16 223.96h2.48v2.26h-2.48zM46.09 226.46h2.48v2.26h-2.48zM169.42 226.46h2.48v2.26h-2.48zM139.27 228.97h2.48v2.26h-2.48zM32.38 231.47h2.48v2.26h-2.48zM43.34 231.47h2.48v2.26h-2.48zM87.20 231.47h2.48v2.26h-2.48zM98.16 231.47h2.48v2.26h-2.48zM155.71 231.47h2.48v2.26h-2.48zM169.42 231.47h2.48v2.26h-2.48zM48.83 233.97h2.48v2.26h-2.48zM103.64 238.97h2.48v2.26h-2.48zM109.12 238.97h2.48v2.26h-2.48zM158.46 238.97h2.48v2.26h-2.48zM161.20 238.97h2.48v2.26h-2.48zM169.42 238.97h2.48v2.26h-2.48zM84.46 243.98h2.48v2.26h-2.48zM95.42 243.98h2.48v2.26h-2.48zM147.49 243.98h2.48v2.26h-2.48zM161.20 246.48h2.48v2.26h-2.48zM92.68 248.98h2.48v2.26h-2.48zM122.83 248.98h2.48v2.26h-2.48zM131.05 248.98h2.48v2.26h-2.48zM147.49 248.98h2.48v2.26h-2.48zM62.53 251.48h2.48v2.26h-2.48zM92.68 251.48h2.48v2.26h-2.48zM95.42 251.48h2.48v2.26h-2.48zM122.83 251.48h2.48v2.26h-2.48zM163.94 251.48h2.48v2.26h-2.48zM29.64 253.99h2.48v2.26h-2.48zM43.34 253.99h2.48v2.26h-2.48zM152.97 253.99h2.48v2.26h-2.48zM166.68 253.99h2.48v2.26h-2.48zM26.90 256.49h2.48v2.26h-2.48zM89.94 256.49h2.48v2.26h-2.48zM81.71 258.99h2.48v2.26h-2.48zM84.46 258.99h2.48v2.26h-2.48zM128.31 258.99h2.48v2.26h-2.48zM133.79 258.99h2.48v2.26h-2.48zM142.01 258.99h2.48v2.26h-2.48zM26.90 261.49h2.48v2.26h-2.48zM51.57 261.49h2.48v2.26h-2.48zM62.53 261.49h2.48v2.26h-2.48zM87.20 261.49h2.48v2.26h-2.48zM122.83 261.49h2.48v2.26h-2.48zM169.42 261.49h2.48v2.26h-2.48zM51.57 263.99h2.48v2.26h-2.48zM57.05 263.99h2.48v2.26h-2.48zM62.53 263.99h2.48v2.26h-2.48zM109.12 263.99h2.48v2.26h-2.48zM57.05 266.50h2.48v2.26h-2.48zM111.86 266.50h2.48v2.26h-2.48zM139.27 266.50h2.48v2.26h-2.48zM40.60 269.00h2.48v2.26h-2.48zM59.79 269.00h2.48v2.26h-2.48zM87.20 269.00h2.48v2.26h-2.48zM163.94 269.00h2.48v2.26h-2.48z"/><path fill="#ea8090" d="M152.97 146.40h2.48v2.26h-2.48zM48.83 148.90h2.48v2.26h-2.48zM81.71 148.90h2.48v2.26h-2.48zM139.27 148.90h2.48v2.26h-2.48zM142.01 148.90h2.48v2.26h-2.48zM150.23 148.90h2.48v2.26h-2.48zM95.42 151.40h2.48v2.26h-2.48zM128.31 151.40h2.48v2.26h-2.48zM163.94 151.40h2.48v2.26h-2.48zM166.68 151.40h2.48v2.26h-2.48zM37.86 153.91h2.48v2.26h-2.48zM98.16 153.91h2.48v2.26h-2.48zM136.53 153.91h2.48v2.26h-2.48zM144.75 153.91h2.48v2.26h-2.48zM150.23 153.91h2.48v2.26h-2.48zM163.94 153.91h2.48v2.26h-2.48zM51.57 156.41h2.48v2.26h-2.48zM59.79 156.41h2.48v2.26h-2.48zM95.42 156.41h2.48v2.26h-2.48zM172.16 156.41h2.48v2.26h-2.48zM92.68 158.91h2.48v2.26h-2.48zM100.90 158.91h2.48v2.26h-2.48zM106.38 158.91h2.48v2.26h-2.48zM114.60 158.91h2.48v2.26h-2.48zM150.23 158.91h2.48v2.26h-2.48zM144.75 161.41h2.48v2.26h-2.48zM109.12 163.91h2.48v2.26h-2.48zM166.68 163.91h2.48v2.26h-2.48zM172.16 163.91h2.48v2.26h-2.48zM35.12 166.42h2.48v2.26h-2.48zM100.90 166.42h2.48v2.26h-2.48zM106.38 168.92h2.48v2.26h-2.48zM150.23 168.92h2.48v2.26h-2.48zM155.71 168.92h2.48v2.26h-2.48zM161.20 168.92h2.48v2.26h-2.48zM40.60 171.42h2.48v2.26h-2.48zM98.16 171.42h2.48v2.26h-2.48zM155.71 171.42h2.48v2.26h-2.48zM32.38 173.92h2.48v2.26h-2.48zM103.64 173.92h2.48v2.26h-2.48zM109.12 173.92h2.48v2.26h-2.48zM142.01 173.92h2.48v2.26h-2.48zM106.38 176.42h2.48v2.26h-2.48zM152.97 176.42h2.48v2.26h-2.48zM155.71 176.42h2.48v2.26h-2.48zM68.01 178.93h2.48v2.26h-2.48zM68.01 181.43h2.48v2.26h-2.48zM103.64 181.43h2.48v2.26h-2.48zM106.38 181.43h2.48v2.26h-2.48zM152.97 181.43h2.48v2.26h-2.48zM35.12 186.43h2.48v2.26h-2.48zM70.75 186.43h2.48v2.26h-2.48zM139.27 186.43h2.48v2.26h-2.48zM109.12 191.44h2.48v2.26h-2.48zM65.27 193.94h2.48v2.26h-2.48zM92.68 193.94h2.48v2.26h-2.48zM95.42 193.94h2.48v2.26h-2.48zM122.83 193.94h2.48v2.26h-2.48zM26.90 196.44h2.48v2.26h-2.48zM32.38 196.44h2.48v2.26h-2.48zM147.49 196.44h2.48v2.26h-2.48zM89.94 198.94h2.48v2.26h-2.48zM117.34 198.94h2.48v2.26h-2.48zM155.71 198.94h2.48v2.26h-2.48zM158.46 198.94h2.48v2.26h-2.48zM35.12 201.44h2.48v2.26h-2.48zM70.75 201.44h2.48v2.26h-2.48zM114.60 201.44h2.48v2.26h-2.48zM117.34 201.44h2.48v2.26h-2.48zM172.16 201.44h2.48v2.26h-2.48zM26.90 203.95h2.48v2.26h-2.48zM32.38 203.95h2.48v2.26h-2.48zM51.57 206.45h2.48v2.26h-2.48zM54.31 206.45h2.48v2.26h-2.48zM68.01 206.45h2.48v2.26h-2.48zM76.23 206.45h2.48v2.26h-2.48zM103.64 206.45h2.48v2.26h-2.48zM106.38 206.45h2.48v2.26h-2.48zM114.60 206.45h2.48v2.26h-2.48zM136.53 208.95h2.48v2.26h-2.48zM163.94 208.95h2.48v2.26h-2.48zM169.42 208.95h2.48v2.26h-2.48zM89.94 211.45h2.48v2.26h-2.48zM70.75 213.95h2.48v2.26h-2.48zM131.05 213.95h2.48v2.26h-2.48zM155.71 213.95h2.48v2.26h-2.48zM29.64 216.46h2.48v2.26h-2.48zM106.38 216.46h2.48v2.26h-2.48zM54.31 218.96h2.48v2.26h-2.48zM98.16 218.96h2.48v2.26h-2.48zM120.09 218.96h2.48v2.26h-2.48zM125.57 218.96h2.48v2.26h-2.48zM48.83 221.46h2.48v2.26h-2.48zM35.12 223.96h2.48v2.26h-2.48zM122.83 223.96h2.48v2.26h-2.48zM163.94 223.96h2.48v2.26h-2.48zM169.42 223.96h2.48v2.26h-2.48zM172.16 226.46h2.48v2.26h-2.48zM43.34 228.97h2.48v2.26h-2.48zM169.42 228.97h2.48v2.26h-2.48zM84.46 231.47h2.48v2.26h-2.48zM172.16 231.47h2.48v2.26h-2.48zM98.16 233.97h2.48v2.26h-2.48zM139.27 233.97h2.48v2.26h-2.48zM147.49 233.97h2.48v2.26h-2.48zM81.71 236.47h2.48v2.26h-2.48zM152.97 236.47h2.48v2.26h-2.48zM169.42 236.47h2.48v2.26h-2.48zM29.64 238.97h2.48v2.26h-2.48zM26.90 241.48h2.48v2.26h-2.48zM48.83 241.48h2.48v2.26h-2.48zM81.71 241.48h2.48v2.26h-2.48zM87.20 241.48h2.48v2.26h-2.48zM172.16 241.48h2.48v2.26h-2.48zM40.60 243.98h2.48v2.26h-2.48zM100.90 243.98h2.48v2.26h-2.48zM120.09 243.98h2.48v2.26h-2.48zM136.53 243.98h2.48v2.26h-2.48zM166.68 243.98h2.48v2.26h-2.48zM169.42 243.98h2.48v2.26h-2.48zM37.86 246.48h2.48v2.26h-2.48zM48.83 246.48h2.48v2.26h-2.48zM51.57 246.48h2.48v2.26h-2.48zM70.75 246.48h2.48v2.26h-2.48zM95.42 246.48h2.48v2.26h-2.48zM125.57 248.98h2.48v2.26h-2.48zM150.23 248.98h2.48v2.26h-2.48zM169.42 248.98h2.48v2.26h-2.48zM43.34 251.48h2.48v2.26h-2.48zM76.23 251.48h2.48v2.26h-2.48zM161.20 253.99h2.48v2.26h-2.48zM84.46 256.49h2.48v2.26h-2.48zM111.86 256.49h2.48v2.26h-2.48zM87.20 258.99h2.48v2.26h-2.48zM106.38 258.99h2.48v2.26h-2.48zM131.05 258.99h2.48v2.26h-2.48zM158.46 258.99h2.48v2.26h-2.48zM161.20 258.99h2.48v2.26h-2.48zM43.34 261.49h2.48v2.26h-2.48zM89.94 261.49h2.48v2.26h-2.48zM54.31 263.99h2.48v2.26h-2.48zM59.79 263.99h2.48v2.26h-2.48zM84.46 263.99h2.48v2.26h-2.48zM92.68 263.99h2.48v2.26h-2.48zM103.64 263.99h2.48v2.26h-2.48zM117.34 263.99h2.48v2.26h-2.48zM136.53 263.99h2.48v2.26h-2.48zM139.27 263.99h2.48v2.26h-2.48zM144.75 263.99h2.48v2.26h-2.48zM40.60 266.50h2.48v2.26h-2.48zM48.83 266.50h2.48v2.26h-2.48zM106.38 266.50h2.48v2.26h-2.48zM114.60 266.50h2.48v2.26h-2.48zM117.34 266.50h2.48v2.26h-2.48zM131.05 266.50h2.48v2.26h-2.48zM147.49 266.50h2.48v2.26h-2.48zM152.97 266.50h2.48v2.26h-2.48zM169.42 266.50h2.48v2.26h-2.48zM54.31 269.00h2.48v2.26h-2.48zM122.83 269.00h2.48v2.26h-2.48zM136.53 269.00h2.48v2.26h-2.48zM166.68 269.00h2.48v2.26h-2.48z"/><path fill="#e2282c" d="M174.90 146.40h2.39v2.26h-2.39zM182.86 146.40h2.39v2.26h-2.39zM185.51 146.40h2.39v2.26h-2.39zM190.82 146.40h2.39v2.26h-2.39zM204.09 146.40h2.39v2.26h-2.39zM177.55 148.90h2.39v2.26h-2.39zM193.47 148.90h2.39v2.26h-2.39zM196.13 148.90h2.39v2.26h-2.39zM206.74 148.90h2.39v2.26h-2.39zM174.90 151.40h2.39v2.26h-2.39zM177.55 151.40h2.39v2.26h-2.39zM185.51 151.40h2.39v2.26h-2.39zM190.82 151.40h2.39v2.26h-2.39zM193.47 151.40h2.39v2.26h-2.39zM206.74 151.40h2.39v2.26h-2.39zM212.05 151.40h2.39v2.26h-2.39zM177.55 153.91h2.39v2.26h-2.39zM185.51 153.91h2.39v2.26h-2.39zM196.13 153.91h2.39v2.26h-2.39zM201.43 153.91h2.39v2.26h-2.39zM212.05 153.91h2.39v2.26h-2.39zM174.90 156.41h2.39v2.26h-2.39zM180.21 156.41h2.39v2.26h-2.39zM185.51 156.41h2.39v2.26h-2.39zM193.47 156.41h2.39v2.26h-2.39zM198.78 156.41h2.39v2.26h-2.39zM204.09 156.41h2.39v2.26h-2.39zM209.39 156.41h2.39v2.26h-2.39zM174.90 158.91h2.39v2.26h-2.39zM212.05 158.91h2.39v2.26h-2.39zM177.55 161.41h2.39v2.26h-2.39zM188.17 161.41h2.39v2.26h-2.39zM190.82 161.41h2.39v2.26h-2.39zM190.82 163.91h2.39v2.26h-2.39zM198.78 163.91h2.39v2.26h-2.39zM212.05 163.91h2.39v2.26h-2.39zM180.21 166.42h2.39v2.26h-2.39zM193.47 166.42h2.39v2.26h-2.39zM196.13 166.42h2.39v2.26h-2.39zM204.09 166.42h2.39v2.26h-2.39zM180.21 168.92h2.39v2.26h-2.39zM190.82 168.92h2.39v2.26h-2.39zM198.78 168.92h2.39v2.26h-2.39zM201.43 168.92h2.39v2.26h-2.39zM204.09 168.92h2.39v2.26h-2.39zM209.39 168.92h2.39v2.26h-2.39zM174.90 171.42h2.39v2.26h-2.39zM177.55 171.42h2.39v2.26h-2.39zM180.21 171.42h2.39v2.26h-2.39zM196.13 171.42h2.39v2.26h-2.39zM201.43 171.42h2.39v2.26h-2.39zM204.09 171.42h2.39v2.26h-2.39zM206.74 171.42h2.39v2.26h-2.39zM212.05 171.42h2.39v2.26h-2.39zM177.55 173.92h2.39v2.26h-2.39zM180.21 173.92h2.39v2.26h-2.39zM182.86 173.92h2.39v2.26h-2.39zM196.13 173.92h2.39v2.26h-2.39zM201.43 173.92h2.39v2.26h-2.39zM206.74 173.92h2.39v2.26h-2.39zM209.39 173.92h2.39v2.26h-2.39zM180.21 176.42h2.39v2.26h-2.39zM190.82 176.42h2.39v2.26h-2.39zM193.47 176.42h2.39v2.26h-2.39zM201.43 176.42h2.39v2.26h-2.39zM206.74 176.42h2.39v2.26h-2.39zM212.05 176.42h2.39v2.26h-2.39zM182.86 178.93h2.39v2.26h-2.39zM185.51 178.93h2.39v2.26h-2.39zM188.17 178.93h2.39v2.26h-2.39zM190.82 178.93h2.39v2.26h-2.39zM212.05 178.93h2.39v2.26h-2.39zM185.51 181.43h2.39v2.26h-2.39zM190.82 181.43h2.39v2.26h-2.39zM201.43 181.43h2.39v2.26h-2.39zM204.09 181.43h2.39v2.26h-2.39zM174.90 183.93h2.39v2.26h-2.39zM193.47 183.93h2.39v2.26h-2.39zM177.55 186.43h2.39v2.26h-2.39zM201.43 186.43h2.39v2.26h-2.39zM204.09 186.43h2.39v2.26h-2.39zM206.74 186.43h2.39v2.26h-2.39zM174.90 188.93h2.39v2.26h-2.39zM177.55 188.93h2.39v2.26h-2.39zM180.21 188.93h2.39v2.26h-2.39zM185.51 188.93h2.39v2.26h-2.39zM190.82 188.93h2.39v2.26h-2.39zM193.47 188.93h2.39v2.26h-2.39zM196.13 188.93h2.39v2.26h-2.39zM201.43 188.93h2.39v2.26h-2.39zM212.05 188.93h2.39v2.26h-2.39zM174.90 191.44h2.39v2.26h-2.39zM177.55 191.44h2.39v2.26h-2.39zM180.21 191.44h2.39v2.26h-2.39zM188.17 191.44h2.39v2.26h-2.39zM174.90 193.94h2.39v2.26h-2.39zM180.21 193.94h2.39v2.26h-2.39zM185.51 193.94h2.39v2.26h-2.39zM193.47 193.94h2.39v2.26h-2.39zM209.39 193.94h2.39v2.26h-2.39zM177.55 196.44h2.39v2.26h-2.39zM182.86 196.44h2.39v2.26h-2.39zM185.51 196.44h2.39v2.26h-2.39zM198.78 196.44h2.39v2.26h-2.39zM201.43 196.44h2.39v2.26h-2.39zM198.78 198.94h2.39v2.26h-2.39zM204.09 198.94h2.39v2.26h-2.39zM209.39 198.94h2.39v2.26h-2.39zM188.17 201.44h2.39v2.26h-2.39zM196.13 201.44h2.39v2.26h-2.39zM201.43 201.44h2.39v2.26h-2.39zM212.05 201.44h2.39v2.26h-2.39zM177.55 203.95h2.39v2.26h-2.39zM182.86 203.95h2.39v2.26h-2.39zM193.47 203.95h2.39v2.26h-2.39zM196.13 203.95h2.39v2.26h-2.39zM198.78 203.95h2.39v2.26h-2.39zM209.39 203.95h2.39v2.26h-2.39zM212.05 203.95h2.39v2.26h-2.39zM180.21 206.45h2.39v2.26h-2.39zM198.78 206.45h2.39v2.26h-2.39zM204.09 206.45h2.39v2.26h-2.39zM206.74 206.45h2.39v2.26h-2.39zM209.39 206.45h2.39v2.26h-2.39zM174.90 208.95h2.39v2.26h-2.39zM177.55 208.95h2.39v2.26h-2.39zM188.17 208.95h2.39v2.26h-2.39zM190.82 208.95h2.39v2.26h-2.39zM209.39 208.95h2.39v2.26h-2.39zM180.21 211.45h2.39v2.26h-2.39zM190.82 211.45h2.39v2.26h-2.39zM206.74 211.45h2.39v2.26h-2.39zM212.05 211.45h2.39v2.26h-2.39zM196.13 213.95h2.39v2.26h-2.39zM201.43 213.95h2.39v2.26h-2.39zM206.74 213.95h2.39v2.26h-2.39zM174.90 216.46h2.39v2.26h-2.39zM185.51 216.46h2.39v2.26h-2.39zM188.17 216.46h2.39v2.26h-2.39zM198.78 216.46h2.39v2.26h-2.39zM204.09 216.46h2.39v2.26h-2.39zM206.74 216.46h2.39v2.26h-2.39zM209.39 216.46h2.39v2.26h-2.39zM174.90 218.96h2.39v2.26h-2.39zM177.55 221.46h2.39v2.26h-2.39zM182.86 221.46h2.39v2.26h-2.39zM196.13 221.46h2.39v2.26h-2.39zM198.78 221.46h2.39v2.26h-2.39zM201.43 221.46h2.39v2.26h-2.39zM206.74 221.46h2.39v2.26h-2.39zM188.17 223.96h2.39v2.26h-2.39zM198.78 223.96h2.39v2.26h-2.39zM209.39 223.96h2.39v2.26h-2.39zM212.05 223.96h2.39v2.26h-2.39zM188.17 226.46h2.39v2.26h-2.39zM198.78 226.46h2.39v2.26h-2.39zM204.09 226.46h2.39v2.26h-2.39zM209.39 226.46h2.39v2.26h-2.39zM190.82 228.97h2.39v2.26h-2.39zM196.13 228.97h2.39v2.26h-2.39zM190.82 231.47h2.39v2.26h-2.39zM196.13 231.47h2.39v2.26h-2.39zM198.78 231.47h2.39v2.26h-2.39zM201.43 231.47h2.39v2.26h-2.39zM212.05 231.47h2.39v2.26h-2.39zM174.90 233.97h2.39v2.26h-2.39zM188.17 233.97h2.39v2.26h-2.39zM204.09 233.97h2.39v2.26h-2.39zM193.47 236.47h2.39v2.26h-2.39zM196.13 236.47h2.39v2.26h-2.39zM201.43 236.47h2.39v2.26h-2.39zM209.39 236.47h2.39v2.26h-2.39zM174.90 238.97h2.39v2.26h-2.39zM190.82 238.97h2.39v2.26h-2.39zM193.47 238.97h2.39v2.26h-2.39zM206.74 238.97h2.39v2.26h-2.39zM209.39 238.97h2.39v2.26h-2.39zM177.55 241.48h2.39v2.26h-2.39zM180.21 241.48h2.39v2.26h-2.39zM190.82 241.48h2.39v2.26h-2.39zM196.13 241.48h2.39v2.26h-2.39zM206.74 241.48h2.39v2.26h-2.39zM180.21 243.98h2.39v2.26h-2.39zM188.17 243.98h2.39v2.26h-2.39zM198.78 243.98h2.39v2.26h-2.39zM201.43 243.98h2.39v2.26h-2.39zM177.55 246.48h2.39v2.26h-2.39zM188.17 246.48h2.39v2.26h-2.39zM190.82 246.48h2.39v2.26h-2.39zM198.78 246.48h2.39v2.26h-2.39zM206.74 246.48h2.39v2.26h-2.39zM188.17 248.98h2.39v2.26h-2.39zM190.82 248.98h2.39v2.26h-2.39zM209.39 248.98h2.39v2.26h-2.39zM177.55 251.48h2.39v2.26h-2.39zM180.21 251.48h2.39v2.26h-2.39zM182.86 251.48h2.39v2.26h-2.39zM206.74 251.48h2.39v2.26h-2.39zM209.39 251.48h2.39v2.26h-2.39zM180.21 253.99h2.39v2.26h-2.39zM182.86 253.99h2.39v2.26h-2.39zM193.47 253.99h2.39v2.26h-2.39zM198.78 253.99h2.39v2.26h-2.39zM201.43 253.99h2.39v2.26h-2.39zM204.09 253.99h2.39v2.26h-2.39zM177.55 256.49h2.39v2.26h-2.39zM188.17 256.49h2.39v2.26h-2.39zM198.78 256.49h2.39v2.26h-2.39zM180.21 258.99h2.39v2.26h-2.39zM185.51 258.99h2.39v2.26h-2.39zM193.47 258.99h2.39v2.26h-2.39zM198.78 258.99h2.39v2.26h-2.39zM209.39 258.99h2.39v2.26h-2.39zM177.55 261.49h2.39v2.26h-2.39zM182.86 261.49h2.39v2.26h-2.39zM188.17 261.49h2.39v2.26h-2.39zM206.74 261.49h2.39v2.26h-2.39zM209.39 261.49h2.39v2.26h-2.39zM212.05 261.49h2.39v2.26h-2.39zM198.78 263.99h2.39v2.26h-2.39zM196.13 266.50h2.39v2.26h-2.39zM198.78 266.50h2.39v2.26h-2.39zM177.55 269.00h2.39v2.26h-2.39zM185.51 269.00h2.39v2.26h-2.39zM201.43 269.00h2.39v2.26h-2.39z"/><path fill="#d01012" d="M177.55 146.40h2.39v2.26h-2.39zM188.17 146.40h2.39v2.26h-2.39zM196.13 146.40h2.39v2.26h-2.39zM198.78 146.40h2.39v2.26h-2.39zM201.43 146.40h2.39v2.26h-2.39zM174.90 148.90h2.39v2.26h-2.39zM180.21 148.90h2.39v2.26h-2.39zM182.86 148.90h2.39v2.26h-2.39zM188.17 148.90h2.39v2.26h-2.39zM190.82 148.90h2.39v2.26h-2.39zM198.78 148.90h2.39v2.26h-2.39zM204.09 148.90h2.39v2.26h-2.39zM209.39 148.90h2.39v2.26h-2.39zM212.05 148.90h2.39v2.26h-2.39zM180.21 151.40h2.39v2.26h-2.39zM182.86 151.40h2.39v2.26h-2.39zM188.17 151.40h2.39v2.26h-2.39zM198.78 151.40h2.39v2.26h-2.39zM201.43 151.40h2.39v2.26h-2.39zM204.09 151.40h2.39v2.26h-2.39zM209.39 151.40h2.39v2.26h-2.39zM174.90 153.91h2.39v2.26h-2.39zM180.21 153.91h2.39v2.26h-2.39zM182.86 153.91h2.39v2.26h-2.39zM188.17 153.91h2.39v2.26h-2.39zM190.82 153.91h2.39v2.26h-2.39zM193.47 153.91h2.39v2.26h-2.39zM177.55 156.41h2.39v2.26h-2.39zM182.86 156.41h2.39v2.26h-2.39zM188.17 156.41h2.39v2.26h-2.39zM190.82 156.41h2.39v2.26h-2.39zM196.13 156.41h2.39v2.26h-2.39zM201.43 156.41h2.39v2.26h-2.39zM212.05 156.41h2.39v2.26h-2.39zM177.55 158.91h2.39v2.26h-2.39zM180.21 158.91h2.39v2.26h-2.39zM182.86 158.91h2.39v2.26h-2.39zM185.51 158.91h2.39v2.26h-2.39zM190.82 158.91h2.39v2.26h-2.39zM193.47 158.91h2.39v2.26h-2.39zM198.78 158.91h2.39v2.26h-2.39zM201.43 158.91h2.39v2.26h-2.39zM204.09 158.91h2.39v2.26h-2.39zM206.74 158.91h2.39v2.26h-2.39zM209.39 158.91h2.39v2.26h-2.39zM180.21 161.41h2.39v2.26h-2.39zM193.47 161.41h2.39v2.26h-2.39zM196.13 161.41h2.39v2.26h-2.39zM198.78 161.41h2.39v2.26h-2.39zM201.43 161.41h2.39v2.26h-2.39zM204.09 161.41h2.39v2.26h-2.39zM206.74 161.41h2.39v2.26h-2.39zM180.21 163.91h2.39v2.26h-2.39zM182.86 163.91h2.39v2.26h-2.39zM193.47 163.91h2.39v2.26h-2.39zM196.13 163.91h2.39v2.26h-2.39zM201.43 163.91h2.39v2.26h-2.39zM174.90 166.42h2.39v2.26h-2.39zM177.55 166.42h2.39v2.26h-2.39zM182.86 166.42h2.39v2.26h-2.39zM185.51 166.42h2.39v2.26h-2.39zM188.17 166.42h2.39v2.26h-2.39zM190.82 166.42h2.39v2.26h-2.39zM198.78 166.42h2.39v2.26h-2.39zM201.43 166.42h2.39v2.26h-2.39zM209.39 166.42h2.39v2.26h-2.39zM212.05 166.42h2.39v2.26h-2.39zM174.90 168.92h2.39v2.26h-2.39zM177.55 168.92h2.39v2.26h-2.39zM196.13 168.92h2.39v2.26h-2.39zM212.05 168.92h2.39v2.26h-2.39zM182.86 171.42h2.39v2.26h-2.39zM185.51 171.42h2.39v2.26h-2.39zM188.17 171.42h2.39v2.26h-2.39zM190.82 171.42h2.39v2.26h-2.39zM193.47 171.42h2.39v2.26h-2.39zM198.78 171.42h2.39v2.26h-2.39zM209.39 171.42h2.39v2.26h-2.39zM188.17 173.92h2.39v2.26h-2.39zM190.82 173.92h2.39v2.26h-2.39zM193.47 173.92h2.39v2.26h-2.39zM198.78 173.92h2.39v2.26h-2.39zM212.05 173.92h2.39v2.26h-2.39zM177.55 176.42h2.39v2.26h-2.39zM182.86 176.42h2.39v2.26h-2.39zM196.13 176.42h2.39v2.26h-2.39zM198.78 176.42h2.39v2.26h-2.39zM174.90 178.93h2.39v2.26h-2.39zM177.55 178.93h2.39v2.26h-2.39zM180.21 178.93h2.39v2.26h-2.39zM193.47 178.93h2.39v2.26h-2.39zM198.78 178.93h2.39v2.26h-2.39zM201.43 178.93h2.39v2.26h-2.39zM204.09 178.93h2.39v2.26h-2.39zM206.74 178.93h2.39v2.26h-2.39zM209.39 178.93h2.39v2.26h-2.39zM182.86 181.43h2.39v2.26h-2.39zM188.17 181.43h2.39v2.26h-2.39zM193.47 181.43h2.39v2.26h-2.39zM190.82 183.93h2.39v2.26h-2.39zM196.13 183.93h2.39v2.26h-2.39zM198.78 183.93h2.39v2.26h-2.39zM209.39 183.93h2.39v2.26h-2.39zM212.05 183.93h2.39v2.26h-2.39zM180.21 186.43h2.39v2.26h-2.39zM182.86 186.43h2.39v2.26h-2.39zM185.51 186.43h2.39v2.26h-2.39zM188.17 186.43h2.39v2.26h-2.39zM190.82 186.43h2.39v2.26h-2.39zM196.13 186.43h2.39v2.26h-2.39zM198.78 186.43h2.39v2.26h-2.39zM182.86 188.93h2.39v2.26h-2.39zM188.17 188.93h2.39v2.26h-2.39zM198.78 188.93h2.39v2.26h-2.39zM204.09 188.93h2.39v2.26h-2.39zM209.39 188.93h2.39v2.26h-2.39zM185.51 191.44h2.39v2.26h-2.39zM198.78 191.44h2.39v2.26h-2.39zM204.09 191.44h2.39v2.26h-2.39zM177.55 193.94h2.39v2.26h-2.39zM182.86 193.94h2.39v2.26h-2.39zM196.13 193.94h2.39v2.26h-2.39zM206.74 193.94h2.39v2.26h-2.39zM180.21 196.44h2.39v2.26h-2.39zM188.17 196.44h2.39v2.26h-2.39zM190.82 196.44h2.39v2.26h-2.39zM209.39 196.44h2.39v2.26h-2.39zM190.82 198.94h2.39v2.26h-2.39zM193.47 198.94h2.39v2.26h-2.39zM196.13 198.94h2.39v2.26h-2.39zM212.05 198.94h2.39v2.26h-2.39zM174.90 201.44h2.39v2.26h-2.39zM180.21 201.44h2.39v2.26h-2.39zM193.47 201.44h2.39v2.26h-2.39zM198.78 201.44h2.39v2.26h-2.39zM204.09 201.44h2.39v2.26h-2.39zM206.74 201.44h2.39v2.26h-2.39zM209.39 201.44h2.39v2.26h-2.39zM174.90 203.95h2.39v2.26h-2.39zM190.82 203.95h2.39v2.26h-2.39zM201.43 203.95h2.39v2.26h-2.39zM204.09 203.95h2.39v2.26h-2.39zM174.90 206.45h2.39v2.26h-2.39zM182.86 206.45h2.39v2.26h-2.39zM185.51 206.45h2.39v2.26h-2.39zM188.17 206.45h2.39v2.26h-2.39zM201.43 206.45h2.39v2.26h-2.39zM180.21 208.95h2.39v2.26h-2.39zM198.78 208.95h2.39v2.26h-2.39zM201.43 208.95h2.39v2.26h-2.39zM206.74 208.95h2.39v2.26h-2.39zM212.05 208.95h2.39v2.26h-2.39zM177.55 211.45h2.39v2.26h-2.39zM182.86 211.45h2.39v2.26h-2.39zM185.51 211.45h2.39v2.26h-2.39zM196.13 211.45h2.39v2.26h-2.39zM198.78 211.45h2.39v2.26h-2.39zM201.43 211.45h2.39v2.26h-2.39zM180.21 213.95h2.39v2.26h-2.39zM193.47 213.95h2.39v2.26h-2.39zM209.39 213.95h2.39v2.26h-2.39zM182.86 216.46h2.39v2.26h-2.39zM190.82 216.46h2.39v2.26h-2.39zM201.43 216.46h2.39v2.26h-2.39zM182.86 218.96h2.39v2.26h-2.39zM196.13 218.96h2.39v2.26h-2.39zM198.78 218.96h2.39v2.26h-2.39zM201.43 218.96h2.39v2.26h-2.39zM204.09 218.96h2.39v2.26h-2.39zM212.05 218.96h2.39v2.26h-2.39zM174.90 221.46h2.39v2.26h-2.39zM185.51 221.46h2.39v2.26h-2.39zM204.09 221.46h2.39v2.26h-2.39zM185.51 223.96h2.39v2.26h-2.39zM190.82 223.96h2.39v2.26h-2.39zM201.43 223.96h2.39v2.26h-2.39zM196.13 226.46h2.39v2.26h-2.39zM201.43 226.46h2.39v2.26h-2.39zM206.74 226.46h2.39v2.26h-2.39zM212.05 226.46h2.39v2.26h-2.39zM193.47 228.97h2.39v2.26h-2.39zM209.39 228.97h2.39v2.26h-2.39zM206.74 231.47h2.39v2.26h-2.39zM201.43 233.97h2.39v2.26h-2.39zM206.74 233.97h2.39v2.26h-2.39zM209.39 233.97h2.39v2.26h-2.39zM212.05 233.97h2.39v2.26h-2.39zM180.21 236.47h2.39v2.26h-2.39zM188.17 236.47h2.39v2.26h-2.39zM190.82 236.47h2.39v2.26h-2.39zM198.78 236.47h2.39v2.26h-2.39zM204.09 236.47h2.39v2.26h-2.39zM206.74 236.47h2.39v2.26h-2.39zM196.13 238.97h2.39v2.26h-2.39zM201.43 238.97h2.39v2.26h-2.39zM204.09 241.48h2.39v2.26h-2.39zM209.39 241.48h2.39v2.26h-2.39zM182.86 243.98h2.39v2.26h-2.39zM196.13 243.98h2.39v2.26h-2.39zM206.74 243.98h2.39v2.26h-2.39zM212.05 243.98h2.39v2.26h-2.39zM182.86 246.48h2.39v2.26h-2.39zM193.47 246.48h2.39v2.26h-2.39zM196.13 246.48h2.39v2.26h-2.39zM204.09 246.48h2.39v2.26h-2.39zM209.39 246.48h2.39v2.26h-2.39zM212.05 246.48h2.39v2.26h-2.39zM180.21 248.98h2.39v2.26h-2.39zM196.13 248.98h2.39v2.26h-2.39zM198.78 248.98h2.39v2.26h-2.39zM201.43 248.98h2.39v2.26h-2.39zM204.09 248.98h2.39v2.26h-2.39zM212.05 248.98h2.39v2.26h-2.39zM185.51 253.99h2.39v2.26h-2.39zM188.17 253.99h2.39v2.26h-2.39zM190.82 253.99h2.39v2.26h-2.39zM196.13 253.99h2.39v2.26h-2.39zM209.39 253.99h2.39v2.26h-2.39zM201.43 256.49h2.39v2.26h-2.39zM204.09 256.49h2.39v2.26h-2.39zM206.74 256.49h2.39v2.26h-2.39zM212.05 256.49h2.39v2.26h-2.39zM188.17 258.99h2.39v2.26h-2.39zM196.13 261.49h2.39v2.26h-2.39zM190.82 263.99h2.39v2.26h-2.39zM201.43 263.99h2.39v2.26h-2.39zM190.82 266.50h2.39v2.26h-2.39zM193.47 266.50h2.39v2.26h-2.39zM209.39 266.50h2.39v2.26h-2.39z"/><path fill="#ec5052" d="M180.21 146.40h2.39v2.26h-2.39zM193.47 146.40h2.39v2.26h-2.39zM209.39 146.40h2.39v2.26h-2.39zM185.51 148.90h2.39v2.26h-2.39zM201.43 148.90h2.39v2.26h-2.39zM198.78 153.91h2.39v2.26h-2.39zM204.09 153.91h2.39v2.26h-2.39zM209.39 153.91h2.39v2.26h-2.39zM206.74 156.41h2.39v2.26h-2.39zM174.90 161.41h2.39v2.26h-2.39zM209.39 161.41h2.39v2.26h-2.39zM212.05 161.41h2.39v2.26h-2.39zM177.55 163.91h2.39v2.26h-2.39zM185.51 163.91h2.39v2.26h-2.39zM204.09 163.91h2.39v2.26h-2.39zM182.86 168.92h2.39v2.26h-2.39zM185.51 168.92h2.39v2.26h-2.39zM206.74 168.92h2.39v2.26h-2.39zM174.90 173.92h2.39v2.26h-2.39zM204.09 173.92h2.39v2.26h-2.39zM185.51 176.42h2.39v2.26h-2.39zM204.09 176.42h2.39v2.26h-2.39zM209.39 176.42h2.39v2.26h-2.39zM196.13 178.93h2.39v2.26h-2.39zM180.21 181.43h2.39v2.26h-2.39zM212.05 181.43h2.39v2.26h-2.39zM185.51 183.93h2.39v2.26h-2.39zM188.17 183.93h2.39v2.26h-2.39zM193.47 186.43h2.39v2.26h-2.39zM190.82 191.44h2.39v2.26h-2.39zM201.43 191.44h2.39v2.26h-2.39zM206.74 191.44h2.39v2.26h-2.39zM212.05 191.44h2.39v2.26h-2.39zM198.78 193.94h2.39v2.26h-2.39zM201.43 193.94h2.39v2.26h-2.39zM193.47 196.44h2.39v2.26h-2.39zM204.09 196.44h2.39v2.26h-2.39zM206.74 196.44h2.39v2.26h-2.39zM174.90 198.94h2.39v2.26h-2.39zM180.21 198.94h2.39v2.26h-2.39zM182.86 198.94h2.39v2.26h-2.39zM188.17 198.94h2.39v2.26h-2.39zM201.43 198.94h2.39v2.26h-2.39zM206.74 198.94h2.39v2.26h-2.39zM177.55 201.44h2.39v2.26h-2.39zM182.86 201.44h2.39v2.26h-2.39zM180.21 203.95h2.39v2.26h-2.39zM188.17 203.95h2.39v2.26h-2.39zM177.55 206.45h2.39v2.26h-2.39zM190.82 206.45h2.39v2.26h-2.39zM193.47 208.95h2.39v2.26h-2.39zM174.90 211.45h2.39v2.26h-2.39zM204.09 211.45h2.39v2.26h-2.39zM209.39 211.45h2.39v2.26h-2.39zM177.55 213.95h2.39v2.26h-2.39zM185.51 213.95h2.39v2.26h-2.39zM190.82 213.95h2.39v2.26h-2.39zM204.09 213.95h2.39v2.26h-2.39zM212.05 213.95h2.39v2.26h-2.39zM177.55 216.46h2.39v2.26h-2.39zM196.13 216.46h2.39v2.26h-2.39zM177.55 218.96h2.39v2.26h-2.39zM188.17 218.96h2.39v2.26h-2.39zM190.82 218.96h2.39v2.26h-2.39zM206.74 218.96h2.39v2.26h-2.39zM180.21 221.46h2.39v2.26h-2.39zM190.82 221.46h2.39v2.26h-2.39zM193.47 221.46h2.39v2.26h-2.39zM212.05 221.46h2.39v2.26h-2.39zM174.90 223.96h2.39v2.26h-2.39zM177.55 223.96h2.39v2.26h-2.39zM180.21 223.96h2.39v2.26h-2.39zM193.47 223.96h2.39v2.26h-2.39zM196.13 223.96h2.39v2.26h-2.39zM204.09 223.96h2.39v2.26h-2.39zM174.90 226.46h2.39v2.26h-2.39zM180.21 226.46h2.39v2.26h-2.39zM182.86 226.46h2.39v2.26h-2.39zM190.82 226.46h2.39v2.26h-2.39zM201.43 228.97h2.39v2.26h-2.39zM206.74 228.97h2.39v2.26h-2.39zM212.05 228.97h2.39v2.26h-2.39zM193.47 231.47h2.39v2.26h-2.39zM204.09 231.47h2.39v2.26h-2.39zM193.47 233.97h2.39v2.26h-2.39zM198.78 233.97h2.39v2.26h-2.39zM182.86 236.47h2.39v2.26h-2.39zM185.51 236.47h2.39v2.26h-2.39zM212.05 236.47h2.39v2.26h-2.39zM182.86 238.97h2.39v2.26h-2.39zM198.78 238.97h2.39v2.26h-2.39zM204.09 238.97h2.39v2.26h-2.39zM182.86 241.48h2.39v2.26h-2.39zM193.47 241.48h2.39v2.26h-2.39zM198.78 241.48h2.39v2.26h-2.39zM201.43 241.48h2.39v2.26h-2.39zM185.51 243.98h2.39v2.26h-2.39zM209.39 243.98h2.39v2.26h-2.39zM174.90 246.48h2.39v2.26h-2.39zM174.90 248.98h2.39v2.26h-2.39zM177.55 248.98h2.39v2.26h-2.39zM193.47 248.98h2.39v2.26h-2.39zM206.74 248.98h2.39v2.26h-2.39zM185.51 251.48h2.39v2.26h-2.39zM190.82 251.48h2.39v2.26h-2.39zM201.43 251.48h2.39v2.26h-2.39zM204.09 251.48h2.39v2.26h-2.39zM212.05 251.48h2.39v2.26h-2.39zM174.90 253.99h2.39v2.26h-2.39zM177.55 253.99h2.39v2.26h-2.39zM190.82 256.49h2.39v2.26h-2.39zM196.13 256.49h2.39v2.26h-2.39zM209.39 256.49h2.39v2.26h-2.39zM174.90 258.99h2.39v2.26h-2.39zM177.55 258.99h2.39v2.26h-2.39zM201.43 258.99h2.39v2.26h-2.39zM180.21 261.49h2.39v2.26h-2.39zM185.51 261.49h2.39v2.26h-2.39zM190.82 261.49h2.39v2.26h-2.39zM198.78 261.49h2.39v2.26h-2.39zM201.43 261.49h2.39v2.26h-2.39zM204.09 261.49h2.39v2.26h-2.39zM188.17 263.99h2.39v2.26h-2.39zM193.47 263.99h2.39v2.26h-2.39zM196.13 263.99h2.39v2.26h-2.39zM206.74 263.99h2.39v2.26h-2.39zM209.39 263.99h2.39v2.26h-2.39zM185.51 266.50h2.39v2.26h-2.39zM188.17 266.50h2.39v2.26h-2.39zM204.09 266.50h2.39v2.26h-2.39zM174.90 269.00h2.39v2.26h-2.39zM182.86 269.00h2.39v2.26h-2.39zM190.82 269.00h2.39v2.26h-2.39zM198.78 269.00h2.39v2.26h-2.39zM206.74 269.00h2.39v2.26h-2.39z"/><path fill="#f07c7e" d="M206.74 146.40h2.39v2.26h-2.39zM206.74 153.91h2.39v2.26h-2.39zM188.17 163.91h2.39v2.26h-2.39zM206.74 163.91h2.39v2.26h-2.39zM188.17 168.92h2.39v2.26h-2.39zM185.51 173.92h2.39v2.26h-2.39zM174.90 176.42h2.39v2.26h-2.39zM188.17 176.42h2.39v2.26h-2.39zM174.90 181.43h2.39v2.26h-2.39zM206.74 181.43h2.39v2.26h-2.39zM177.55 183.93h2.39v2.26h-2.39zM201.43 183.93h2.39v2.26h-2.39zM206.74 183.93h2.39v2.26h-2.39zM174.90 186.43h2.39v2.26h-2.39zM209.39 186.43h2.39v2.26h-2.39zM182.86 191.44h2.39v2.26h-2.39zM209.39 191.44h2.39v2.26h-2.39zM188.17 193.94h2.39v2.26h-2.39zM204.09 193.94h2.39v2.26h-2.39zM212.05 193.94h2.39v2.26h-2.39zM174.90 196.44h2.39v2.26h-2.39zM177.55 198.94h2.39v2.26h-2.39zM185.51 201.44h2.39v2.26h-2.39zM190.82 201.44h2.39v2.26h-2.39zM193.47 206.45h2.39v2.26h-2.39zM212.05 206.45h2.39v2.26h-2.39zM204.09 208.95h2.39v2.26h-2.39zM188.17 211.45h2.39v2.26h-2.39zM193.47 216.46h2.39v2.26h-2.39zM212.05 216.46h2.39v2.26h-2.39zM180.21 218.96h2.39v2.26h-2.39zM185.51 218.96h2.39v2.26h-2.39zM193.47 218.96h2.39v2.26h-2.39zM209.39 221.46h2.39v2.26h-2.39zM182.86 223.96h2.39v2.26h-2.39zM206.74 223.96h2.39v2.26h-2.39zM177.55 226.46h2.39v2.26h-2.39zM193.47 226.46h2.39v2.26h-2.39zM188.17 228.97h2.39v2.26h-2.39zM177.55 231.47h2.39v2.26h-2.39zM209.39 231.47h2.39v2.26h-2.39zM177.55 238.97h2.39v2.26h-2.39zM180.21 238.97h2.39v2.26h-2.39zM212.05 238.97h2.39v2.26h-2.39zM174.90 241.48h2.39v2.26h-2.39zM174.90 243.98h2.39v2.26h-2.39zM190.82 243.98h2.39v2.26h-2.39zM193.47 243.98h2.39v2.26h-2.39zM204.09 243.98h2.39v2.26h-2.39zM185.51 246.48h2.39v2.26h-2.39zM201.43 246.48h2.39v2.26h-2.39zM174.90 251.48h2.39v2.26h-2.39zM193.47 251.48h2.39v2.26h-2.39zM196.13 251.48h2.39v2.26h-2.39zM174.90 256.49h2.39v2.26h-2.39zM180.21 256.49h2.39v2.26h-2.39zM185.51 256.49h2.39v2.26h-2.39zM182.86 258.99h2.39v2.26h-2.39zM190.82 258.99h2.39v2.26h-2.39zM196.13 258.99h2.39v2.26h-2.39zM212.05 258.99h2.39v2.26h-2.39zM193.47 261.49h2.39v2.26h-2.39zM174.90 263.99h2.39v2.26h-2.39zM204.09 263.99h2.39v2.26h-2.39zM177.55 266.50h2.39v2.26h-2.39zM180.21 266.50h2.39v2.26h-2.39zM204.09 269.00h2.39v2.26h-2.39z"/><path fill="#f4a0a4" d="M212.05 146.40h2.39v2.26h-2.39zM196.13 151.40h2.39v2.26h-2.39zM188.17 158.91h2.39v2.26h-2.39zM196.13 158.91h2.39v2.26h-2.39zM209.39 163.91h2.39v2.26h-2.39zM206.74 166.42h2.39v2.26h-2.39zM193.47 168.92h2.39v2.26h-2.39zM177.55 181.43h2.39v2.26h-2.39zM196.13 181.43h2.39v2.26h-2.39zM180.21 183.93h2.39v2.26h-2.39zM212.05 186.43h2.39v2.26h-2.39zM206.74 188.93h2.39v2.26h-2.39zM190.82 193.94h2.39v2.26h-2.39zM185.51 198.94h2.39v2.26h-2.39zM206.74 203.95h2.39v2.26h-2.39zM196.13 208.95h2.39v2.26h-2.39zM174.90 213.95h2.39v2.26h-2.39zM188.17 213.95h2.39v2.26h-2.39zM198.78 213.95h2.39v2.26h-2.39zM188.17 221.46h2.39v2.26h-2.39zM174.90 228.97h2.39v2.26h-2.39zM180.21 228.97h2.39v2.26h-2.39zM185.51 228.97h2.39v2.26h-2.39zM198.78 228.97h2.39v2.26h-2.39zM204.09 228.97h2.39v2.26h-2.39zM182.86 231.47h2.39v2.26h-2.39zM185.51 231.47h2.39v2.26h-2.39zM188.17 231.47h2.39v2.26h-2.39zM180.21 233.97h2.39v2.26h-2.39zM185.51 233.97h2.39v2.26h-2.39zM190.82 233.97h2.39v2.26h-2.39zM196.13 233.97h2.39v2.26h-2.39zM174.90 236.47h2.39v2.26h-2.39zM185.51 238.97h2.39v2.26h-2.39zM185.51 241.48h2.39v2.26h-2.39zM188.17 241.48h2.39v2.26h-2.39zM212.05 241.48h2.39v2.26h-2.39zM177.55 243.98h2.39v2.26h-2.39zM180.21 246.48h2.39v2.26h-2.39zM177.55 263.99h2.39v2.26h-2.39zM180.21 263.99h2.39v2.26h-2.39zM212.05 263.99h2.39v2.26h-2.39zM174.90 266.50h2.39v2.26h-2.39zM182.86 266.50h2.39v2.26h-2.39zM196.13 269.00h2.39v2.26h-2.39z"/><path fill="#c41828" d="M172.16 153.91h2.48v2.26h-2.48zM114.60 161.41h2.48v2.26h-2.48zM122.83 163.91h2.48v2.26h-2.48zM29.64 166.42h2.48v2.26h-2.48zM142.01 166.42h2.48v2.26h-2.48zM70.75 181.43h2.48v2.26h-2.48zM166.68 186.43h2.48v2.26h-2.48zM169.42 198.94h2.48v2.26h-2.48zM54.31 208.95h2.48v2.26h-2.48zM73.49 213.95h2.48v2.26h-2.48zM84.46 213.95h2.48v2.26h-2.48zM111.86 216.46h2.48v2.26h-2.48zM128.31 216.46h2.48v2.26h-2.48zM139.27 221.46h2.48v2.26h-2.48zM51.57 226.46h2.48v2.26h-2.48zM98.16 238.97h2.48v2.26h-2.48zM139.27 241.48h2.48v2.26h-2.48zM43.34 243.98h2.48v2.26h-2.48zM29.64 248.98h2.48v2.26h-2.48zM84.46 248.98h2.48v2.26h-2.48zM120.09 248.98h2.48v2.26h-2.48zM128.31 248.98h2.48v2.26h-2.48zM133.79 248.98h2.48v2.26h-2.48zM29.64 256.49h2.48v2.26h-2.48zM40.60 263.99h2.48v2.26h-2.48zM133.79 263.99h2.48v2.26h-2.48zM62.53 266.50h2.48v2.26h-2.48z"/><path fill="#f6d2e6" d="M182.86 161.41h2.39v2.26h-2.39zM185.51 161.41h2.39v2.26h-2.39zM174.90 163.91h2.39v2.26h-2.39zM198.78 181.43h2.39v2.26h-2.39zM209.39 181.43h2.39v2.26h-2.39zM204.09 183.93h2.39v2.26h-2.39zM193.47 191.44h2.39v2.26h-2.39zM196.13 196.44h2.39v2.26h-2.39zM196.13 206.45h2.39v2.26h-2.39zM182.86 208.95h2.39v2.26h-2.39zM185.51 208.95h2.39v2.26h-2.39zM182.86 213.95h2.39v2.26h-2.39zM180.21 216.46h2.39v2.26h-2.39zM209.39 218.96h2.39v2.26h-2.39zM182.86 228.97h2.39v2.26h-2.39zM177.55 233.97h2.39v2.26h-2.39zM177.55 236.47h2.39v2.26h-2.39zM182.86 248.98h2.39v2.26h-2.39zM188.17 251.48h2.39v2.26h-2.39zM198.78 251.48h2.39v2.26h-2.39zM212.05 253.99h2.39v2.26h-2.39zM182.86 256.49h2.39v2.26h-2.39zM204.09 258.99h2.39v2.26h-2.39zM201.43 266.50h2.39v2.26h-2.39zM212.05 266.50h2.39v2.26h-2.39zM180.21 269.00h2.39v2.26h-2.39zM188.17 269.00h2.39v2.26h-2.39zM193.47 269.00h2.39v2.26h-2.39zM209.39 269.00h2.39v2.26h-2.39zM212.05 269.00h2.39v2.26h-2.39z"/><path fill="#ece8f6" d="M182.86 183.93h2.39v2.26h-2.39zM212.05 196.44h2.39v2.26h-2.39zM185.51 203.95h2.39v2.26h-2.39zM193.47 211.45h2.39v2.26h-2.39zM185.51 226.46h2.39v2.26h-2.39zM174.90 231.47h2.39v2.26h-2.39zM180.21 231.47h2.39v2.26h-2.39zM182.86 233.97h2.39v2.26h-2.39zM188.17 238.97h2.39v2.26h-2.39zM206.74 253.99h2.39v2.26h-2.39zM206.74 258.99h2.39v2.26h-2.39zM174.90 261.49h2.39v2.26h-2.39zM182.86 263.99h2.39v2.26h-2.39zM185.51 263.99h2.39v2.26h-2.39zM206.74 266.50h2.39v2.26h-2.39z"/><path fill="#d0d0f4" d="M196.13 191.44h2.39v2.26h-2.39zM177.55 228.97h2.39v2.26h-2.39zM185.51 248.98h2.39v2.26h-2.39zM193.47 256.49h2.39v2.26h-2.39z"/></svg>
<svg style="position:absolute;left:0;top:0" width="520" height="281" viewBox="0 0 520 281"><g stroke="#767676" stroke-width="1.5"><line x1="217.3" y1="22.90" x2="226.60" y2="22.90" stroke-dasharray="1.16 0.44 1.32 0.49 1.27 0.48 0.63 0.37"/><line x1="217.3" y1="25.40" x2="223.50" y2="25.40" stroke-dasharray="1.45 0.41 1.41 0.28 1.02 0.31 1.09 0.39"/><line x1="217.3" y1="27.91" x2="229.70" y2="27.91" stroke-dasharray="0.61 0.30 0.85 0.48 1.29 0.29 1.32 0.28"/><line x1="217.3" y1="30.41" x2="228.15" y2="30.41" stroke-dasharray="1.16 0.28 0.60 0.47 0.79 0.30 1.48 0.47"/><line x1="217.3" y1="32.91" x2="229.70" y2="32.91" stroke-dasharray="0.86 0.49 1.09 0.42 0.78 0.49 1.22 0.49"/><line x1="217.3" y1="35.41" x2="221.95" y2="35.41" stroke-dasharray="1.40 0.32 0.93 0.29 0.73 0.27 0.87 0.40"/><line x1="217.3" y1="37.91" x2="228.15" y2="37.91" stroke-dasharray="0.60 0.42 0.90 0.33 1.34 0.37 0.88 0.37"/><line x1="217.3" y1="40.41" x2="228.15" y2="40.41" stroke-dasharray="1.23 0.26 1.48 0.26 1.27 0.46 0.62 0.45"/><line x1="217.3" y1="42.92" x2="226.60" y2="42.92" stroke-dasharray="0.93 0.39 0.61 0.26 0.76 0.49 0.78 0.44"/><line x1="217.3" y1="45.42" x2="225.05" y2="45.42" stroke-dasharray="1.44 0.49 0.91 0.34 1.07 0.44 0.70 0.44"/><line x1="217.3" y1="47.92" x2="221.95" y2="47.92" stroke-dasharray="1.32 0.46 0.63 0.49 0.68 0.34 1.15 0.48"/><line x1="217.3" y1="50.42" x2="221.95" y2="50.42" stroke-dasharray="0.91 0.48 1.09 0.33 0.89 0.29 0.67 0.29"/><line x1="217.3" y1="52.93" x2="226.60" y2="52.93" stroke-dasharray="1.22 0.50 0.75 0.26 1.49 0.38 0.97 0.31"/><line x1="217.3" y1="55.43" x2="221.95" y2="55.43" stroke-dasharray="1.13 0.46 1.01 0.36 0.65 0.48 0.63 0.37"/><line x1="217.3" y1="57.93" x2="226.60" y2="57.93" stroke-dasharray="1.35 0.28 1.26 0.49 1.17 0.45 0.70 0.36"/><line x1="217.3" y1="60.43" x2="229.70" y2="60.43" stroke-dasharray="0.73 0.46 0.87 0.36 1.50 0.46 1.48 0.36"/><line x1="217.3" y1="62.93" x2="221.95" y2="62.93" stroke-dasharray="1.04 0.43 1.03 0.32 0.96 0.29 0.94 0.50"/><line x1="217.3" y1="65.43" x2="221.95" y2="65.43" stroke-dasharray="1.46 0.41 1.05 0.33 0.68 0.32 1.30 0.47"/><line x1="217.3" y1="67.94" x2="226.60" y2="67.94" stroke-dasharray="0.93 0.45 1.30 0.42 1.20 0.44 0.93 0.43"/><line x1="217.3" y1="70.44" x2="223.50" y2="70.44" stroke-dasharray="0.85 0.37 1.29 0.42 0.86 0.49 1.18 0.40"/><line x1="217.3" y1="72.94" x2="229.70" y2="72.94" stroke-dasharray="0.61 0.39 0.83 0.42 1.02 0.45 1.18 0.45"/><line x1="217.3" y1="75.44" x2="228.15" y2="75.44" stroke-dasharray="0.91 0.41 1.26 0.46 0.92 0.46 1.38 0.42"/><line x1="217.3" y1="77.94" x2="228.15" y2="77.94" stroke-dasharray="1.48 0.49 1.07 0.38 0.75 0.46 1.44 0.37"/><line x1="217.3" y1="80.45" x2="228.15" y2="80.45" stroke-dasharray="1.22 0.43 1.26 0.29 1.30 0.40 1.20 0.36"/><line x1="217.3" y1="82.95" x2="228.15" y2="82.95" stroke-dasharray="1.16 0.44 1.17 0.43 0.62 0.29 1.00 0.41"/><line x1="217.3" y1="85.45" x2="226.60" y2="85.45" stroke-dasharray="0.80 0.42 1.17 0.26 1.02 0.31 0.65 0.28"/><line x1="217.3" y1="87.95" x2="223.50" y2="87.95" stroke-dasharray="0.89 0.30 0.77 0.26 1.02 0.35 1.15 0.40"/><line x1="217.3" y1="90.45" x2="228.15" y2="90.45" stroke-dasharray="0.81 0.48 0.60 0.35 0.85 0.35 0.70 0.46"/><line x1="217.3" y1="92.96" x2="223.50" y2="92.96" stroke-dasharray="0.94 0.26 1.15 0.27 1.09 0.33 1.12 0.49"/><line x1="217.3" y1="95.46" x2="221.95" y2="95.46" stroke-dasharray="1.34 0.35 1.33 0.41 0.93 0.29 1.14 0.39"/><line x1="217.3" y1="97.96" x2="221.95" y2="97.96" stroke-dasharray="1.46 0.49 1.15 0.34 1.40 0.25 0.70 0.39"/><line x1="217.3" y1="100.46" x2="223.50" y2="100.46" stroke-dasharray="1.15 0.29 1.17 0.47 0.94 0.36 0.80 0.32"/><line x1="217.3" y1="102.96" x2="226.60" y2="102.96" stroke-dasharray="1.48 0.34 1.47 0.48 1.14 0.31 1.48 0.37"/><line x1="217.3" y1="105.47" x2="221.95" y2="105.47" stroke-dasharray="0.97 0.33 1.49 0.37 0.86 0.37 0.71 0.41"/><line x1="217.3" y1="107.97" x2="228.15" y2="107.97" stroke-dasharray="1.00 0.32 1.30 0.46 0.61 0.38 0.85 0.48"/><line x1="217.3" y1="110.47" x2="229.70" y2="110.47" stroke-dasharray="1.30 0.31 0.84 0.29 1.49 0.32 1.15 0.37"/><line x1="217.3" y1="112.97" x2="223.50" y2="112.97" stroke-dasharray="1.18 0.40 1.27 0.28 1.28 0.33 1.08 0.33"/><line x1="217.3" y1="115.47" x2="243.65" y2="115.47" stroke-dasharray="0.87 0.38 1.02 0.34 1.27 0.40 0.63 0.31"/><line x1="217.3" y1="117.98" x2="243.65" y2="117.98" stroke-dasharray="1.01 0.48 1.40 0.39 0.61 0.44 0.98 0.39"/><line x1="217.3" y1="120.48" x2="228.15" y2="120.48" stroke-dasharray="1.24 0.41 1.03 0.48 0.95 0.35 1.37 0.30"/><line x1="217.3" y1="122.98" x2="221.95" y2="122.98" stroke-dasharray="0.87 0.46 0.66 0.46 1.23 0.36 0.86 0.45"/><line x1="217.3" y1="125.48" x2="226.60" y2="125.48" stroke-dasharray="1.42 0.29 1.03 0.39 1.05 0.33 0.74 0.40"/><line x1="217.3" y1="127.98" x2="221.95" y2="127.98" stroke-dasharray="1.33 0.27 0.81 0.45 1.31 0.42 0.62 0.43"/><line x1="217.3" y1="130.49" x2="229.70" y2="130.49" stroke-dasharray="1.48 0.50 1.23 0.26 1.36 0.30 1.18 0.49"/><line x1="217.3" y1="132.99" x2="221.95" y2="132.99" stroke-dasharray="1.24 0.28 0.86 0.48 0.73 0.40 0.97 0.29"/><line x1="217.3" y1="135.49" x2="226.60" y2="135.49" stroke-dasharray="1.16 0.26 0.70 0.34 0.66 0.26 1.12 0.44"/><line x1="217.3" y1="137.99" x2="229.70" y2="137.99" stroke-dasharray="1.39 0.28 0.99 0.33 1.14 0.37 1.44 0.34"/><line x1="217.3" y1="140.49" x2="229.70" y2="140.49" stroke-dasharray="0.65 0.42 0.74 0.41 1.06 0.48 1.10 0.41"/><line x1="217.3" y1="143.00" x2="228.15" y2="143.00" stroke-dasharray="0.84 0.39 0.83 0.44 1.07 0.28 0.81 0.34"/><line x1="217.3" y1="145.50" x2="228.15" y2="145.50" stroke-dasharray="1.26 0.29 1.24 0.41 0.68 0.42 0.68 0.28"/><line x1="217.3" y1="148.00" x2="229.70" y2="148.00" stroke-dasharray="1.13 0.31 1.39 0.37 0.89 0.45 0.63 0.43"/><line x1="217.3" y1="150.50" x2="225.05" y2="150.50" stroke-dasharray="0.65 0.29 1.46 0.42 0.80 0.28 1.48 0.42"/><line x1="217.3" y1="153.00" x2="228.15" y2="153.00" stroke-dasharray="1.34 0.28 1.16 0.34 0.81 0.33 1.15 0.34"/><line x1="217.3" y1="155.51" x2="225.05" y2="155.51" stroke-dasharray="0.95 0.28 1.35 0.41 1.32 0.36 1.37 0.38"/><line x1="217.3" y1="158.01" x2="226.60" y2="158.01" stroke-dasharray="1.13 0.39 1.27 0.35 0.69 0.26 0.78 0.26"/><line x1="217.3" y1="160.51" x2="223.50" y2="160.51" stroke-dasharray="1.40 0.37 1.28 0.25 1.02 0.47 1.16 0.36"/><line x1="217.3" y1="163.01" x2="223.50" y2="163.01" stroke-dasharray="1.02 0.27 0.74 0.29 0.94 0.35 1.39 0.29"/><line x1="217.3" y1="165.51" x2="221.95" y2="165.51" stroke-dasharray="0.83 0.32 0.75 0.32 0.81 0.37 0.63 0.48"/><line x1="217.3" y1="168.02" x2="226.60" y2="168.02" stroke-dasharray="0.93 0.48 1.22 0.42 1.02 0.49 0.71 0.42"/><line x1="217.3" y1="170.52" x2="228.15" y2="170.52" stroke-dasharray="0.86 0.42 1.26 0.29 0.78 0.26 0.81 0.27"/><line x1="217.3" y1="173.02" x2="221.95" y2="173.02" stroke-dasharray="0.96 0.49 0.93 0.33 1.02 0.32 1.26 0.43"/><line x1="217.3" y1="175.52" x2="242.10" y2="175.52" stroke-dasharray="0.75 0.31 1.20 0.49 1.18 0.36 1.48 0.25"/><line x1="217.3" y1="178.03" x2="242.10" y2="178.03" stroke-dasharray="0.65 0.44 0.97 0.26 1.09 0.50 1.07 0.34"/><line x1="217.3" y1="180.53" x2="221.95" y2="180.53" stroke-dasharray="0.68 0.27 1.41 0.37 1.44 0.26 0.82 0.26"/><line x1="217.3" y1="183.03" x2="242.10" y2="183.03" stroke-dasharray="0.96 0.27 0.83 0.35 0.88 0.26 0.63 0.49"/><line x1="217.3" y1="185.53" x2="223.50" y2="185.53" stroke-dasharray="0.76 0.38 0.96 0.38 0.68 0.33 0.70 0.39"/><line x1="217.3" y1="188.03" x2="242.10" y2="188.03" stroke-dasharray="1.43 0.40 1.37 0.30 0.62 0.38 1.04 0.39"/><line x1="217.3" y1="190.53" x2="228.15" y2="190.53" stroke-dasharray="0.94 0.41 1.25 0.48 0.88 0.36 1.34 0.31"/><line x1="217.3" y1="193.04" x2="223.50" y2="193.04" stroke-dasharray="0.70 0.33 0.68 0.44 1.34 0.33 0.72 0.27"/><line x1="217.3" y1="195.54" x2="221.95" y2="195.54" stroke-dasharray="0.82 0.27 0.99 0.39 0.82 0.27 1.23 0.26"/><line x1="217.3" y1="198.04" x2="229.70" y2="198.04" stroke-dasharray="0.78 0.32 0.94 0.27 0.98 0.33 1.28 0.39"/><line x1="217.3" y1="200.54" x2="228.15" y2="200.54" stroke-dasharray="1.41 0.41 1.28 0.39 1.00 0.45 1.19 0.49"/><line x1="217.3" y1="203.04" x2="223.50" y2="203.04" stroke-dasharray="1.26 0.43 0.84 0.45 0.94 0.28 0.66 0.29"/><line x1="217.3" y1="205.55" x2="223.50" y2="205.55" stroke-dasharray="0.84 0.42 0.86 0.27 1.29 0.39 0.62 0.26"/><line x1="217.3" y1="208.05" x2="221.95" y2="208.05" stroke-dasharray="0.72 0.34 1.37 0.49 1.15 0.31 0.99 0.34"/><line x1="217.3" y1="210.55" x2="229.70" y2="210.55" stroke-dasharray="0.90 0.25 1.13 0.46 1.25 0.27 1.08 0.29"/><line x1="217.3" y1="213.05" x2="229.70" y2="213.05" stroke-dasharray="1.24 0.36 1.44 0.45 0.71 0.33 1.42 0.37"/><line x1="217.3" y1="215.55" x2="225.05" y2="215.55" stroke-dasharray="0.99 0.36 1.29 0.48 1.08 0.49 1.14 0.28"/><line x1="217.3" y1="218.06" x2="221.95" y2="218.06" stroke-dasharray="1.33 0.35 0.65 0.49 0.63 0.39 1.03 0.47"/><line x1="217.3" y1="220.56" x2="221.95" y2="220.56" stroke-dasharray="0.95 0.30 0.85 0.30 1.11 0.34 1.28 0.31"/><line x1="217.3" y1="223.06" x2="226.60" y2="223.06" stroke-dasharray="0.92 0.31 1.48 0.46 1.36 0.40 0.96 0.29"/><line x1="217.3" y1="225.56" x2="221.95" y2="225.56" stroke-dasharray="1.35 0.37 0.63 0.29 0.69 0.43 1.41 0.30"/><line x1="217.3" y1="228.06" x2="223.50" y2="228.06" stroke-dasharray="1.32 0.33 1.21 0.47 1.16 0.45 0.94 0.25"/><line x1="217.3" y1="230.57" x2="223.50" y2="230.57" stroke-dasharray="1.06 0.40 0.77 0.35 0.89 0.26 0.88 0.35"/><line x1="217.3" y1="233.07" x2="237.45" y2="233.07" stroke-dasharray="1.03 0.43 0.96 0.50 1.33 0.48 1.22 0.42"/><line x1="217.3" y1="235.57" x2="229.70" y2="235.57" stroke-dasharray="1.08 0.45 0.93 0.40 1.21 0.38 0.86 0.27"/><line x1="217.3" y1="238.07" x2="228.15" y2="238.07" stroke-dasharray="0.68 0.34 1.12 0.44 1.24 0.33 1.44 0.32"/><line x1="217.3" y1="240.57" x2="228.15" y2="240.57" stroke-dasharray="1.24 0.27 1.28 0.42 1.46 0.47 1.22 0.46"/><line x1="217.3" y1="243.08" x2="225.05" y2="243.08" stroke-dasharray="1.26 0.40 0.79 0.38 1.41 0.31 1.48 0.39"/><line x1="217.3" y1="245.58" x2="226.60" y2="245.58" stroke-dasharray="0.95 0.25 0.95 0.29 1.19 0.47 1.42 0.40"/><line x1="217.3" y1="248.08" x2="228.15" y2="248.08" stroke-dasharray="0.95 0.28 1.22 0.39 1.24 0.34 1.40 0.30"/><line x1="217.3" y1="250.58" x2="239.00" y2="250.58" stroke-dasharray="0.88 0.32 1.16 0.47 0.75 0.41 1.29 0.31"/><line x1="217.3" y1="253.08" x2="226.60" y2="253.08" stroke-dasharray="0.66 0.39 1.35 0.47 1.26 0.35 0.98 0.38"/><line x1="217.3" y1="255.59" x2="226.60" y2="255.59" stroke-dasharray="1.41 0.33 0.85 0.40 1.47 0.30 0.63 0.28"/><line x1="217.3" y1="258.09" x2="223.50" y2="258.09" stroke-dasharray="1.11 0.40 0.77 0.30 1.14 0.41 1.22 0.43"/><line x1="217.3" y1="260.59" x2="225.05" y2="260.59" stroke-dasharray="0.66 0.37 1.35 0.49 0.89 0.46 1.18 0.48"/><line x1="217.3" y1="263.09" x2="225.05" y2="263.09" stroke-dasharray="0.81 0.42 1.36 0.37 0.69 0.30 0.74 0.27"/><line x1="217.3" y1="265.59" x2="240.55" y2="265.59" stroke-dasharray="0.74 0.40 0.69 0.44 1.26 0.45 1.32 0.43"/><line x1="217.3" y1="268.10" x2="229.70" y2="268.10" stroke-dasharray="1.43 0.49 1.16 0.49 0.69 0.28 0.66 0.30"/><line x1="217.3" y1="270.60" x2="226.60" y2="270.60" stroke-dasharray="0.94 0.36 1.21 0.44 0.68 0.35 1.09 0.34"/></g></svg>
<div style="position:absolute;left:46.90px;top:277.4px;width:12.44px;height:4px;background:#2e10be;box-shadow:inset -0.6px 0 0 rgba(80,80,100,.55)"></div><div style="position:absolute;left:59.34px;top:277.4px;width:12.44px;height:4px;background:#2212da;box-shadow:inset -0.6px 0 0 rgba(80,80,100,.55)"></div><div style="position:absolute;left:71.78px;top:277.4px;width:12.44px;height:4px;background:#6460ee;box-shadow:inset -0.6px 0 0 rgba(80,80,100,.55)"></div><div style="position:absolute;left:84.22px;top:277.4px;width:12.44px;height:4px;background:#9494f0;box-shadow:inset -0.6px 0 0 rgba(80,80,100,.55)"></div><div style="position:absolute;left:96.66px;top:277.4px;width:12.44px;height:4px;background:#d6d6f4;box-shadow:inset -0.6px 0 0 rgba(80,80,100,.55)"></div><div style="position:absolute;left:109.10px;top:277.4px;width:12.44px;height:4px;background:#e8e8f8;box-shadow:inset -0.6px 0 0 rgba(80,80,100,.55)"></div><div style="position:absolute;left:121.54px;top:277.4px;width:12.44px;height:4px;background:#f6d2ec;box-shadow:inset -0.6px 0 0 rgba(80,80,100,.55)"></div><div style="position:absolute;left:133.98px;top:277.4px;width:12.44px;height:4px;background:#f08888;box-shadow:inset -0.6px 0 0 rgba(80,80,100,.55)"></div><div style="position:absolute;left:146.42px;top:277.4px;width:12.44px;height:4px;background:#f090a0;box-shadow:inset -0.6px 0 0 rgba(80,80,100,.55)"></div><div style="position:absolute;left:158.86px;top:277.4px;width:12.44px;height:4px;background:#f65656;box-shadow:inset -0.6px 0 0 rgba(80,80,100,.55)"></div><div style="position:absolute;left:171.30px;top:277.4px;width:12.44px;height:4px;background:#ee4444;box-shadow:inset -0.6px 0 0 rgba(80,80,100,.55)"></div><div style="position:absolute;left:183.74px;top:277.4px;width:12.44px;height:4px;background:#de0c0c;box-shadow:inset -0.6px 0 0 rgba(80,80,100,.55)"></div>
<div class="a" style="left:259.0px;top:-1.1px;font-size:11px;font-weight:bold">B</div>
<svg style="position:absolute;left:0;top:0" width="520" height="281" viewBox="0 0 520 281">
<defs>
<radialGradient id="gr" cx="0.4" cy="0.38" r="0.65"><stop offset="0" stop-color="#ff7070"/><stop offset="0.3" stop-color="#f01414"/><stop offset="0.8" stop-color="#c00000"/><stop offset="1" stop-color="#900000"/></radialGradient>
<radialGradient id="gb" cx="0.4" cy="0.38" r="0.65"><stop offset="0" stop-color="#8a8aff"/><stop offset="0.3" stop-color="#1818e0"/><stop offset="0.8" stop-color="#0a0aa8"/><stop offset="1" stop-color="#000070"/></radialGradient>
</defs>
<polygon points="284.1,32.1 279.9,39.6 279.9,49 284.3,56" fill="#fbfbfb" stroke="#a8a8a8" stroke-width="0.45"/>
<rect x="283.9" y="31.8" width="224.2" height="24.4" fill="#bababa"/>
<g stroke="#c2c2c2" stroke-width="0.7">
<line x1="283.9" y1="35.2" x2="508.1" y2="35.2"/><line x1="283.9" y1="39.4" x2="508.1" y2="39.4"/>
<line x1="283.9" y1="43.4" x2="508.1" y2="43.4"/><line x1="283.9" y1="47.6" x2="508.1" y2="47.6"/>
<line x1="283.9" y1="51.6" x2="508.1" y2="51.6"/></g>
<g stroke="#858585" stroke-width="0.5">
<line x1="299.5" y1="31.8" x2="299.5" y2="56.2" stroke="#a4a4a4"/><line x1="347" y1="31.8" x2="347" y2="56.2" stroke="#9aaab0"/>
<line x1="395.7" y1="31.8" x2="395.7" y2="56.2"/><line x1="443.5" y1="31.8" x2="443.5" y2="56.2"/>
<line x1="492.7" y1="31.8" x2="492.7" y2="56.2"/></g>
<line x1="283.9" y1="31.9" x2="508.1" y2="31.9" stroke="#999" stroke-width="0.5"/>
<polygon points="508.1,31.9 512.6,36.4 512.6,54.6 508.1,56.4" fill="#c9c9cc" stroke="#9c9ca0" stroke-width="0.45"/><line x1="508.1" y1="31.9" x2="508.1" y2="56.2" stroke="#8c8c8c" stroke-width="0.5"/>
<g fill="#1e1e1e"><polygon points="275.4,56 281.2,47.8 283.4,48.6 277.8,57.4"/><polygon points="278.2,57.6 283.6,49 285.8,49.6 280.4,58.2"/></g>
<g stroke="#fff" stroke-width="0.35" opacity="0.55"><line x1="277.2" y1="53.6" x2="279.2" y2="54.6"/><line x1="279.6" y1="50.4" x2="281.6" y2="51.4"/><line x1="281.2" y1="54.6" x2="283" y2="55.6"/></g>
<circle cx="295.6" cy="40.6" r="2.15" fill="url(#gr)"/><circle cx="298.9" cy="40.6" r="2.15" fill="url(#gr)"/><circle cx="302.3" cy="40.6" r="2.15" fill="url(#gr)"/><circle cx="305.7" cy="40.6" r="2.15" fill="url(#gr)"/><circle cx="309.0" cy="40.6" r="2.15" fill="url(#gr)"/><circle cx="312.4" cy="40.6" r="2.15" fill="url(#gr)"/><circle cx="317.7" cy="40.6" r="2.15" fill="url(#gr)"/><circle cx="325.4" cy="40.6" r="2.15" fill="url(#gr)"/><circle cx="328.8" cy="40.6" r="2.15" fill="url(#gr)"/><circle cx="293.2" cy="43.5" r="2.15" fill="url(#gr)"/><circle cx="297.0" cy="43.5" r="2.15" fill="url(#gr)"/><circle cx="300.4" cy="43.5" r="2.15" fill="url(#gr)"/><circle cx="304.2" cy="43.5" r="2.15" fill="url(#gr)"/><circle cx="307.6" cy="43.5" r="2.15" fill="url(#gr)"/><circle cx="311.0" cy="43.5" r="2.15" fill="url(#gr)"/><circle cx="314.8" cy="43.5" r="2.15" fill="url(#gr)"/><circle cx="319.1" cy="43.5" r="2.15" fill="url(#gr)"/><circle cx="323.5" cy="43.5" r="2.15" fill="url(#gr)"/><circle cx="329.7" cy="43.5" r="2.15" fill="url(#gr)"/><circle cx="298.0" cy="46.8" r="2.15" fill="url(#gr)"/><circle cx="302.8" cy="46.8" r="2.15" fill="url(#gr)"/><circle cx="307.1" cy="46.8" r="2.15" fill="url(#gr)"/><circle cx="311.0" cy="46.8" r="2.15" fill="url(#gr)"/><circle cx="316.7" cy="46.8" r="2.15" fill="url(#gr)"/><circle cx="321.5" cy="46.8" r="2.15" fill="url(#gr)"/><circle cx="309.0" cy="50.7" r="2.15" fill="url(#gr)"/><circle cx="333.5" cy="35.7" r="2.15" fill="url(#gr)"/><circle cx="337.3" cy="35.7" r="2.15" fill="url(#gr)"/><circle cx="340.2" cy="38.4" r="2.15" fill="url(#gr)"/><circle cx="347.9" cy="37.6" r="2.15" fill="url(#gr)"/><circle cx="350.6" cy="36.2" r="2.15" fill="url(#gr)"/><circle cx="324.8" cy="40.5" r="2.15" fill="url(#gr)"/><circle cx="329.6" cy="42.4" r="2.15" fill="url(#gr)"/><circle cx="322.9" cy="43.9" r="2.15" fill="url(#gr)"/><circle cx="321.4" cy="46.8" r="2.15" fill="url(#gr)"/><circle cx="335.9" cy="44.8" r="2.15" fill="url(#gr)"/><circle cx="337.3" cy="47.7" r="2.15" fill="url(#gr)"/><circle cx="355.1" cy="46.3" r="2.15" fill="url(#gr)"/><circle cx="305.0" cy="48.6" r="2.15" fill="url(#gr)"/><circle cx="313.0" cy="48.4" r="2.15" fill="url(#gr)"/><circle cx="309.5" cy="47.6" r="2.15" fill="url(#gr)"/><circle cx="300.2" cy="45.4" r="2.15" fill="url(#gr)"/><circle cx="318.5" cy="45.6" r="2.15" fill="url(#gr)"/><circle cx="326.5" cy="45.2" r="2.15" fill="url(#gr)"/><circle cx="438.7" cy="45.1" r="2.3" fill="url(#gb)"/><circle cx="442.5" cy="43.9" r="2.3" fill="url(#gb)"/><circle cx="444.9" cy="42.6" r="2.3" fill="url(#gb)"/><circle cx="455.0" cy="46.3" r="2.3" fill="url(#gb)"/><circle cx="456.9" cy="47.7" r="2.3" fill="url(#gb)"/><circle cx="460.3" cy="41.7" r="2.3" fill="url(#gb)"/><circle cx="466.5" cy="41.9" r="2.3" fill="url(#gb)"/><circle cx="465.1" cy="46.1" r="2.3" fill="url(#gb)"/><circle cx="469.4" cy="45.8" r="2.3" fill="url(#gb)"/><circle cx="473.3" cy="44.5" r="2.3" fill="url(#gb)"/><circle cx="480.1" cy="40.0" r="2.3" fill="url(#gb)"/><circle cx="489.2" cy="43.2" r="2.3" fill="url(#gb)"/><circle cx="498.8" cy="42.2" r="2.3" fill="url(#gb)"/>
</svg>
<div class="ax" style="left:287.8px;top:56.1px">-500</div>
<div class="ax" style="left:343.4px;top:56.1px">0</div>
<div class="ax" style="left:386.9px;top:56.1px">500</div>
<div class="ax" style="left:433.5px;top:56.1px">1000</div>
<div class="ax" style="left:482.7px;top:56.1px">1500</div>
<div class="ax" style="left:383.6px;top:59.9px">x</div>
<div class="ax" style="left:514.1px;top:41.2px;font-size:4.8px">50</div>
<div class="ax" style="left:513.6px;top:45.6px;font-size:4.8px">0</div>
<div class="ax" style="left:512.8px;top:49.8px;font-size:4.8px">-50</div>
<div class="ax" style="left:512.3px;top:54.1px;font-size:4.8px">-100</div>
<svg style="position:absolute;left:0;top:0" width="520" height="281"><defs><radialGradient id="lr" cx="0.5" cy="0.45" r="0.55"><stop offset="0.6" stop-color="#f00a0a"/><stop offset="1" stop-color="#c00000"/></radialGradient><radialGradient id="lb" cx="0.5" cy="0.45" r="0.55"><stop offset="0.6" stop-color="#1a1ac8"/><stop offset="1" stop-color="#0a0a98"/></radialGradient></defs><circle cx="307" cy="139.2" r="4.9" fill="url(#lr)"/><circle cx="307" cy="170.6" r="4.9" fill="url(#lb)"/></svg>
<div class="a lg" style="left:320px;top:137.5px;font-size:8.2px"><i>MLL</i>-rearranged infant ALL</div>
<div class="a lg" style="left:320px;top:148.9px;font-size:8.2px;letter-spacing:0.13px">including t(4;11), t(11;19), and t(9;11)</div>
<div class="a lg" style="left:320px;top:167.9px;font-size:8.2px">Pediatric precursor B-ALL (non-infants)</div>
</body></html>
